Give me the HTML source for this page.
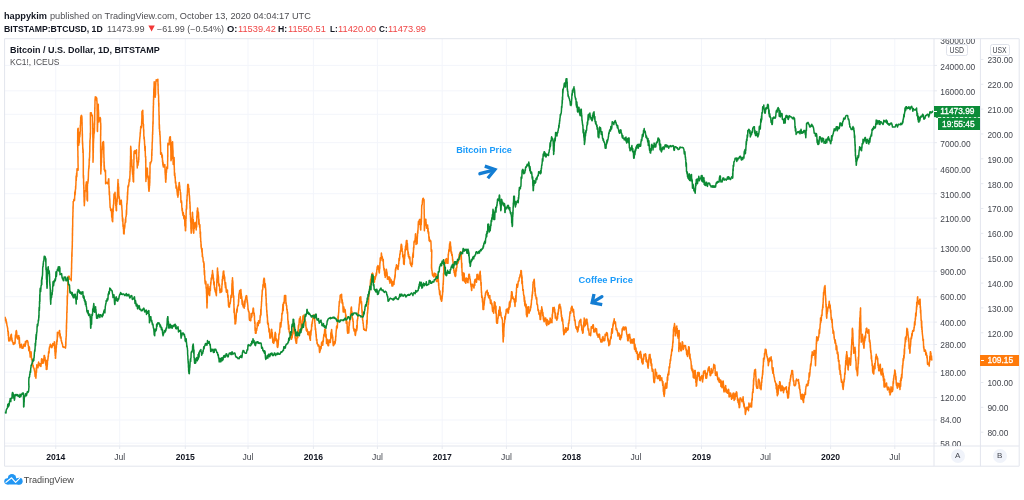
<!DOCTYPE html>
<html><head><meta charset="utf-8"><title>BTCUSD vs Coffee</title>
<style>
html,body{margin:0;padding:0;background:#fff;}
body{width:1024px;height:500px;position:relative;overflow:hidden;font-family:"Liberation Sans",sans-serif;}
.t{position:absolute;white-space:nowrap;line-height:1;}
.b{font-weight:bold;}
.ax{position:absolute;white-space:nowrap;line-height:1;font-size:8.4px;color:#44474f;}
.r{color:#f04545;}
.k{color:#131722;}
.g{color:#4e4e52;}
#wrap{position:absolute;left:0;top:0;width:1024px;height:500px;will-change:transform;}
</style></head><body><div id="wrap">
<svg width="1024" height="500" viewBox="0 0 1024 500" style="position:absolute;left:0;top:0">
<path d="M4.6,65.40H934.0 M4.6,90.82H934.0 M4.6,114.32H934.0 M4.6,142.66H934.0 M4.6,168.98H934.0 M4.6,193.73H934.0 M4.6,218.14H934.0 M4.6,248.21H934.0 M4.6,271.27H934.0 M4.6,296.69H934.0 M4.6,322.12H934.0 M4.6,344.48H934.0 M4.6,372.18H934.0 M4.6,397.60H934.0 M4.6,419.97H934.0 M4.6,443.19H934.0 M55.75,38.7V446.0 M119.70,38.7V446.0 M185.30,38.7V446.0 M248.00,38.7V446.0 M313.40,38.7V446.0 M377.40,38.7V446.0 M442.20,38.7V446.0 M506.40,38.7V446.0 M571.50,38.7V446.0 M635.90,38.7V446.0 M701.50,38.7V446.0 M765.50,38.7V446.0 M830.60,38.7V446.0 M894.80,38.7V446.0" stroke="#f3f5fb" stroke-width="1" fill="none"/>
<path d="M4.6,38.7H1019.2V466.2H4.6Z M934.0,38.7V466.2 M980.4,38.7V466.2 M4.6,446.0H1019.2" stroke="#e2e5ed" stroke-width="1" fill="none"/>
<path d="M934.0,65.40h3 M934.0,90.82h3 M934.0,114.32h3 M934.0,142.66h3 M934.0,168.98h3 M934.0,193.73h3 M934.0,218.14h3 M934.0,248.21h3 M934.0,271.27h3 M934.0,296.69h3 M934.0,322.12h3 M934.0,344.48h3 M934.0,372.18h3 M934.0,397.60h3 M934.0,419.97h3 M934.0,443.19h3 M980.4,432.19h3 M980.4,407.34h3 M980.4,382.49h3 M980.4,357.64h3 M980.4,332.78h3 M980.4,307.93h3 M980.4,283.08h3 M980.4,258.22h3 M980.4,233.37h3 M980.4,208.52h3 M980.4,183.66h3 M980.4,158.81h3 M980.4,133.96h3 M980.4,109.11h3 M980.4,84.25h3 M980.4,59.40h3 M55.75,446.0v3 M119.70,446.0v3 M185.30,446.0v3 M248.00,446.0v3 M313.40,446.0v3 M377.40,446.0v3 M442.20,446.0v3 M506.40,446.0v3 M571.50,446.0v3 M635.90,446.0v3 M701.50,446.0v3 M765.50,446.0v3 M830.60,446.0v3 M894.80,446.0v3" stroke="#e6e9f0" stroke-width="1" fill="none"/>
<clipPath id="cp"><rect x="4.6" y="38.7" width="929.4" height="407.3"/></clipPath>
<g clip-path="url(#cp)" fill="none" stroke-linejoin="round" stroke-linecap="round">
<path d="M5.0,317.8 5.2,317.4 5.4,320.8 5.5,320.1 5.7,318.8 5.9,320.7 6.1,319.8 6.2,322.9 6.5,321.8 6.8,323.8 7.0,325.6 7.2,326.0 7.5,327.6 7.6,328.5 7.7,327.9 7.8,331.5 7.8,331.5 7.9,330.3 8.0,331.2 8.1,333.6 8.2,332.1 8.2,335.6 8.3,331.5 8.4,332.4 8.5,336.4 8.6,339.4 8.7,339.4 8.8,340.9 9.1,340.9 9.4,339.7 9.7,339.2 10.0,340.7 10.2,337.3 10.3,337.2 10.5,337.7 10.6,336.9 10.8,336.2 10.9,334.9 11.1,338.4 11.2,334.8 11.4,334.3 11.5,336.8 11.7,340.0 11.8,338.4 11.9,337.9 12.1,340.9 12.2,341.5 12.4,340.5 12.5,341.9 12.9,342.3 13.3,344.3 13.8,344.4 14.1,344.0 14.4,342.5 14.7,343.4 15.0,343.4 15.1,341.9 15.2,338.9 15.3,337.1 15.4,335.1 15.5,336.4 15.6,335.9 15.7,335.6 15.8,335.7 15.9,333.5 16.0,331.8 16.1,330.9 16.2,331.7 16.4,330.6 16.5,331.8 16.7,331.8 16.8,334.0 16.9,337.8 17.1,337.8 17.2,338.4 17.4,335.8 17.5,338.7 17.8,339.0 18.1,337.2 18.4,338.8 18.8,336.5 18.8,335.6 18.9,335.8 19.0,338.5 19.1,339.2 19.2,343.6 19.3,338.9 19.4,337.4 19.5,341.9 19.6,342.0 19.6,343.5 19.7,345.5 19.8,346.2 19.9,345.0 20.0,347.7 20.3,347.0 20.6,346.6 20.9,345.5 21.2,344.3 21.6,344.3 21.9,348.2 22.2,348.2 22.5,347.7 22.8,347.0 23.0,348.2 23.2,347.3 23.5,346.0 23.8,344.4 24.1,344.2 24.4,345.0 24.7,344.1 25.0,346.4 25.2,346.1 25.4,341.6 25.5,343.2 25.7,344.1 25.9,342.0 26.1,341.2 26.2,341.3 26.7,340.6 27.1,341.6 27.5,340.6 27.7,342.2 27.9,341.8 28.0,342.1 28.2,345.5 28.4,345.1 28.6,348.2 28.8,350.8 28.9,347.7 29.1,346.8 29.3,346.8 29.5,347.8 29.6,350.1 29.8,353.2 30.0,353.8 30.2,357.1 30.4,357.1 30.5,353.9 30.7,352.8 30.9,351.8 31.1,351.8 31.2,352.7 31.4,356.8 31.6,359.7 31.8,358.9 32.0,358.8 32.1,359.7 32.3,360.2 32.5,361.3 32.7,365.1 32.9,365.3 33.0,366.7 33.2,365.5 33.4,367.4 33.6,367.8 33.8,367.9 34.0,368.2 34.2,369.4 34.5,371.1 34.8,371.9 35.0,375.0 35.1,376.5 35.2,372.8 35.3,373.5 35.4,376.0 35.5,376.6 35.6,372.3 35.7,372.2 35.8,377.7 35.8,377.2 35.9,378.2 36.0,376.2 36.1,375.3 36.2,371.8 36.2,368.0 36.3,369.4 36.4,369.5 36.5,372.4 36.6,369.6 36.7,366.8 36.8,364.8 37.1,365.8 37.4,365.9 37.7,367.4 38.0,367.7 38.3,363.6 38.6,362.1 38.9,365.7 39.2,363.3 39.5,365.1 39.8,364.8 40.0,363.7 40.2,365.6 40.5,366.3 40.6,364.7 40.8,364.7 40.9,366.4 41.1,363.4 41.2,364.1 41.3,363.5 41.5,359.3 41.6,358.8 41.8,358.8 42.0,359.3 42.2,362.8 42.5,363.2 42.8,361.4 43.0,362.4 43.2,359.2 43.3,361.8 43.5,361.8 43.6,363.1 43.8,360.6 43.9,359.5 44.1,355.6 44.2,356.1 44.5,355.6 44.8,357.8 45.0,357.4 45.2,360.7 45.5,360.8 45.6,360.7 45.7,361.0 45.8,365.2 46.0,362.8 46.1,360.2 46.2,366.0 46.3,369.4 46.4,364.7 46.5,365.4 46.6,367.4 46.8,368.3 46.8,368.6 46.9,369.0 47.0,369.1 47.1,366.5 47.2,366.7 47.3,365.1 47.4,364.7 47.5,361.2 47.6,361.3 47.6,360.5 47.7,360.0 47.8,360.8 47.9,358.6 48.0,359.9 48.1,355.9 48.2,357.2 48.3,356.8 48.4,356.3 48.5,353.5 48.6,351.8 48.7,352.7 48.8,353.0 48.9,351.3 49.0,351.9 49.1,353.0 49.2,348.8 49.6,346.7 49.9,347.5 50.2,344.4 50.5,344.3 50.8,346.6 51.1,345.0 51.4,345.9 51.8,347.7 52.0,347.3 52.2,346.5 52.5,345.8 52.8,343.5 53.0,345.6 53.4,344.2 53.8,344.4 54.2,343.3 54.3,341.8 54.4,341.8 54.5,342.0 54.5,343.6 54.6,347.0 54.7,348.9 54.7,347.9 54.8,348.9 54.9,348.4 54.9,351.8 55.0,350.9 55.1,353.5 55.2,354.4 55.2,355.7 55.3,355.2 55.4,355.6 55.4,358.2 55.5,357.7 55.6,358.2 55.6,354.6 55.7,355.3 55.8,351.8 55.8,352.2 55.9,353.0 55.9,351.4 56.0,351.5 56.1,351.7 56.1,348.0 56.2,344.4 56.2,345.1 56.3,348.1 56.4,346.7 56.4,346.6 56.5,343.6 56.6,341.7 56.6,342.5 56.7,342.4 56.8,344.5 56.9,339.9 57.0,341.9 57.1,341.9 57.2,340.8 57.3,336.2 57.4,332.3 57.5,335.5 57.7,337.1 57.8,332.5 57.9,334.4 58.0,333.2 58.4,332.7 58.8,332.5 59.2,331.7 59.4,330.6 59.6,330.6 59.7,335.0 59.9,336.2 60.0,333.9 60.2,333.8 60.3,337.9 60.5,336.5 60.8,336.8 61.0,337.5 61.2,340.9 61.5,340.5 61.8,343.1 61.9,342.4 62.1,343.1 62.3,343.7 62.5,344.5 62.6,345.0 62.8,346.9 63.0,347.0 63.4,346.5 63.8,347.4 64.2,347.1 64.7,347.5 65.1,347.4 65.5,348.1 65.6,346.9 65.6,346.9 65.7,344.6 65.7,341.7 65.8,342.2 65.8,345.9 65.9,342.9 65.9,338.6 66.0,338.5 66.0,340.2 66.1,338.0 66.1,336.9 66.2,336.3 66.2,336.6 66.3,335.7 66.3,333.8 66.3,333.4 66.3,330.2 66.4,332.0 66.4,328.7 66.4,326.6 66.4,325.0 66.5,325.8 66.5,328.7 66.5,325.4 66.5,322.6 66.6,322.4 66.6,321.7 66.6,320.0 66.6,319.7 66.6,320.9 66.7,323.2 66.7,321.9 66.7,321.3 66.7,320.9 66.8,317.3 66.8,314.3 66.8,314.2 66.8,312.5 66.9,311.8 66.9,310.7 66.9,312.3 66.9,312.0 67.0,313.0 67.0,309.8 67.0,306.6 67.1,308.7 67.1,310.0 67.1,309.1 67.1,306.8 67.2,304.5 67.2,300.8 67.2,295.7 67.3,300.3 67.3,304.3 67.3,300.7 67.4,298.3 67.4,296.2 67.4,297.4 67.4,296.8 67.5,296.9 67.5,296.9 67.5,295.7 67.6,295.7 67.6,292.5 67.6,290.7 67.6,292.6 67.7,291.8 67.7,292.2 67.7,290.9 67.7,289.6 67.8,289.0 67.8,285.0 67.8,285.9 67.9,282.1 67.9,283.6 67.9,284.8 67.9,282.2 68.0,281.4 68.0,279.9 68.0,278.9 68.0,279.0 68.1,278.4 68.1,277.2 68.4,276.3 68.8,276.3 69.2,276.3 69.5,279.0 70.1,279.3 70.6,278.8 71.2,279.1 71.2,277.8 71.2,280.7 71.3,277.3 71.3,278.1 71.3,274.3 71.3,276.7 71.3,274.0 71.4,274.1 71.4,275.4 71.4,273.1 71.4,272.0 71.5,271.2 71.5,272.2 71.5,269.8 71.5,268.0 71.5,268.2 71.6,267.3 71.6,268.9 71.6,267.5 71.6,264.7 71.7,260.4 71.7,262.5 71.7,263.2 71.8,259.4 71.8,256.6 71.8,254.4 71.8,256.0 71.9,252.2 71.9,253.6 71.9,255.8 72.0,256.5 72.0,250.7 72.0,251.1 72.0,252.7 72.1,249.7 72.1,249.7 72.1,248.2 72.2,249.0 72.2,246.0 72.2,245.4 72.2,245.9 72.2,247.5 72.3,246.7 72.3,245.4 72.3,242.3 72.3,241.8 72.3,241.2 72.4,241.7 72.4,241.0 72.4,236.7 72.4,236.7 72.4,233.0 72.4,233.9 72.5,236.1 72.5,234.1 72.5,235.2 72.5,230.2 72.5,229.6 72.5,228.9 72.5,228.0 72.6,229.6 72.6,230.4 72.6,229.4 72.6,228.3 72.6,225.4 72.7,226.9 72.7,224.6 72.7,225.1 72.7,222.0 72.7,218.7 72.7,218.2 72.8,218.5 72.8,216.3 72.8,216.0 72.8,217.7 72.9,217.0 72.9,214.9 72.9,214.0 72.9,212.2 73.0,211.8 73.0,212.1 73.0,208.9 73.0,206.7 73.0,206.9 73.1,208.8 73.1,205.5 73.1,205.8 73.1,207.7 73.2,204.5 73.2,201.8 73.2,201.9 73.2,204.0 73.2,201.6 73.6,201.5 73.9,199.3 74.2,199.3 74.5,200.4 74.6,199.1 74.6,197.5 74.7,197.1 74.8,192.1 74.8,194.2 74.9,193.3 75.0,193.7 75.0,193.6 75.1,195.0 75.2,191.6 75.2,190.6 75.3,193.2 75.4,189.5 75.4,189.8 75.5,189.7 75.6,188.7 75.6,186.3 75.7,188.0 75.7,188.6 75.8,185.6 75.9,185.1 75.9,183.0 76.0,182.1 76.0,180.9 76.1,175.9 76.2,177.6 76.2,180.3 76.3,178.8 76.3,180.6 76.4,175.8 76.5,175.8 76.6,173.1 76.7,172.9 76.8,176.7 76.9,174.1 77.0,168.8 77.1,168.8 77.2,170.2 77.7,170.2 78.1,170.2 78.1,170.0 78.1,166.3 78.1,164.7 78.1,166.9 78.1,167.4 78.1,167.5 78.1,167.1 78.0,161.6 78.0,161.7 78.0,162.7 78.0,162.3 78.0,160.7 78.0,158.5 78.0,156.3 78.0,158.2 78.0,157.7 78.0,157.7 77.9,155.7 77.9,157.3 77.9,153.8 77.9,153.3 77.9,150.9 77.8,150.3 77.8,148.6 77.8,145.3 77.8,146.9 77.8,148.7 77.8,145.2 77.7,147.4 77.7,146.0 77.7,143.8 77.7,141.7 77.7,142.0 77.6,140.3 77.6,141.8 77.6,144.4 77.6,140.7 77.7,140.7 77.7,138.7 77.7,136.9 77.7,133.0 77.8,128.7 77.8,136.4 77.8,135.7 77.9,134.4 77.9,134.1 77.9,134.7 77.9,132.8 78.0,130.7 78.0,128.7 78.0,130.3 78.1,130.5 78.1,131.4 78.2,128.2 78.2,130.1 78.2,136.5 78.3,136.0 78.3,135.0 78.4,135.5 78.4,134.9 78.4,141.5 78.5,142.3 78.5,145.3 78.6,141.0 78.6,139.2 78.6,139.3 78.7,141.0 78.7,144.0 78.8,144.9 78.8,145.2 78.9,142.9 79.0,142.6 79.1,141.1 79.1,137.9 79.2,141.0 79.3,142.5 79.4,142.7 79.4,138.7 79.5,136.0 79.6,134.2 79.7,132.0 79.7,132.6 79.8,136.9 79.9,134.7 80.0,132.5 80.0,132.9 80.1,134.1 80.2,131.8 80.3,131.6 80.3,125.3 80.4,125.9 80.5,125.2 80.5,125.4 80.6,120.7 80.6,120.5 80.6,122.6 80.6,120.8 80.7,120.4 80.7,120.0 80.7,119.5 80.7,117.5 80.8,117.2 80.8,117.8 81.0,116.0 81.2,115.6 81.4,115.3 81.7,115.8 81.9,116.8 81.9,118.0 81.9,117.8 82.0,119.0 82.0,118.7 82.0,119.7 82.0,121.0 82.0,123.4 82.0,123.5 82.0,123.8 82.1,122.2 82.1,122.6 82.1,123.5 82.1,125.3 82.1,127.1 82.2,128.1 82.2,127.5 82.2,131.1 82.2,129.8 82.3,131.2 82.3,132.2 82.3,134.7 82.3,136.1 82.4,134.5 82.4,133.7 82.4,134.7 82.4,138.2 82.4,139.8 82.5,144.0 82.5,140.8 82.5,141.9 82.5,141.2 82.6,142.9 82.6,143.9 82.6,145.2 82.6,142.5 82.7,145.4 82.7,143.4 82.7,144.8 82.8,149.4 82.8,147.7 82.9,147.9 82.9,152.8 83.0,152.0 83.0,151.5 83.1,149.6 83.1,150.0 83.2,152.0 83.2,154.6 83.3,158.9 83.3,160.3 83.3,158.1 83.3,158.7 83.3,158.3 83.3,158.4 83.3,162.5 83.3,164.1 83.3,163.5 83.3,166.5 83.3,166.1 83.3,166.8 83.3,166.8 83.3,171.9 83.3,170.4 83.3,170.8 83.3,170.3 83.3,172.8 83.3,173.3 83.3,172.6 83.3,175.6 83.4,177.9 83.4,176.9 83.4,177.5 83.5,177.7 83.5,178.8 83.5,175.3 83.6,178.3 83.6,181.8 83.6,180.9 83.6,184.6 83.7,183.0 83.7,182.0 83.7,184.9 83.8,186.0 83.8,187.1 83.8,188.4 83.9,188.7 83.9,189.0 83.9,187.3 83.9,191.2 84.0,197.2 84.0,195.4 84.0,194.5 84.0,191.6 84.0,192.8 84.1,195.0 84.1,195.1 84.1,201.8 84.1,200.6 84.1,196.8 84.1,198.0 84.2,200.9 84.2,203.0 84.2,202.4 84.2,201.0 84.2,202.5 84.3,202.4 84.3,203.4 84.3,204.7 84.3,205.7 84.4,204.7 84.4,204.1 84.5,203.2 84.5,202.2 84.6,200.8 84.6,201.1 84.7,198.8 84.7,199.7 84.7,200.3 84.8,197.4 84.8,196.2 84.9,196.8 84.9,192.8 85.0,192.5 85.0,191.6 85.3,190.5 85.5,190.7 85.8,190.4 85.9,190.7 85.9,185.1 86.0,185.0 86.1,183.8 86.1,184.0 86.2,185.6 86.3,182.8 86.3,181.9 86.4,182.5 86.4,182.5 86.5,181.9 86.5,181.9 86.6,184.8 86.6,188.5 86.6,188.3 86.7,189.9 86.7,190.8 86.8,191.4 86.8,191.1 86.8,192.3 86.9,190.3 86.9,190.3 87.0,192.4 87.0,198.7 87.1,200.3 87.1,197.8 87.2,199.0 87.2,200.5 87.3,199.0 87.4,196.5 87.4,198.6 87.5,200.9 87.5,198.0 87.5,195.0 87.5,198.6 87.5,198.7 87.5,197.5 87.5,196.3 87.5,191.2 87.5,192.5 87.4,194.7 87.4,193.9 87.4,193.1 87.4,189.4 87.4,187.3 87.4,187.3 87.4,187.3 87.4,186.6 87.5,185.4 87.5,184.8 87.6,183.9 87.7,182.4 87.7,182.1 87.8,183.6 87.8,181.9 87.9,182.1 88.0,181.4 88.0,182.2 88.1,179.3 88.2,181.1 88.2,180.2 88.3,179.1 88.3,178.3 88.4,176.0 88.5,171.9 88.5,171.9 88.6,171.0 88.7,168.5 88.7,169.5 88.8,167.9 88.8,168.9 88.9,168.3 88.9,165.7 89.0,168.0 89.0,165.7 89.1,166.7 89.1,165.5 89.2,161.4 89.2,158.9 89.3,159.4 89.3,158.9 89.4,160.8 89.4,159.6 89.5,157.2 89.5,157.6 89.6,157.4 89.6,156.8 89.6,153.9 89.7,152.4 89.7,153.0 89.7,153.1 89.7,153.3 89.7,151.9 89.8,151.6 89.8,149.5 89.8,147.2 89.8,145.7 89.8,148.3 89.9,144.1 89.9,144.1 89.9,140.5 89.9,141.0 90.0,143.3 90.0,140.9 90.1,139.2 90.1,139.1 90.1,139.7 90.2,137.8 90.2,138.8 90.3,136.9 90.3,133.0 90.3,133.4 90.4,135.2 90.4,133.4 90.5,132.3 90.5,134.3 90.5,132.2 90.5,132.2 90.5,129.7 90.5,128.0 90.5,126.8 90.5,125.0 90.5,124.3 90.5,124.8 90.5,125.7 90.5,125.6 90.5,126.5 90.4,123.9 90.4,123.2 90.4,119.5 90.4,117.4 90.4,116.5 90.4,115.2 90.4,117.0 90.4,114.6 90.4,114.1 90.4,113.0 90.4,112.7 90.8,113.4 91.1,112.7 91.3,112.9 91.5,114.1 91.8,115.8 92.1,115.9 92.4,115.4 92.4,116.4 92.5,117.6 92.5,119.2 92.5,119.8 92.6,124.5 92.6,124.5 92.6,121.7 92.7,124.2 92.7,125.5 92.7,124.0 92.7,126.4 92.7,127.9 92.7,128.8 92.8,123.0 92.8,124.5 92.8,129.6 92.8,128.7 92.8,131.6 92.8,134.0 92.8,133.7 92.8,137.0 92.8,136.9 92.8,137.6 92.9,136.4 92.9,140.2 92.9,139.9 92.9,139.7 92.9,140.7 92.9,141.7 92.9,141.9 92.9,144.2 92.9,143.6 92.9,143.2 92.9,145.7 92.9,146.3 92.9,144.5 92.9,145.9 92.9,149.9 92.9,149.1 92.9,147.6 92.9,149.9 93.0,151.0 93.0,155.1 93.0,156.5 93.0,152.5 93.0,153.9 93.0,155.8 93.0,157.1 93.0,158.8 93.0,158.4 93.0,157.9 93.0,158.8 93.0,158.4 93.0,159.6 93.0,161.6 93.0,162.3 93.0,161.5 93.1,160.2 93.1,156.7 93.1,156.1 93.1,158.5 93.1,158.8 93.2,158.4 93.2,155.8 93.2,153.7 93.2,152.1 93.2,151.8 93.2,150.2 93.3,150.8 93.3,152.8 93.3,151.3 93.3,145.7 93.3,146.2 93.4,148.1 93.4,145.9 93.4,141.7 93.4,142.0 93.4,140.6 93.5,143.3 93.5,143.2 93.5,142.2 93.6,140.7 93.6,138.1 93.7,139.0 93.7,135.2 93.8,136.5 93.8,138.1 93.9,133.7 94.0,132.9 94.0,134.4 94.1,133.3 94.1,134.3 94.2,131.3 94.3,132.8 94.3,128.7 94.4,127.8 94.4,131.5 94.5,128.2 94.5,124.4 94.6,123.4 94.6,124.7 94.6,123.3 94.6,121.2 94.6,121.3 94.7,120.4 94.7,115.6 94.7,114.6 94.7,120.7 94.7,120.6 94.7,119.9 94.7,116.6 94.7,113.0 94.8,111.5 94.8,109.3 94.8,107.4 94.8,107.4 94.8,110.0 94.8,110.7 94.8,108.0 94.9,108.0 94.9,109.1 94.9,107.6 94.9,104.4 94.9,105.2 95.0,103.4 95.0,101.8 95.0,100.5 95.0,100.8 95.1,98.7 95.2,99.1 95.3,96.8 95.4,98.1 95.5,97.3 96.0,97.7 96.4,97.3 96.5,98.5 96.6,100.7 96.7,100.8 96.8,98.3 96.9,101.1 96.9,100.5 97.0,102.0 97.0,104.3 97.1,103.5 97.1,103.8 97.1,106.6 97.1,110.3 97.1,110.5 97.1,111.1 97.1,109.6 97.2,111.5 97.2,109.1 97.2,112.3 97.2,111.0 97.2,112.5 97.2,112.4 97.2,114.3 97.2,114.7 97.2,117.8 97.2,120.4 97.3,119.8 97.3,120.5 97.3,121.5 97.3,125.3 97.3,125.3 97.3,122.0 97.3,122.9 97.3,125.7 97.3,129.1 97.3,130.8 97.4,125.6 97.4,124.4 97.4,128.1 97.4,129.8 97.4,130.6 97.4,131.5 97.4,130.6 97.5,131.6 97.5,130.8 97.5,129.2 97.5,127.0 97.6,127.4 97.6,124.5 97.6,122.9 97.6,124.1 97.7,124.9 97.7,120.4 97.7,117.5 97.7,119.2 97.8,118.7 97.8,120.0 97.8,115.1 97.8,114.0 97.9,113.0 97.9,112.5 97.9,116.7 97.9,113.2 98.0,110.6 98.0,111.3 98.0,113.1 98.0,111.1 98.1,111.4 98.1,109.7 98.1,107.7 98.1,105.6 98.2,105.5 98.2,104.8 98.2,105.7 98.3,104.3 98.3,105.3 98.3,108.5 98.4,109.7 98.4,109.7 98.5,110.9 98.5,111.3 98.5,112.1 98.6,112.5 98.6,114.3 98.6,113.1 98.6,114.0 98.6,116.4 98.7,117.6 98.7,120.9 98.7,122.0 98.7,118.3 98.7,118.0 98.8,121.4 99.0,120.4 99.2,119.4 99.5,120.0 99.7,120.7 100.0,120.7 100.2,117.5 100.3,119.9 100.3,120.6 100.4,118.7 100.4,120.5 100.5,118.6 100.5,122.9 100.6,123.0 100.6,122.3 100.7,122.5 100.7,122.4 100.8,125.6 100.8,129.8 100.8,129.0 100.8,128.6 100.8,125.8 100.7,129.0 100.7,132.9 100.7,132.6 100.7,132.2 100.7,133.9 100.7,135.4 100.7,136.0 100.7,134.7 100.6,135.2 100.6,134.2 100.6,135.3 100.6,140.5 100.6,141.9 100.6,141.7 100.6,140.4 100.6,140.2 100.6,141.7 100.6,141.3 100.6,142.1 100.6,142.5 100.6,145.4 100.6,147.3 100.6,150.9 100.7,153.9 100.7,152.5 100.7,152.2 100.7,151.2 100.7,155.6 100.7,159.0 100.7,157.9 100.7,152.1 100.7,154.8 100.7,155.6 100.7,159.6 100.7,158.8 100.7,160.3 100.7,162.1 100.7,160.1 100.7,157.9 100.7,160.8 100.7,165.1 100.7,164.6 100.8,166.5 100.8,165.6 100.8,163.1 100.8,166.1 100.8,169.4 100.8,169.8 100.8,169.2 100.8,173.2 100.8,172.1 100.8,173.1 100.8,173.9 100.8,171.7 100.9,172.0 100.9,170.6 101.0,169.7 101.0,171.3 101.0,171.0 101.1,169.1 101.1,165.7 101.2,166.2 101.2,165.1 101.3,165.4 101.3,162.6 101.3,163.2 101.4,162.5 101.4,162.9 101.5,162.4 101.5,161.9 101.5,159.3 101.6,157.5 101.6,157.9 101.7,156.7 101.7,157.5 101.8,153.8 101.8,151.5 101.8,150.2 101.9,153.4 101.9,152.8 102.0,149.3 102.0,150.3 102.2,149.8 102.3,146.6 102.5,145.3 102.6,142.5 102.8,143.7 103.0,144.8 103.1,145.8 103.3,144.6 103.4,141.6 103.6,142.2 103.6,142.8 103.6,143.4 103.7,145.7 103.7,146.0 103.7,147.1 103.7,145.2 103.7,149.4 103.8,149.6 103.8,146.8 103.8,147.8 103.8,150.6 103.8,152.3 103.8,153.8 103.9,154.9 103.9,155.2 103.9,157.0 103.9,157.7 103.9,157.5 104.0,158.0 104.0,158.6 104.0,158.3 104.0,162.1 104.1,166.7 104.1,165.4 104.2,161.7 104.2,166.6 104.2,169.7 104.3,168.0 104.3,165.0 104.4,167.2 104.4,166.7 104.5,168.2 104.5,169.6 105.0,171.7 105.5,172.5 105.5,171.1 105.5,170.3 105.5,170.3 105.5,173.2 105.5,175.5 105.6,175.6 105.6,177.6 105.6,178.6 105.6,179.8 105.6,180.7 105.6,183.7 105.9,183.3 106.3,182.5 106.7,182.3 107.0,183.1 107.3,182.8 107.6,183.7 107.8,182.8 108.1,182.1 108.4,180.0 108.5,181.8 108.5,179.0 108.6,180.3 108.7,180.8 108.8,179.6 108.8,178.8 108.9,183.6 109.0,187.9 109.1,187.0 109.1,186.2 109.2,190.5 109.2,191.5 109.3,194.5 109.3,195.1 109.3,192.7 109.4,192.2 109.4,191.2 109.4,191.2 109.5,192.4 109.5,194.4 109.5,195.0 109.6,195.3 109.6,196.3 109.7,200.1 109.7,200.1 109.8,198.8 109.8,199.5 109.9,201.5 109.9,203.2 110.0,203.7 110.0,204.4 110.1,207.6 110.1,207.2 110.2,207.0 110.2,207.2 110.5,208.6 110.7,210.3 111.0,209.7 111.2,209.7 111.3,210.6 111.4,212.3 111.5,209.3 111.6,212.7 111.7,217.2 111.8,216.8 111.9,215.7 112.0,215.1 112.1,216.0 112.1,217.6 112.2,220.6 112.3,220.9 112.4,220.9 112.5,220.6 112.5,219.0 112.6,221.2 112.7,221.7 112.7,219.1 112.8,217.7 112.8,218.6 112.8,216.7 112.9,214.4 113.0,211.0 113.0,210.7 113.0,207.9 113.1,210.0 113.2,211.9 113.2,208.8 113.2,208.7 113.3,208.8 113.3,205.4 113.4,207.6 113.5,205.0 113.5,204.9 113.5,204.2 113.6,204.9 113.7,200.7 113.7,200.9 113.8,199.2 113.9,197.7 114.0,194.0 114.2,196.1 114.3,194.4 114.4,195.4 114.6,197.8 114.7,197.1 114.9,196.6 115.0,192.3 115.1,193.0 115.1,194.5 115.2,198.6 115.2,198.8 115.3,196.4 115.4,197.9 115.4,199.5 115.5,200.6 115.5,204.1 115.6,200.9 115.7,200.8 115.7,205.4 115.8,205.1 115.8,203.2 115.9,204.2 116.0,207.2 116.0,207.4 116.1,206.4 116.1,207.8 116.2,210.4 116.2,210.2 116.3,210.7 116.4,210.7 116.5,210.7 116.5,207.7 116.6,203.5 116.7,203.2 116.7,203.5 116.8,204.6 116.9,200.9 116.9,200.8 117.0,198.8 117.1,201.9 117.2,199.7 117.2,198.6 117.3,197.5 117.4,197.2 117.4,195.9 117.5,194.4 117.5,192.1 117.6,193.8 117.6,192.9 117.6,187.6 117.6,187.3 117.7,188.2 117.7,188.2 117.7,187.2 117.7,185.8 117.8,185.0 117.8,185.7 117.8,187.4 117.8,184.5 117.9,182.0 117.9,182.7 117.9,182.6 117.9,181.7 118.0,182.2 118.0,179.5 118.0,180.1 118.1,182.4 118.1,182.4 118.2,183.3 118.2,184.9 118.3,184.3 118.3,185.1 118.4,183.8 118.4,184.8 118.4,191.0 118.5,191.7 118.5,192.9 118.6,190.7 118.6,186.9 118.7,187.0 118.7,191.0 118.8,192.1 118.8,193.6 118.9,195.5 119.0,198.4 119.1,197.1 119.2,196.4 119.2,196.8 119.3,198.0 119.4,197.5 119.5,199.2 119.6,202.9 119.7,204.2 119.8,204.4 119.8,203.0 119.9,200.7 120.0,204.5 120.2,202.0 120.5,203.5 120.8,202.0 121.0,200.3 121.2,201.0 121.3,200.3 121.4,203.1 121.4,201.4 121.5,204.3 121.6,206.2 121.6,204.5 121.7,205.3 121.8,205.8 121.8,207.4 121.9,208.3 121.9,208.9 122.0,210.3 122.1,210.6 122.1,210.8 122.2,213.8 122.2,216.5 122.3,215.0 122.4,217.4 122.4,218.2 122.5,220.7 122.6,221.3 122.6,217.6 122.7,218.5 122.8,219.8 122.8,219.2 122.9,218.8 122.9,222.3 123.0,226.5 123.1,224.1 123.1,224.7 123.2,225.6 123.2,226.7 123.3,227.7 123.4,229.0 123.4,227.2 123.5,228.2 123.6,231.8 123.6,233.5 123.7,233.6 123.8,233.4 123.8,229.1 123.9,230.0 124.0,232.8 124.1,233.9 124.2,232.5 124.3,227.0 124.4,225.8 124.5,229.0 124.6,227.8 124.6,227.3 124.7,225.3 124.8,227.1 124.9,225.0 125.0,223.1 125.1,223.2 125.3,221.7 125.4,219.3 125.6,219.0 125.7,222.3 125.8,217.4 126.0,216.7 126.1,216.5 126.2,216.0 126.3,213.7 126.4,210.1 126.4,213.0 126.5,214.4 126.5,214.6 126.6,212.2 126.6,210.2 126.7,209.1 126.7,206.6 126.8,204.8 126.8,204.1 126.9,203.0 126.9,203.6 127.0,204.0 127.0,204.3 127.1,202.7 127.1,201.6 127.2,200.5 127.2,200.7 127.3,199.5 127.3,196.1 127.4,196.2 127.4,200.3 127.5,197.2 127.5,192.5 127.6,191.8 127.6,191.8 127.7,193.7 127.7,194.5 127.8,190.8 127.8,189.4 127.9,190.2 127.9,186.5 128.1,187.6 128.2,185.6 128.4,185.1 128.6,186.1 128.7,185.6 128.9,183.2 129.1,181.4 129.2,179.7 129.4,179.1 129.6,181.5 129.8,177.2 129.8,179.6 129.8,177.1 129.9,175.8 129.9,176.5 129.9,176.5 130.0,174.3 130.0,172.9 130.0,171.1 130.1,171.3 130.1,172.3 130.1,171.5 130.2,170.3 130.2,167.4 130.2,166.5 130.3,167.2 130.3,166.5 130.3,162.6 130.4,164.2 130.4,167.0 130.4,163.5 130.4,162.2 130.4,159.9 130.5,163.9 130.5,160.0 130.5,156.7 130.5,156.1 130.5,158.0 130.5,161.3 130.6,159.2 130.6,150.2 130.6,147.9 130.6,151.3 130.6,151.5 130.6,152.4 130.6,150.4 130.7,149.5 130.7,146.2 130.7,146.2 130.7,147.8 130.8,150.0 130.8,150.0 130.8,150.6 130.9,147.5 130.9,148.5 131.0,154.7 131.0,149.7 131.1,150.4 131.2,154.5 131.2,158.3 131.2,156.5 131.3,156.0 131.3,159.4 131.4,160.3 131.4,160.7 131.5,160.6 131.6,163.4 131.6,159.6 131.7,160.0 131.8,159.9 131.8,161.2 131.9,165.4 132.0,167.8 132.0,168.1 132.1,168.4 132.2,166.2 132.2,168.2 132.3,170.7 132.4,172.0 132.5,172.9 132.6,174.4 132.6,172.7 132.7,170.2 132.8,172.0 132.9,176.7 133.0,177.2 133.1,179.3 133.2,180.3 133.2,181.6 133.3,180.7 133.4,180.9 133.5,180.5 133.5,175.1 133.5,181.2 133.6,180.5 133.6,179.1 133.6,182.1 133.6,182.1 133.6,176.6 133.6,174.4 133.7,173.9 133.7,171.3 133.7,173.6 133.7,172.7 133.7,171.0 133.7,169.4 133.8,169.0 133.8,170.8 133.8,168.3 133.8,164.2 133.8,165.5 133.8,164.3 133.8,163.0 133.9,162.6 133.9,160.7 133.9,161.4 133.9,157.1 133.9,156.4 133.9,154.2 134.0,157.7 134.0,159.7 134.0,157.0 134.0,156.4 134.0,153.5 134.0,152.7 134.1,153.5 134.1,152.8 134.1,151.3 134.6,151.9 135.0,150.6 135.5,153.5 135.7,151.2 135.9,152.1 136.1,150.6 136.3,150.6 136.3,153.9 136.4,152.5 136.4,153.3 136.5,149.8 136.5,150.7 136.6,158.0 136.6,159.1 136.7,158.7 136.7,156.9 136.8,159.4 136.8,159.3 136.8,160.3 136.9,162.3 136.9,162.2 137.0,160.8 137.0,161.6 137.1,161.4 137.1,162.8 137.2,164.9 137.2,167.4 137.2,167.9 137.4,165.5 137.6,164.1 137.7,162.0 137.9,164.2 138.0,165.2 138.2,162.8 138.3,161.3 138.5,162.1 138.6,161.3 138.6,159.7 138.7,157.1 138.7,159.7 138.8,158.2 138.8,160.1 138.8,157.7 138.9,155.7 138.9,155.5 138.9,152.4 139.0,151.6 139.0,152.9 139.0,150.8 139.1,149.9 139.1,146.8 139.1,146.0 139.1,148.3 139.2,144.9 139.2,146.5 139.2,146.5 139.3,143.7 139.3,144.0 139.3,144.8 139.4,142.3 139.4,143.1 139.5,142.3 139.6,141.0 139.7,139.3 139.7,138.9 139.8,138.8 139.9,136.9 140.0,136.9 140.1,135.9 140.2,132.5 140.3,133.7 140.4,132.6 140.4,132.4 140.5,130.0 140.6,128.9 140.7,126.7 140.9,126.3 141.1,126.6 141.4,127.7 141.6,126.5 141.6,124.3 141.7,121.6 141.7,123.8 141.7,121.2 141.7,122.0 141.8,121.8 141.8,119.6 141.8,118.7 141.9,121.6 141.9,122.9 141.9,112.7 142.0,111.5 142.0,114.7 142.0,113.5 142.0,111.2 142.1,111.9 142.1,112.2 142.4,112.6 142.8,112.2 142.8,115.2 142.8,110.3 142.8,112.8 142.8,115.4 142.9,115.6 142.9,116.5 142.9,116.3 142.9,116.0 143.0,119.9 143.0,118.6 143.0,115.2 143.1,119.3 143.1,122.9 143.2,123.2 143.2,123.6 143.3,123.9 143.4,125.8 143.4,125.9 143.5,124.2 143.5,126.3 143.6,130.1 143.6,128.5 143.6,129.8 143.6,130.0 143.7,131.8 143.7,129.2 143.7,132.0 143.7,130.3 143.8,129.9 143.8,133.4 143.8,135.8 143.9,136.0 144.0,138.3 144.0,139.1 144.1,138.7 144.2,137.1 144.3,138.7 144.4,140.9 144.4,139.8 144.5,141.6 144.6,145.2 144.7,144.3 144.8,148.4 144.8,146.6 144.9,149.4 144.9,150.7 145.0,149.0 145.1,148.2 145.1,147.8 145.2,146.2 145.3,153.3 145.3,153.0 145.4,156.2 145.4,156.6 145.5,157.0 145.6,156.4 145.6,157.7 145.7,156.8 145.7,156.6 145.7,157.0 145.7,157.7 145.7,162.7 145.7,162.0 145.7,160.7 145.8,161.8 145.8,159.3 145.8,161.9 145.8,164.4 145.8,171.5 145.8,171.7 145.8,172.8 145.8,170.6 145.8,166.7 145.8,168.5 145.8,168.2 145.8,172.2 145.8,172.7 145.8,173.1 145.8,175.3 145.9,178.3 145.9,178.6 145.9,177.6 145.9,175.2 145.9,177.1 145.9,181.4 145.9,180.9 146.0,178.6 146.0,178.6 146.1,179.1 146.2,178.5 146.2,176.7 146.3,175.8 146.3,174.2 146.4,174.2 146.5,173.3 146.5,172.4 146.6,169.7 146.8,168.3 146.9,168.3 147.1,168.3 147.2,168.8 147.3,168.3 147.4,168.3 147.4,169.7 147.5,172.2 147.6,175.4 147.6,175.4 147.7,176.1 147.8,176.8 147.8,177.0 147.9,178.0 148.0,175.7 148.0,178.1 148.1,178.1 148.2,179.5 148.2,177.4 148.3,176.7 148.4,180.4 148.4,183.4 148.5,185.5 148.6,186.0 148.6,187.5 148.7,188.4 148.7,186.5 148.8,188.2 148.8,187.6 148.8,190.4 148.9,191.2 149.0,190.3 149.1,191.2 149.1,190.1 149.2,190.0 149.3,188.2 149.4,187.9 149.4,186.8 149.5,185.8 149.6,185.8 149.7,183.1 149.8,182.6 149.8,180.1 149.8,179.2 149.8,177.5 149.8,175.5 149.8,175.8 149.8,176.9 149.9,178.7 149.9,178.1 149.9,178.6 149.9,176.2 149.9,172.7 149.9,173.2 149.9,171.7 150.0,173.4 150.0,171.2 150.0,170.4 150.0,170.1 150.0,169.3 150.0,166.3 150.1,165.2 150.1,164.3 150.1,162.6 150.1,163.3 150.3,162.4 150.5,163.9 150.7,162.6 151.1,162.1 151.6,160.7 151.6,160.0 151.7,157.7 151.7,156.0 151.7,156.8 151.7,154.1 151.8,153.4 151.8,151.9 151.8,151.7 151.9,156.1 151.9,150.4 151.9,149.3 152.0,150.1 152.0,149.8 152.0,150.6 152.0,150.8 152.1,149.7 152.1,148.5 152.1,147.1 152.2,142.0 152.2,142.5 152.2,142.3 152.2,143.5 152.3,142.2 152.3,142.3 152.4,141.2 152.4,139.5 152.4,139.7 152.5,137.1 152.5,137.1 152.5,134.6 152.6,134.3 152.6,133.0 152.6,132.1 152.7,134.5 152.7,132.6 152.7,131.9 152.8,130.1 152.8,125.9 152.8,126.6 152.9,126.6 152.9,126.7 152.9,124.4 152.9,122.3 153.0,122.1 153.0,121.0 153.0,122.7 153.0,124.5 153.0,124.2 153.1,123.9 153.1,121.2 153.1,118.4 153.1,116.5 153.1,116.7 153.2,111.2 153.2,113.5 153.2,117.2 153.2,115.9 153.2,112.2 153.3,111.3 153.3,109.7 153.3,106.3 153.3,106.3 153.3,108.0 153.4,107.5 153.4,105.4 153.4,103.0 153.4,103.8 153.4,104.9 153.5,103.4 153.5,104.9 153.5,101.6 153.5,99.5 153.6,99.3 153.6,98.7 153.6,95.9 153.7,100.1 153.7,95.9 153.7,95.6 153.8,91.3 153.8,89.3 153.8,90.2 153.9,90.8 153.9,88.0 153.9,88.3 154.0,89.6 154.0,87.4 154.0,87.0 154.1,86.1 154.1,87.3 154.1,84.0 154.2,81.8 154.2,84.4 154.2,83.6 154.2,82.7 154.5,84.7 154.8,85.6 154.8,86.4 154.9,85.6 154.9,87.4 154.9,88.1 154.9,87.8 154.9,89.3 155.0,89.2 155.0,90.5 155.0,93.8 155.1,92.5 155.1,92.2 155.1,92.6 155.1,89.9 155.1,92.8 155.2,94.3 155.2,97.2 155.2,95.9 155.3,94.6 155.3,96.0 155.3,93.2 155.4,92.4 155.4,92.6 155.5,92.8 155.5,95.0 155.5,94.4 155.6,87.3 155.6,86.5 155.7,84.8 155.8,84.0 155.8,83.1 155.9,81.4 156.0,81.3 156.0,81.3 156.1,81.3 156.2,79.8 156.5,80.7 156.7,80.9 157.0,80.1 157.4,79.6 157.8,79.8 157.8,79.3 157.8,79.3 157.9,79.3 157.9,81.2 158.0,85.9 158.0,85.6 158.1,83.7 158.1,84.5 158.1,87.4 158.1,85.8 158.1,90.1 158.2,89.0 158.2,92.0 158.3,93.7 158.3,93.7 158.4,93.7 158.5,95.7 158.5,95.3 158.5,95.8 158.6,95.8 158.6,95.8 158.6,100.1 158.6,101.7 158.6,101.7 158.7,101.1 158.7,101.7 158.7,100.1 158.7,103.1 158.7,104.6 158.8,106.3 158.8,103.2 158.8,104.2 158.8,106.7 158.8,106.1 158.8,105.3 158.9,102.9 158.9,107.8 158.9,108.6 158.9,105.7 158.9,111.6 159.0,111.7 159.0,114.7 159.0,115.2 159.0,114.9 159.0,114.0 159.1,116.7 159.1,119.4 159.1,120.0 159.1,118.2 159.2,115.6 159.2,120.9 159.2,124.6 159.2,125.2 159.3,125.7 159.3,125.7 159.3,128.8 159.4,125.2 159.4,124.6 159.5,127.5 159.5,130.3 159.6,130.2 159.6,132.1 159.7,131.0 159.7,131.7 159.8,133.3 159.8,135.0 159.8,134.9 159.9,131.4 159.9,134.3 160.0,134.4 160.0,136.5 160.1,135.4 160.1,135.6 160.2,139.2 160.2,141.6 160.2,140.0 160.3,142.0 160.3,143.7 160.4,141.8 160.4,144.8 160.4,145.4 160.5,144.4 160.5,146.3 160.5,146.0 160.5,146.1 160.6,149.6 160.6,152.9 160.6,154.2 160.6,154.2 160.7,153.4 160.7,153.3 161.5,152.8 161.7,154.9 161.8,156.7 162.0,157.7 162.1,157.3 162.3,155.0 162.4,157.8 162.5,160.4 162.5,161.5 162.6,162.0 162.7,160.4 162.8,161.5 162.8,163.9 162.9,165.3 163.1,162.6 163.2,164.0 163.3,167.1 163.5,166.6 163.9,165.5 164.3,165.4 164.8,164.9 164.8,164.4 164.8,167.6 164.9,166.0 164.9,165.4 165.0,168.9 165.1,172.9 165.1,171.4 165.2,169.8 165.2,171.9 165.2,174.0 165.3,175.3 165.3,175.3 165.4,174.8 165.4,177.1 165.5,178.2 165.5,179.0 165.6,177.6 165.6,178.5 165.6,181.9 165.7,181.5 165.7,182.2 165.8,182.2 165.8,178.7 165.9,176.6 165.9,174.9 166.0,179.6 166.1,178.5 166.1,175.6 166.2,175.1 166.2,171.8 166.3,172.0 166.4,172.0 166.4,171.3 166.5,172.5 166.5,171.5 166.6,170.2 166.7,167.3 166.8,168.2 167.0,168.1 167.1,167.7 167.2,166.5 167.3,166.7 167.5,168.6 167.6,166.1 167.6,161.1 167.6,161.3 167.6,162.0 167.7,161.0 167.7,158.9 167.7,156.0 167.7,157.8 167.7,158.4 167.7,156.6 167.7,155.2 167.7,157.1 167.8,157.0 167.8,154.7 167.8,152.5 167.8,149.3 167.8,148.8 167.8,145.6 167.8,144.6 167.8,147.3 167.9,144.5 167.9,144.6 167.9,143.3 167.9,144.1 168.5,144.2 169.1,144.7 169.2,143.1 169.3,141.3 169.3,139.8 169.4,140.4 169.5,138.8 169.6,139.5 169.7,137.2 169.8,136.9 170.4,136.8 170.4,138.8 170.5,142.1 170.5,142.2 170.6,142.5 170.6,140.2 170.7,142.5 170.7,140.0 170.7,142.3 170.7,146.5 170.7,148.9 170.8,146.8 170.8,147.6 170.8,150.3 170.8,147.3 170.8,145.1 170.8,148.4 170.8,147.7 170.9,152.9 170.9,154.4 170.9,150.1 170.9,151.6 170.9,152.4 170.9,155.8 170.9,158.4 171.0,160.0 171.0,159.3 171.0,160.7 171.0,160.2 171.2,159.8 171.4,159.1 171.6,155.6 171.6,154.3 171.7,155.2 171.7,157.3 171.7,158.7 171.8,156.7 171.8,155.1 171.8,150.9 171.9,149.9 171.9,149.5 171.9,152.5 172.0,151.5 172.0,150.3 172.0,146.9 172.1,147.5 172.1,144.5 172.1,144.5 172.2,144.5 172.2,145.0 172.2,142.3 172.3,142.6 172.4,142.7 172.5,142.2 172.6,141.7 172.7,146.1 172.8,148.0 172.9,149.9 172.9,149.4 172.9,149.9 172.9,149.7 173.0,150.7 173.0,150.7 173.0,152.2 173.0,151.3 173.0,154.8 173.0,154.9 173.1,156.3 173.1,157.7 173.1,159.9 173.1,162.9 173.1,160.8 173.1,160.4 173.2,164.3 173.2,164.6 173.2,164.6 173.2,164.1 173.3,164.4 173.5,162.6 173.6,162.8 173.7,162.5 173.8,161.9 174.0,160.5 174.1,158.1 174.1,157.6 174.1,158.5 174.2,160.4 174.2,160.2 174.2,162.0 174.2,163.8 174.2,167.3 174.2,166.9 174.3,166.8 174.3,167.1 174.3,168.4 174.3,169.3 174.3,168.9 174.3,169.7 174.4,168.7 174.4,168.9 174.4,172.3 174.5,175.4 174.6,173.3 174.7,173.7 174.7,174.8 174.8,173.1 174.9,175.3 175.0,177.1 175.1,178.2 175.2,176.8 175.3,179.6 175.4,183.0 175.5,183.2 175.6,182.3 175.7,181.8 175.9,183.2 176.0,187.9 176.1,185.4 176.2,188.4 176.4,185.8 176.5,186.1 176.6,187.3 176.7,187.3 176.8,188.3 176.9,189.5 177.1,192.1 177.2,191.2 177.3,193.8 177.4,194.9 177.5,194.6 177.6,195.9 177.7,193.3 177.8,193.3 177.9,197.2 178.0,197.0 178.0,193.6 178.1,193.5 178.2,195.4 178.2,194.1 178.3,190.1 178.4,190.4 178.4,189.3 178.5,189.3 178.6,186.9 178.6,187.7 178.7,188.8 178.8,189.1 178.8,188.1 178.9,185.6 179.0,186.4 179.0,184.6 179.1,182.8 179.2,183.2 179.3,182.4 179.4,183.7 179.4,184.8 179.5,185.2 179.6,185.0 179.7,186.7 179.8,187.6 179.9,189.7 180.0,190.5 180.1,190.1 180.2,189.7 180.2,190.4 180.3,191.9 180.4,192.8 180.5,194.8 180.6,192.6 180.7,195.3 180.8,195.9 180.9,201.2 181.0,202.3 181.1,202.6 181.2,202.1 181.3,201.9 181.4,202.2 181.5,200.8 181.6,202.3 181.7,202.3 181.8,207.1 181.9,207.3 182.1,210.6 182.2,208.9 182.3,208.4 182.4,210.2 182.5,212.2 182.7,213.7 182.8,214.0 183.0,215.4 183.2,215.4 183.3,212.5 183.5,214.4 183.7,216.1 183.8,218.2 184.0,218.8 184.2,215.4 184.3,215.9 184.5,218.9 184.6,219.3 184.7,219.3 184.8,221.9 184.8,223.6 184.9,226.0 185.0,224.9 185.1,224.7 185.2,224.3 185.2,222.4 185.3,226.3 185.4,230.7 185.5,230.2 185.5,228.8 185.6,230.2 185.6,230.7 185.6,225.5 185.7,224.5 185.7,228.3 185.7,226.3 185.8,227.4 185.8,227.6 185.8,225.3 185.8,220.5 185.9,220.3 185.9,221.1 185.9,216.2 186.0,217.4 186.0,216.2 186.0,217.6 186.1,215.7 186.1,218.7 186.1,213.3 186.2,212.3 186.2,209.3 186.2,209.3 186.2,211.0 186.3,209.8 186.4,209.0 186.4,208.2 186.5,209.4 186.5,205.5 186.6,206.0 186.6,206.8 186.7,204.9 186.7,208.4 186.8,202.3 186.8,200.1 186.9,199.4 186.9,199.5 187.0,200.3 187.0,201.3 187.1,195.6 187.1,195.2 187.2,196.0 187.2,194.6 187.3,196.0 187.3,194.9 187.4,194.6 187.4,191.8 187.5,190.5 187.6,187.6 187.6,186.7 187.7,184.5 187.8,185.9 187.8,185.4 187.9,185.9 187.9,185.6 188.0,184.3 188.2,187.2 188.3,187.8 188.4,184.7 188.6,188.0 188.8,189.7 188.8,192.2 188.9,189.4 188.9,188.8 189.0,188.4 189.0,190.0 189.1,191.7 189.2,194.6 189.2,193.7 189.3,194.9 189.3,196.3 189.4,196.4 189.5,195.8 189.5,198.3 189.6,197.9 189.6,197.6 189.7,201.6 189.8,201.7 189.8,204.0 189.9,202.7 189.9,201.8 190.0,204.2 190.0,208.3 190.1,207.4 190.1,205.4 190.2,209.2 190.2,209.4 190.2,214.7 190.3,213.1 190.3,212.6 190.3,213.0 190.4,212.6 190.4,214.5 190.5,217.6 190.5,216.4 190.5,216.0 190.6,219.5 190.6,221.5 190.6,217.9 190.7,219.0 190.7,222.3 190.8,220.4 190.8,221.6 190.8,221.5 190.9,223.5 190.9,226.9 190.9,229.0 191.0,224.4 191.0,228.2 191.1,231.1 191.1,231.7 191.1,231.9 191.2,232.9 191.2,233.2 191.2,232.5 191.3,232.1 191.4,231.2 191.4,231.8 191.5,232.8 191.5,230.7 191.6,226.8 191.6,226.5 191.7,225.7 191.7,231.1 191.8,228.2 191.8,222.9 191.9,221.0 191.9,219.6 192.0,221.0 192.0,218.4 192.1,221.2 192.1,219.8 192.2,218.6 192.2,217.9 192.3,217.0 192.3,217.3 192.4,216.7 192.4,214.2 192.5,212.3 192.6,213.9 192.6,215.1 192.7,216.5 192.7,217.1 192.8,216.6 192.8,218.9 192.9,219.6 192.9,222.5 193.0,223.6 193.0,219.3 193.1,219.6 193.1,220.1 193.2,222.7 193.2,222.5 193.3,222.0 193.3,219.6 193.4,225.3 193.4,229.1 193.5,225.3 193.5,226.7 193.6,230.9 193.6,230.6 193.7,233.2 193.8,232.7 193.9,229.1 194.0,229.2 194.1,229.2 194.2,225.8 194.3,224.8 194.4,228.4 194.5,226.4 194.6,225.0 194.7,223.6 194.8,224.1 194.9,222.7 195.0,222.6 195.1,224.4 195.3,225.8 195.4,224.9 195.6,226.3 195.7,226.5 195.8,226.9 196.0,227.0 196.1,227.8 196.2,230.0 196.3,228.2 196.3,227.3 196.4,226.7 196.4,225.8 196.5,222.7 196.5,221.3 196.6,223.6 196.6,225.8 196.7,227.1 196.7,223.2 196.8,219.2 196.8,216.1 196.9,219.4 196.9,218.5 197.0,218.6 197.0,216.2 197.1,213.5 197.1,210.8 197.2,213.6 197.2,212.2 197.3,214.1 197.3,213.9 197.4,213.0 197.4,211.9 197.5,208.1 197.5,208.6 197.6,208.1 197.7,208.3 197.8,209.7 197.9,212.5 197.9,215.3 198.0,216.7 198.1,216.0 198.2,214.8 198.3,214.6 198.4,212.0 198.5,213.6 198.6,215.5 198.7,218.2 198.8,224.2 198.9,222.3 199.0,219.3 199.1,222.2 199.2,223.7 199.3,224.3 199.4,224.9 199.5,226.1 199.6,226.7 199.7,227.3 199.8,225.3 199.9,224.8 200.0,229.6 200.1,229.3 200.1,234.1 200.2,232.9 200.2,231.2 200.3,233.3 200.4,237.5 200.4,232.0 200.5,232.0 200.5,235.8 200.6,237.5 200.7,238.8 200.7,240.6 200.8,241.4 200.8,242.1 200.9,241.3 201.0,243.3 201.0,244.9 201.1,247.1 201.1,246.7 201.2,244.4 201.2,246.2 201.4,248.7 201.5,248.8 201.6,249.3 201.7,248.5 201.8,250.0 201.9,252.3 202.0,251.1 202.1,248.6 202.2,251.9 202.3,256.7 202.4,253.7 202.5,256.1 202.7,256.8 202.9,257.2 203.0,258.5 203.2,261.4 203.4,261.8 203.6,263.0 203.8,262.0 203.8,261.8 203.9,266.2 203.9,267.6 204.0,265.0 204.0,264.6 204.1,263.4 204.2,267.5 204.2,272.1 204.3,272.0 204.3,272.4 204.4,274.6 204.5,274.3 204.5,270.2 204.6,272.3 204.6,274.5 204.7,276.3 204.8,276.1 204.8,278.7 204.9,279.4 204.9,280.6 205.0,281.4 205.1,282.6 205.3,284.0 205.4,281.3 205.6,282.2 205.7,283.5 205.8,281.3 206.0,283.1 206.1,288.2 206.2,288.4 206.3,287.3 206.3,287.6 206.3,287.5 206.4,287.6 206.4,289.1 206.4,290.3 206.5,293.3 206.5,292.1 206.5,293.5 206.6,294.0 206.6,296.3 206.6,296.4 206.7,298.1 206.7,297.4 206.7,299.1 206.8,300.3 206.8,303.1 206.8,301.5 206.8,301.4 206.9,302.3 206.9,306.1 206.9,306.8 207.0,307.5 207.0,307.5 207.0,308.1 207.1,303.8 207.1,301.2 207.1,302.8 207.2,303.2 207.2,301.4 207.3,303.0 207.3,302.0 207.3,298.6 207.4,295.8 207.4,296.0 207.4,295.9 207.5,295.7 207.5,295.7 207.6,294.0 207.6,295.0 207.6,294.5 207.7,291.3 207.7,292.4 207.7,291.4 207.8,292.6 207.8,287.3 207.9,284.3 207.9,284.3 207.9,285.9 208.0,288.3 208.0,285.2 208.1,286.2 208.2,288.8 208.4,288.2 208.5,289.5 208.6,289.1 208.8,290.3 208.9,291.0 209.0,289.1 209.1,292.4 209.2,294.6 209.4,294.3 209.5,295.0 209.6,295.5 209.7,295.0 209.8,293.6 209.9,288.8 210.0,286.6 210.1,286.8 210.2,290.1 210.3,290.2 210.4,290.5 210.5,286.3 210.6,285.6 210.7,282.3 210.8,284.5 210.9,283.7 211.0,281.5 211.1,280.4 211.2,279.3 211.2,278.0 211.4,279.5 211.5,278.0 211.6,277.8 211.7,278.9 211.8,278.0 211.9,274.7 212.0,277.1 212.1,276.1 212.2,275.8 212.3,275.1 212.4,273.3 212.5,270.5 212.6,274.1 212.7,274.3 212.8,273.0 212.8,276.7 212.9,275.2 213.0,276.2 213.1,274.8 213.2,276.6 213.2,277.7 213.3,277.6 213.4,280.5 213.5,278.0 213.6,280.3 213.7,283.2 213.8,283.8 213.9,285.0 214.0,282.8 214.1,283.8 214.2,281.8 214.3,283.8 214.4,288.3 214.5,287.6 214.6,288.6 214.7,289.3 214.8,287.6 214.9,288.2 215.0,290.1 215.3,291.8 215.6,291.8 215.9,293.1 216.2,295.2 216.3,293.2 216.3,293.8 216.4,295.7 216.4,295.7 216.5,290.3 216.5,289.0 216.5,290.7 216.6,289.4 216.6,290.8 216.7,287.0 216.7,285.5 216.7,285.1 216.8,283.6 216.8,282.7 216.9,278.8 216.9,280.5 216.9,283.0 217.0,281.7 217.0,280.6 217.1,282.9 217.1,282.5 217.1,278.0 217.2,275.1 217.2,274.3 217.3,274.9 217.3,270.9 217.3,270.8 217.4,273.9 217.4,269.0 217.5,268.1 217.5,269.0 217.6,269.3 217.6,272.3 217.7,273.6 217.8,275.1 217.9,273.0 217.9,271.6 218.0,273.8 218.1,279.3 218.2,277.3 218.2,274.7 218.3,277.0 218.4,277.5 218.5,276.7 218.5,277.8 218.6,282.3 218.7,282.8 218.8,285.2 218.9,285.9 219.0,284.3 219.2,285.4 219.3,284.0 219.4,286.3 219.6,285.3 219.7,290.7 219.9,290.7 220.0,292.7 220.3,290.1 220.6,289.5 220.9,289.3 221.2,291.9 221.3,289.4 221.4,288.5 221.5,292.0 221.6,291.7 221.7,290.8 221.8,291.4 221.8,287.1 221.9,285.9 222.0,284.0 222.1,284.9 222.2,283.4 222.2,279.5 222.3,279.3 222.4,281.4 222.5,280.7 222.6,277.2 222.7,276.0 222.8,276.8 223.0,278.4 223.1,272.8 223.2,273.2 223.3,271.3 223.4,272.4 223.5,274.1 223.6,272.4 223.8,271.1 223.8,271.5 223.9,276.5 224.0,274.9 224.1,275.5 224.2,274.8 224.3,275.7 224.4,278.2 224.5,279.5 224.6,280.8 224.6,277.3 224.7,277.0 224.8,280.1 224.9,283.2 225.0,283.5 225.1,285.1 225.3,285.2 225.4,287.8 225.6,282.6 225.7,284.2 225.8,285.2 226.0,287.0 226.1,288.5 226.2,291.2 226.4,292.2 226.6,289.3 226.8,290.0 227.0,290.3 227.1,290.9 227.3,291.3 227.5,290.2 227.6,294.3 227.7,295.8 227.8,297.2 227.9,297.7 228.0,295.1 228.1,296.4 228.2,300.0 228.3,301.6 228.4,302.3 228.5,305.7 228.6,305.7 228.8,306.9 228.9,307.0 229.1,306.3 229.3,306.7 229.5,307.1 229.6,303.5 229.7,304.4 229.8,302.8 229.9,302.8 230.1,303.1 230.2,303.7 230.3,302.9 230.4,300.1 230.5,301.8 230.6,300.7 230.8,298.1 230.9,296.3 231.1,295.2 231.2,295.1 231.3,297.3 231.5,297.4 231.6,295.7 231.8,294.0 231.8,291.3 231.8,289.3 231.9,287.6 231.9,285.7 232.0,283.4 232.0,284.8 232.0,287.6 232.1,286.8 232.1,284.2 232.2,282.5 232.2,281.2 232.2,280.2 232.3,280.9 232.3,283.6 232.4,279.8 232.4,281.7 232.5,277.9 232.5,277.8 232.5,279.7 232.6,283.7 232.6,283.5 232.7,280.2 232.7,280.7 232.8,283.7 232.8,282.2 232.9,281.8 232.9,285.9 233.0,286.4 233.0,286.9 233.1,289.3 233.1,290.2 233.1,288.6 233.2,291.1 233.2,291.2 233.3,293.0 233.3,294.0 233.4,297.3 233.4,296.4 233.5,297.7 233.5,295.3 233.6,296.0 233.6,297.3 233.7,297.5 233.7,295.9 233.8,298.6 233.8,300.0 233.8,301.8 233.9,301.6 233.9,304.9 234.0,307.2 234.0,312.4 234.0,309.2 234.1,308.1 234.1,308.7 234.2,308.2 234.2,308.5 234.2,309.1 234.3,310.3 234.3,310.3 234.4,310.9 234.4,313.0 234.5,314.1 234.5,313.4 234.6,315.5 234.7,318.4 234.8,319.2 234.9,317.9 235.0,319.8 235.0,324.0 235.1,320.3 235.2,315.8 235.3,319.0 235.4,322.2 235.5,323.8 235.6,323.7 235.7,322.5 235.8,321.3 235.9,321.5 235.9,320.8 236.0,320.1 236.1,318.7 236.2,316.9 236.3,314.0 236.4,313.3 236.5,312.2 236.6,312.5 236.7,311.8 236.8,309.1 236.9,311.3 237.0,312.2 237.2,310.5 237.3,310.0 237.4,307.0 237.6,306.6 237.7,306.0 237.9,305.6 238.0,304.9 238.1,305.7 238.2,305.7 238.3,305.7 238.4,305.0 238.5,299.6 238.6,300.5 238.7,302.3 238.8,296.2 238.9,294.3 239.0,294.3 239.1,294.3 239.2,292.9 239.4,293.1 239.6,290.5 239.8,291.1 240.0,293.1 240.1,293.1 240.3,290.6 240.5,290.2 240.6,298.2 240.8,293.4 240.9,289.5 241.1,293.3 241.2,293.3 241.3,294.1 241.5,297.3 241.6,296.0 241.8,297.2 241.9,300.4 242.0,301.9 242.2,304.5 242.3,299.9 242.4,301.1 242.6,303.6 242.7,305.1 242.9,304.7 243.0,305.2 243.2,307.0 243.5,305.0 243.8,304.3 244.0,304.3 244.2,308.2 244.4,301.3 244.5,302.3 244.6,305.3 244.7,306.5 244.8,304.3 244.9,304.5 245.0,303.2 245.2,300.2 245.3,299.3 245.4,299.3 245.5,299.3 245.8,296.8 246.0,296.7 246.2,295.7 246.5,295.6 246.8,296.1 246.8,296.9 246.9,297.4 247.0,300.7 247.1,302.1 247.2,301.4 247.3,300.0 247.4,302.7 247.5,303.2 247.6,302.8 247.6,304.1 247.7,304.6 247.8,305.0 247.9,306.2 248.0,309.5 248.1,308.5 248.3,310.6 248.4,310.1 248.6,311.7 248.7,311.1 248.8,311.3 249.0,312.4 249.1,312.1 249.2,317.2 249.4,319.6 249.6,320.1 249.8,319.9 250.0,319.5 250.1,319.3 250.3,320.7 250.5,320.2 250.6,320.7 250.8,320.7 250.9,317.9 251.1,313.5 251.2,315.0 251.3,317.6 251.5,316.2 251.6,316.0 251.8,316.9 252.0,313.2 252.2,313.2 252.5,313.2 252.8,312.0 253.0,308.9 253.2,308.1 253.3,308.1 253.5,308.5 253.6,311.2 253.8,313.2 253.9,313.0 254.1,315.7 254.2,313.0 254.3,314.3 254.4,316.3 254.4,316.2 254.5,315.8 254.5,319.7 254.6,320.5 254.7,321.1 254.7,323.4 254.8,323.1 254.8,321.6 254.9,321.8 255.0,322.3 255.0,328.0 255.1,330.8 255.1,330.0 255.2,330.2 255.3,327.7 255.3,331.3 255.4,333.2 255.4,333.2 255.5,333.1 256.0,333.2 256.1,333.2 256.3,329.6 256.4,328.6 256.6,329.4 256.7,330.5 256.8,329.2 257.0,328.5 257.1,327.7 257.2,323.8 257.4,322.8 257.6,325.7 257.8,325.7 258.0,325.7 258.1,325.7 258.3,325.5 258.5,320.8 258.8,323.2 259.1,323.2 259.4,321.8 259.8,322.7 259.8,322.0 259.9,319.6 260.0,320.6 260.1,316.8 260.2,315.6 260.2,316.1 260.3,317.3 260.4,316.6 260.5,315.1 260.6,315.7 260.7,313.5 260.8,309.3 260.8,309.8 260.9,314.0 261.0,314.9 261.1,310.7 261.1,310.7 261.2,306.6 261.2,307.2 261.3,306.6 261.4,305.7 261.4,304.1 261.5,303.7 261.5,301.4 261.6,301.8 261.7,301.1 261.7,299.7 261.8,297.7 261.8,296.1 261.9,296.7 262.0,296.7 262.0,295.0 262.1,294.2 262.1,295.0 262.2,292.5 262.2,290.5 262.3,290.6 262.4,290.9 262.5,289.6 262.6,289.2 262.7,289.8 262.8,288.5 262.9,285.5 263.0,284.6 263.1,287.3 263.1,284.9 263.2,285.5 263.3,285.6 263.4,285.4 263.5,281.1 263.7,279.5 263.9,278.8 264.1,278.1 264.2,278.6 264.4,278.7 264.5,280.1 264.6,283.8 264.7,283.7 264.8,287.4 264.9,285.0 265.0,284.5 265.2,283.5 265.3,284.4 265.4,285.4 265.5,288.5 265.5,288.5 265.6,289.1 265.6,287.5 265.7,289.6 265.7,288.8 265.8,289.9 265.8,293.7 265.8,296.3 265.9,292.5 265.9,294.8 266.0,294.1 266.0,295.3 266.0,296.6 266.1,299.2 266.1,299.1 266.2,298.0 266.2,301.5 266.2,302.7 266.3,305.9 266.3,305.3 266.4,303.6 266.4,304.1 266.5,303.6 266.5,305.6 266.6,307.5 266.6,309.6 266.7,309.7 266.8,312.1 266.8,311.2 266.9,310.4 267.0,314.1 267.1,316.1 267.1,314.7 267.2,314.5 267.3,316.3 267.3,317.8 267.4,316.5 267.5,320.0 267.5,323.2 267.6,320.1 267.7,321.3 267.8,324.2 267.9,323.7 268.1,323.1 268.3,323.3 268.5,326.9 268.6,327.7 268.8,328.2 269.0,331.9 269.1,328.5 269.2,331.0 269.3,330.5 269.4,330.3 269.5,329.6 269.6,331.7 269.7,334.9 269.8,336.4 269.9,338.1 270.0,334.9 270.1,335.0 270.2,336.9 270.4,335.3 270.5,337.1 270.7,336.0 270.8,337.9 270.9,335.1 271.1,334.4 271.2,333.5 271.4,332.0 271.5,329.8 271.6,329.3 271.8,329.8 271.9,334.1 272.1,336.2 272.2,332.3 272.3,333.5 272.5,336.2 272.6,338.2 272.8,342.4 272.9,342.3 273.1,340.4 273.3,339.5 273.5,343.2 273.6,342.0 273.8,343.2 274.0,342.1 274.1,340.1 274.2,339.1 274.3,341.1 274.4,339.9 274.5,337.0 274.6,338.6 274.7,339.6 274.8,337.0 274.9,334.5 275.0,334.1 275.1,333.1 275.2,332.3 275.4,333.1 275.5,335.1 275.7,333.6 275.8,338.1 275.9,340.7 276.1,339.6 276.2,340.5 276.4,338.7 276.5,340.7 276.6,339.3 276.8,340.7 276.9,341.9 277.1,343.4 277.2,346.8 277.3,346.8 277.5,347.4 277.6,346.2 277.8,347.2 277.8,345.2 277.9,343.7 278.0,346.3 278.1,345.3 278.2,340.5 278.2,344.6 278.3,343.4 278.4,339.8 278.5,338.7 278.6,339.8 278.7,339.1 278.8,337.8 278.8,336.5 278.9,334.3 279.0,333.9 279.1,334.9 279.2,333.9 279.3,333.0 279.5,333.0 279.6,332.9 279.7,330.4 279.8,329.3 279.9,329.0 280.0,327.2 280.1,325.6 280.2,323.1 280.4,322.7 280.6,325.2 280.7,325.2 280.9,326.9 281.0,324.9 281.2,322.3 281.3,322.6 281.5,318.9 281.6,318.7 281.7,320.7 281.8,317.5 281.9,313.3 282.0,314.4 282.1,313.2 282.2,314.3 282.3,314.0 282.4,313.9 282.5,312.7 282.6,309.3 282.8,306.5 282.9,304.2 283.0,310.7 283.2,310.7 283.3,307.5 283.4,304.5 283.6,302.3 283.7,302.6 283.9,303.5 284.0,302.5 284.2,303.1 284.3,298.8 284.5,295.6 284.6,300.2 284.8,298.8 284.9,299.2 285.1,297.1 285.2,296.1 285.4,295.6 285.5,299.2 285.6,297.1 285.7,295.6 285.8,298.2 285.9,303.2 286.0,304.0 286.2,302.8 286.3,305.7 286.4,305.7 286.5,305.4 286.6,305.3 286.7,306.2 286.8,309.1 286.8,309.7 286.9,309.5 287.0,310.3 287.1,309.4 287.2,309.3 287.2,312.7 287.3,313.2 287.4,313.7 287.5,312.4 287.6,311.9 287.7,314.9 287.8,319.9 287.8,319.7 287.9,319.4 288.0,321.3 288.1,323.2 288.2,324.3 288.2,324.6 288.3,321.2 288.4,325.9 288.5,329.2 288.6,324.3 288.7,326.0 288.8,328.2 288.8,328.2 288.9,325.4 289.0,328.4 289.2,331.9 289.4,332.0 289.5,332.8 289.7,333.2 289.9,333.6 290.1,332.6 290.2,334.1 290.4,334.3 290.6,334.9 290.8,338.0 291.0,336.7 291.1,336.2 291.3,334.3 291.5,339.2 291.7,338.6 291.9,337.2 292.0,336.2 292.2,337.4 292.4,335.1 292.6,334.3 292.8,332.9 292.8,332.3 292.9,334.0 293.0,333.6 293.1,333.2 293.2,330.8 293.2,329.3 293.3,329.8 293.4,327.6 293.5,330.5 293.6,327.7 293.7,328.1 293.8,327.6 293.8,327.2 293.9,325.8 294.0,323.0 294.1,323.6 294.1,324.6 294.2,326.6 294.3,326.6 294.3,328.2 294.4,328.6 294.5,327.1 294.6,329.2 294.6,330.6 294.7,331.6 294.8,332.0 294.8,333.6 294.9,332.4 295.0,333.9 295.0,335.0 295.1,338.2 295.2,337.1 295.2,337.1 295.4,338.1 295.6,340.5 295.8,341.0 296.0,342.4 296.1,343.2 296.3,343.2 296.5,342.5 296.6,343.2 296.8,340.3 296.9,338.6 297.1,336.8 297.2,336.2 297.3,337.9 297.5,336.5 297.6,335.5 297.8,337.7 297.8,335.7 297.9,330.4 298.0,329.9 298.1,334.1 298.2,330.4 298.2,329.0 298.3,327.0 298.4,325.5 298.5,326.6 298.6,327.7 298.7,326.5 298.8,324.4 298.8,324.4 298.9,324.6 299.0,324.9 299.2,320.6 299.4,318.8 299.5,320.0 299.7,322.3 299.9,320.9 300.1,320.9 300.2,317.7 300.3,316.8 300.4,318.1 300.5,321.3 300.6,320.8 300.7,321.1 300.8,320.3 300.8,320.0 300.9,322.9 301.0,324.3 301.1,326.0 301.2,330.2 301.2,330.7 301.3,327.5 301.4,330.2 301.5,330.2 301.6,329.6 301.7,329.9 301.8,327.2 301.9,326.0 302.0,325.7 302.1,325.4 302.2,325.0 302.3,325.2 302.4,323.2 302.5,322.4 302.6,321.7 302.8,318.6 302.9,315.9 303.1,316.7 303.3,318.7 303.5,317.7 303.6,315.9 303.8,316.9 304.0,314.9 304.1,316.6 304.3,321.0 304.4,318.3 304.6,319.2 304.7,320.2 304.8,320.9 305.0,322.3 305.1,320.0 305.2,321.5 305.4,325.0 305.5,325.6 305.7,321.8 305.8,322.9 305.9,325.5 306.1,328.0 306.2,330.2 306.4,327.7 306.5,328.1 306.7,330.5 306.9,331.2 307.0,330.6 307.2,329.3 307.4,330.5 307.6,332.1 307.8,334.6 308.1,331.8 308.4,333.8 308.7,334.7 309.0,332.3 309.1,331.8 309.3,333.8 309.4,336.0 309.6,335.1 309.7,335.9 309.8,338.7 310.0,338.1 310.1,339.0 310.2,340.2 310.4,340.3 310.5,336.1 310.6,334.7 310.7,330.8 310.8,332.2 310.9,335.2 311.0,333.3 311.1,331.6 311.2,331.5 311.3,329.3 311.4,330.6 311.5,330.1 311.6,325.1 311.7,324.2 311.8,325.7 311.9,326.8 312.0,324.4 312.1,322.5 312.2,321.8 312.3,322.5 312.4,323.4 312.5,320.5 312.6,320.9 312.8,319.2 312.9,318.0 313.1,317.5 313.3,317.4 313.5,317.2 313.6,316.8 313.8,315.0 314.0,314.8 314.1,315.9 314.2,318.7 314.3,318.7 314.4,317.0 314.5,316.1 314.6,317.6 314.7,319.6 314.8,322.4 314.9,322.8 315.0,323.8 315.1,325.7 315.2,326.3 315.3,329.7 315.4,327.7 315.5,328.2 315.5,328.3 315.6,329.4 315.7,329.0 315.7,330.6 315.8,332.3 315.9,334.2 315.9,331.6 316.0,333.9 316.1,336.4 316.2,337.2 316.2,334.1 316.3,335.4 316.4,338.7 316.4,339.9 316.5,340.5 316.7,339.3 316.9,339.3 317.0,343.4 317.2,342.6 317.4,344.2 317.6,344.0 317.8,344.4 318.1,346.1 318.4,345.4 318.7,345.1 319.0,345.8 319.2,347.8 319.4,350.5 319.5,352.2 319.7,352.4 319.9,348.6 320.1,349.7 320.2,350.9 320.4,346.8 320.5,348.1 320.7,347.8 320.8,348.1 320.9,347.0 321.1,348.8 321.2,347.2 321.4,345.0 321.5,342.8 321.8,343.5 322.1,341.8 322.4,342.0 322.8,345.3 322.9,342.0 323.0,340.2 323.2,340.2 323.3,341.8 323.4,338.4 323.6,336.8 323.7,336.2 323.9,334.3 324.0,336.7 324.2,335.7 324.4,334.1 324.5,332.5 324.7,329.3 324.9,331.1 325.1,332.8 325.2,330.1 325.4,329.3 325.5,329.7 325.6,330.5 325.7,334.7 325.8,337.1 325.9,336.3 326.0,335.4 326.1,334.3 326.2,336.7 326.3,337.9 326.4,339.0 326.5,343.4 326.7,341.6 326.9,340.4 327.0,339.5 327.2,339.3 327.4,341.5 327.6,342.9 327.8,345.2 327.9,343.6 328.1,345.7 328.3,343.4 328.5,345.7 328.6,345.7 328.8,341.1 329.0,339.8 329.3,340.0 329.6,340.6 329.9,340.8 330.2,342.5 330.3,342.5 330.4,342.2 330.5,340.5 330.6,339.4 330.7,338.7 330.8,338.7 330.8,333.4 330.9,332.8 331.0,337.0 331.1,334.2 331.2,331.9 331.2,332.5 331.3,332.4 331.4,332.5 331.5,330.4 331.6,329.6 331.7,329.7 331.8,332.0 331.9,335.1 332.0,333.5 332.1,337.8 332.2,337.7 332.3,335.7 332.4,334.9 332.5,338.1 332.6,337.8 332.8,337.0 332.9,341.7 333.1,344.5 333.3,345.7 333.5,342.5 333.6,342.5 333.8,343.9 334.0,344.9 334.2,342.0 334.4,341.5 334.5,343.0 334.7,344.0 334.9,341.3 335.1,342.4 335.2,343.2 335.4,340.7 335.5,339.0 335.6,340.7 335.7,336.1 335.8,336.9 335.9,337.0 336.0,333.3 336.1,332.6 336.2,330.7 336.3,330.2 336.4,329.8 336.5,327.0 336.6,326.0 336.8,328.8 336.9,327.8 337.1,326.3 337.2,325.7 337.3,327.8 337.5,323.3 337.6,321.8 337.8,319.6 337.8,319.1 337.9,320.3 338.0,317.9 338.0,316.0 338.1,316.4 338.2,318.6 338.2,316.7 338.3,318.4 338.4,316.7 338.4,316.2 338.5,313.5 338.6,313.1 338.7,311.9 338.7,313.0 338.8,310.3 338.9,307.8 338.9,306.8 339.0,305.8 339.1,306.4 339.2,303.5 339.3,301.2 339.4,302.6 339.5,302.7 339.6,302.7 339.7,302.6 339.8,301.9 339.9,299.3 340.0,299.2 340.1,296.8 340.2,295.2 340.6,296.7 340.9,294.9 341.2,294.5 341.5,294.8 341.6,294.3 341.7,297.1 341.8,300.3 341.9,300.6 342.0,302.9 342.1,302.4 342.2,301.8 342.3,299.7 342.4,303.7 342.5,302.1 342.6,302.2 342.8,303.2 342.9,304.3 343.0,308.6 343.2,311.9 343.3,311.5 343.4,311.5 343.6,309.6 343.7,307.6 343.9,307.0 344.0,312.0 344.3,310.6 344.6,309.3 344.9,309.3 345.2,309.9 345.3,310.0 345.4,312.8 345.5,313.3 345.6,314.0 345.7,318.0 345.8,318.4 345.8,314.4 345.9,314.9 346.0,315.7 346.1,318.6 346.2,323.2 346.2,322.8 346.3,321.8 346.4,320.5 346.5,320.0 346.6,321.8 346.7,321.8 346.8,321.8 346.9,321.8 347.0,321.8 347.1,324.6 347.2,326.5 347.3,330.6 347.4,331.5 347.5,331.7 347.6,333.2 347.8,332.6 347.9,328.7 348.1,329.7 348.3,328.0 348.5,326.8 348.6,328.8 348.8,332.9 349.0,329.7 349.1,321.9 349.2,323.4 349.3,324.6 349.4,325.4 349.5,323.4 349.6,322.6 349.7,321.7 349.8,318.3 349.9,319.0 350.0,321.0 350.1,317.9 350.2,319.3 350.4,316.9 350.5,316.3 350.6,313.1 350.7,314.2 350.8,314.4 350.9,313.7 351.0,308.1 351.1,309.7 351.2,309.4 351.3,308.7 351.4,306.9 351.5,307.7 351.6,311.7 351.7,313.3 351.8,311.8 351.8,312.9 351.9,312.8 352.0,311.8 352.1,313.4 352.2,316.5 352.2,316.2 352.3,317.7 352.4,318.0 352.5,319.6 352.6,317.9 352.7,318.5 352.8,320.4 352.9,319.3 353.0,321.8 353.1,321.6 353.2,321.3 353.3,326.1 353.4,328.1 353.5,328.1 353.6,328.8 353.7,328.2 353.8,329.2 353.9,329.9 354.0,331.0 354.2,329.9 354.4,329.5 354.5,330.8 354.7,329.3 354.9,331.7 355.1,334.8 355.2,335.0 355.4,335.5 355.6,333.9 355.8,332.6 356.0,330.5 356.1,329.3 356.3,330.7 356.5,330.3 356.6,330.7 356.7,325.5 356.8,326.6 356.8,330.3 356.9,328.7 357.0,325.7 357.1,328.3 357.2,326.5 357.2,320.1 357.3,320.8 357.4,320.8 357.5,320.2 357.6,318.7 357.7,318.8 357.8,318.5 357.9,315.4 358.0,316.4 358.1,316.2 358.2,313.2 358.3,314.3 358.4,313.5 358.5,311.0 358.6,310.6 358.7,310.6 358.8,308.6 358.9,309.4 359.0,307.0 359.1,306.9 359.2,304.1 359.3,305.0 359.4,304.5 359.5,302.9 359.6,301.4 359.7,299.2 359.8,297.2 359.9,299.7 360.0,298.9 360.1,297.5 360.2,297.3 360.4,301.0 360.6,298.5 360.8,296.8 361.0,301.9 361.1,303.2 361.3,301.7 361.5,301.5 361.6,305.4 361.6,302.5 361.7,304.8 361.7,304.8 361.8,308.5 361.9,309.5 361.9,309.9 362.0,312.3 362.0,312.8 362.1,309.9 362.2,311.4 362.2,315.8 362.3,315.7 362.3,315.8 362.4,315.2 362.5,319.6 362.5,315.7 362.6,315.0 362.6,318.7 362.7,320.7 362.8,320.3 362.9,320.7 363.0,322.2 363.1,323.7 363.2,322.7 363.3,324.2 363.4,326.0 363.5,326.2 363.7,329.4 363.8,328.8 363.9,329.0 364.0,328.8 364.4,328.9 364.8,330.3 365.2,330.3 365.6,330.2 365.9,330.7 366.2,330.7 366.5,326.0 366.6,324.1 366.6,328.2 366.7,326.6 366.7,320.2 366.8,321.2 366.9,325.0 366.9,321.8 367.0,323.1 367.0,321.0 367.1,323.4 367.2,320.8 367.2,317.1 367.3,315.1 367.3,315.2 367.4,312.2 367.5,312.6 367.5,312.1 367.6,313.2 367.6,313.3 367.7,310.5 367.8,310.2 367.8,306.9 367.9,309.5 368.0,308.6 368.0,305.9 368.1,302.7 368.2,303.5 368.2,303.5 368.3,303.6 368.4,301.2 368.4,304.8 368.5,303.4 368.6,301.8 368.7,300.1 368.7,297.1 368.8,295.8 368.9,294.3 368.9,296.7 369.0,293.6 369.1,292.4 369.2,294.2 369.3,292.9 369.4,292.8 369.5,290.9 369.6,288.7 369.7,288.3 369.8,290.0 369.9,288.5 370.0,288.0 370.1,286.0 370.2,285.6 370.4,282.6 370.5,280.5 370.7,279.0 370.8,281.3 370.9,282.3 371.1,280.7 371.2,276.8 371.4,276.8 371.5,275.7 371.8,276.3 372.0,273.7 372.2,273.6 372.5,273.1 372.8,273.8 372.9,273.7 373.0,274.7 373.1,276.9 373.2,276.4 373.3,279.2 373.4,278.7 373.5,279.4 373.7,279.8 373.8,280.8 373.9,281.9 374.0,282.3 374.2,281.9 374.4,281.8 374.5,282.0 374.7,276.8 374.9,276.8 375.1,279.3 375.2,279.1 375.4,278.1 375.5,277.4 375.7,276.4 375.8,275.5 375.9,276.1 376.1,274.3 376.2,272.9 376.4,273.4 376.5,275.0 376.8,270.6 377.0,269.5 377.2,266.7 377.5,266.8 377.8,266.1 377.9,265.6 378.1,265.9 378.2,265.8 378.4,269.1 378.5,268.5 378.7,267.8 378.8,268.9 379.0,272.2 379.1,271.5 379.2,269.8 379.3,271.2 379.4,273.1 379.5,267.9 379.6,267.4 379.7,268.8 379.8,268.0 379.9,262.6 380.0,263.5 380.1,262.5 380.2,258.4 380.4,257.7 380.5,257.6 380.6,257.7 380.7,259.0 380.8,260.3 380.9,260.4 381.0,259.5 381.2,257.6 381.3,254.4 381.4,253.1 381.5,254.0 381.7,256.1 381.8,256.1 382.0,256.6 382.1,257.5 382.3,256.8 382.4,257.8 382.6,258.8 382.8,258.9 382.9,261.2 383.0,260.9 383.2,259.7 383.3,259.6 383.4,264.8 383.6,265.9 383.7,268.2 383.9,268.2 384.0,270.1 384.1,268.7 384.2,268.3 384.3,268.9 384.4,270.3 384.5,271.6 384.6,274.2 384.7,273.6 384.8,275.5 384.9,274.3 385.0,274.4 385.1,275.0 385.2,277.4 385.4,276.2 385.5,274.0 385.7,276.2 385.8,274.9 385.9,274.3 386.1,270.6 386.2,269.3 386.4,269.3 386.5,270.1 386.6,270.7 386.7,273.4 386.8,271.6 387.0,272.4 387.1,273.1 387.2,275.6 387.3,276.2 387.4,279.3 387.5,277.3 387.6,276.7 387.8,278.4 388.1,277.2 388.4,278.7 388.7,279.4 389.0,276.8 389.2,279.4 389.3,279.4 389.5,281.3 389.6,280.1 389.8,277.6 389.9,283.2 390.1,283.0 390.2,281.9 390.6,279.3 390.9,279.3 391.2,280.4 391.5,280.3 391.7,282.9 391.8,284.6 392.0,286.1 392.1,281.5 392.3,283.2 392.4,284.7 392.6,285.1 392.8,286.0 393.0,284.1 393.2,281.8 393.5,281.8 393.8,284.5 394.0,284.4 394.1,282.5 394.2,280.3 394.3,280.8 394.4,279.4 394.5,278.6 394.6,279.1 394.7,278.9 394.8,277.0 394.9,275.9 395.0,274.8 395.1,277.1 395.2,275.7 395.4,269.4 395.5,270.6 395.7,268.0 395.8,270.2 395.9,267.9 396.1,268.0 396.2,267.2 396.4,265.2 396.5,264.8 396.8,267.1 397.0,266.7 397.2,265.8 397.5,268.2 397.8,268.9 397.9,268.5 398.0,269.4 398.1,269.4 398.2,265.7 398.3,266.1 398.4,266.9 398.5,265.8 398.7,263.2 398.8,264.0 398.9,261.1 399.0,258.3 399.1,258.2 399.3,260.7 399.4,259.4 399.6,258.8 399.7,256.5 399.8,254.1 400.0,254.7 400.1,254.0 400.2,252.7 400.4,250.5 400.5,250.5 400.7,251.5 400.8,251.5 400.9,246.9 401.1,245.5 401.2,244.3 401.4,244.3 401.5,244.8 401.6,244.7 401.8,246.3 401.9,247.2 402.1,248.1 402.2,250.4 402.3,251.0 402.5,251.3 402.6,253.2 402.8,257.0 402.8,256.1 402.9,255.4 403.0,255.8 403.1,255.2 403.2,255.9 403.3,256.1 403.4,258.7 403.5,258.5 403.6,263.9 403.6,262.1 403.7,262.9 403.8,261.7 403.9,259.7 404.0,263.6 404.1,264.4 404.1,264.4 404.2,264.4 404.3,262.8 404.4,261.0 404.4,255.9 404.5,254.4 404.6,258.7 404.7,256.3 404.7,255.9 404.8,256.5 404.9,255.4 405.0,251.7 405.0,253.1 405.1,249.3 405.2,250.9 405.2,251.5 405.4,250.2 405.5,246.3 405.6,246.8 405.7,249.9 405.8,246.3 405.9,244.9 406.0,246.6 406.2,241.7 406.3,242.4 406.4,240.6 406.5,241.1 406.6,242.1 406.7,243.5 406.8,243.5 407.0,240.6 407.1,244.5 407.2,249.8 407.3,247.4 407.4,243.4 407.5,246.0 407.6,247.2 407.8,250.3 407.9,251.5 408.0,253.9 408.2,254.7 408.3,252.0 408.4,256.4 408.6,254.2 408.7,254.3 408.9,256.7 409.0,258.0 409.2,256.8 409.4,256.8 409.5,259.0 409.7,256.8 409.9,257.7 410.1,261.5 410.2,263.8 410.5,262.9 410.8,265.1 411.0,263.4 411.2,264.4 411.5,265.8 411.6,266.2 411.7,266.6 411.8,264.0 412.0,262.7 412.1,262.9 412.2,262.5 412.3,260.9 412.4,264.2 412.5,257.8 412.6,256.8 412.8,254.5 412.8,257.0 412.9,253.8 413.0,255.1 413.1,253.3 413.2,252.3 413.3,257.2 413.4,253.1 413.5,249.4 413.5,247.7 413.6,250.0 413.7,248.5 413.7,246.7 413.8,247.0 413.9,247.9 413.9,245.2 414.0,241.7 414.2,242.6 414.3,241.1 414.5,241.2 414.7,241.2 414.8,240.7 415.0,241.5 415.1,238.4 415.1,238.7 415.2,239.5 415.3,237.3 415.4,234.2 415.5,235.2 415.5,234.8 415.6,233.8 415.7,236.4 415.7,235.9 415.8,236.2 415.8,239.1 415.9,236.0 415.9,239.2 416.0,240.5 416.0,244.4 416.1,241.3 416.1,242.6 416.2,243.7 416.2,243.9 416.5,240.6 416.7,240.6 416.9,243.2 417.1,243.6 417.2,241.6 417.2,238.5 417.3,239.0 417.3,237.8 417.4,236.9 417.5,235.6 417.5,233.9 417.6,233.8 417.6,231.8 417.7,231.8 417.8,230.6 417.8,232.6 417.9,233.2 417.9,231.2 418.0,231.1 418.0,229.6 418.1,228.0 418.2,226.7 418.2,223.9 418.3,224.1 418.3,223.9 418.4,221.8 418.6,221.2 418.7,223.6 418.9,224.4 419.1,222.5 419.2,221.3 419.4,219.8 419.7,221.3 420.0,219.3 420.2,220.5 420.3,220.6 420.3,221.2 420.4,226.8 420.4,227.8 420.4,227.0 420.5,226.2 420.5,225.1 420.5,227.7 420.6,230.0 420.6,229.6 420.7,226.5 420.7,226.4 420.8,230.1 420.9,223.0 421.0,223.4 421.0,223.5 421.1,224.2 421.2,224.7 421.2,224.9 421.3,223.2 421.3,222.1 421.3,222.0 421.4,221.5 421.4,217.1 421.4,216.2 421.4,219.4 421.4,219.5 421.5,218.4 421.5,214.5 421.5,214.7 421.6,213.7 421.6,211.2 421.6,210.6 421.6,209.9 421.6,209.6 421.7,207.5 421.7,205.6 421.7,206.6 421.8,206.6 421.8,205.8 421.9,204.7 422.0,204.4 422.1,204.0 422.2,204.3 422.2,204.6 422.3,203.4 422.4,201.1 422.5,200.4 422.9,198.4 423.4,198.3 423.5,199.7 423.7,200.7 423.9,199.5 424.0,199.6 424.0,202.4 424.0,200.6 424.1,200.6 424.1,204.9 424.1,207.2 424.1,204.0 424.1,204.8 424.1,206.0 424.1,209.2 424.2,209.2 424.2,212.1 424.2,209.9 424.2,213.4 424.2,214.4 424.2,213.5 424.3,214.9 424.3,218.1 424.3,218.2 424.3,219.9 424.3,218.9 424.3,217.3 424.3,219.0 424.3,221.4 424.3,223.4 424.3,225.6 424.3,223.7 424.3,222.2 424.3,223.6 424.3,225.5 424.3,223.9 424.3,225.7 424.3,227.2 424.3,228.2 424.3,228.7 424.3,230.1 424.4,230.7 424.4,230.4 424.4,230.5 424.5,228.2 424.6,229.2 424.6,226.8 424.6,223.2 424.7,226.2 424.8,222.9 424.8,221.0 424.8,222.9 424.9,219.9 425.4,219.3 425.9,219.3 426.0,224.4 426.0,224.7 426.1,222.0 426.2,224.4 426.3,225.7 426.4,226.0 426.4,224.5 426.5,227.3 426.8,228.2 427.2,228.0 427.5,225.4 427.6,224.9 427.7,226.6 427.8,230.1 427.9,231.6 428.0,231.4 428.1,228.2 428.2,231.3 428.3,233.2 428.4,233.5 428.5,231.9 428.6,231.8 428.7,232.3 428.8,236.2 428.9,238.1 429.0,238.4 429.1,240.7 429.2,238.8 429.2,236.7 429.4,239.3 429.6,239.3 429.7,240.9 429.9,241.6 430.1,240.7 430.4,241.5 430.6,240.5 430.7,241.7 430.7,241.6 430.8,241.1 430.9,241.7 430.9,241.9 431.0,243.5 431.1,246.3 431.1,249.4 431.2,249.4 431.2,251.4 431.4,250.9 431.5,249.9 431.6,249.7 431.8,251.2 431.7,253.0 431.7,253.5 431.7,256.0 431.7,256.0 431.7,258.2 431.7,257.3 431.7,254.9 431.6,258.3 431.6,259.9 431.6,261.4 431.6,260.6 431.6,264.1 431.6,264.4 431.6,265.2 431.6,267.5 431.5,264.2 431.5,266.6 431.5,268.2 431.5,268.9 431.6,266.9 431.8,269.2 431.9,270.9 432.1,270.8 432.2,272.3 432.3,274.1 432.5,273.9 432.6,275.7 432.8,274.4 433.1,274.5 433.4,274.6 433.7,277.0 434.0,276.9 434.2,273.1 434.5,274.2 434.8,275.8 435.0,274.8 435.2,273.6 435.4,273.9 435.5,273.9 435.7,276.8 435.8,276.7 435.9,274.1 436.1,278.1 436.2,277.6 436.4,281.0 436.5,281.4 436.7,279.0 436.8,279.5 437.0,280.1 437.1,279.1 437.3,281.3 437.4,280.6 437.6,275.7 437.8,274.9 437.8,275.0 437.9,275.1 438.0,277.3 438.1,277.3 438.2,279.6 438.2,281.7 438.3,282.5 438.4,279.8 438.5,282.0 438.6,285.7 438.7,283.7 438.8,283.3 438.8,287.3 438.9,287.4 439.0,289.3 439.1,289.6 439.3,289.8 439.4,291.3 439.6,294.4 439.7,292.7 439.8,292.9 440.0,291.1 440.1,294.8 440.2,296.0 440.4,295.9 440.6,299.1 440.7,297.6 440.9,295.9 441.0,297.0 441.2,299.2 441.3,300.7 441.5,301.2 441.6,301.3 441.7,300.8 441.8,300.8 442.0,298.7 442.1,298.6 442.2,296.4 442.3,296.7 442.4,294.2 442.5,295.4 442.6,291.8 442.8,287.3 442.8,291.4 442.8,291.7 442.9,292.1 442.9,290.2 443.0,287.9 443.0,287.7 443.0,286.5 443.1,284.1 443.1,283.3 443.2,282.8 443.2,282.4 443.2,284.0 443.3,284.5 443.3,280.5 443.4,281.8 443.4,281.4 443.5,277.0 443.5,273.5 443.5,275.5 443.6,274.4 443.6,275.7 443.7,273.5 443.7,273.0 443.8,271.2 443.8,269.2 443.8,267.2 443.9,268.2 443.9,269.5 444.0,270.6 444.0,265.0 444.2,263.0 444.4,266.7 444.5,263.6 444.7,261.8 444.9,262.6 445.1,261.8 445.2,259.7 445.5,263.2 445.8,263.2 446.0,260.6 446.2,258.9 446.5,258.6 446.8,258.8 447.0,263.0 447.2,263.2 447.5,259.7 447.8,261.9 447.8,260.9 447.9,262.9 448.0,263.2 448.1,260.1 448.2,259.3 448.2,254.6 448.3,255.5 448.4,255.3 448.5,253.1 448.6,252.9 448.7,251.7 448.8,251.1 448.8,249.7 448.9,250.2 449.0,251.5 449.1,250.6 449.3,249.1 449.4,246.9 449.6,243.8 449.7,247.8 449.8,250.7 450.0,243.1 450.1,241.8 450.2,242.3 450.4,242.4 450.5,244.7 450.6,245.8 450.7,247.2 450.8,247.1 450.9,246.8 451.0,249.6 451.1,252.5 451.2,253.2 451.3,253.1 451.4,253.2 451.5,252.0 451.6,251.8 451.8,255.4 451.9,255.5 452.1,255.3 452.2,254.3 452.3,256.0 452.5,257.5 452.6,260.1 452.8,259.5 452.9,260.7 453.0,262.2 453.1,261.8 453.2,265.0 453.3,264.2 453.4,263.0 453.5,264.1 453.6,264.1 453.7,266.7 453.8,270.7 453.9,269.5 454.0,271.0 454.1,272.6 454.3,271.3 454.4,271.1 454.6,273.8 454.7,275.1 454.8,275.2 455.0,274.3 455.1,271.1 455.2,276.6 455.4,273.3 455.5,274.9 455.6,272.7 455.7,276.0 455.8,274.9 455.9,269.5 456.0,268.5 456.1,272.0 456.2,270.5 456.3,269.3 456.4,271.0 456.5,267.5 456.7,268.2 456.9,267.2 457.0,264.6 457.2,264.4 457.4,263.0 457.6,263.6 457.8,262.4 457.9,263.1 458.1,262.6 458.3,261.2 458.5,261.8 458.6,260.8 458.8,260.1 459.0,257.0 459.2,254.4 459.4,254.9 459.5,254.3 459.7,253.2 459.9,253.5 460.1,253.7 460.2,252.3 460.4,251.8 460.5,251.8 460.6,251.8 460.7,253.1 460.8,255.0 460.9,256.4 461.0,258.8 461.1,259.2 461.2,256.6 461.3,254.5 461.4,258.3 461.5,261.8 461.6,263.6 461.6,263.6 461.7,267.9 461.7,267.4 461.8,263.0 461.9,263.2 461.9,268.8 462.0,269.5 462.0,271.6 462.1,272.7 462.2,271.9 462.2,274.8 462.3,275.7 462.3,275.5 462.4,275.6 462.5,273.7 462.5,276.5 462.6,280.3 462.6,278.2 462.7,279.9 462.8,279.7 462.9,280.1 463.1,280.6 463.2,279.0 463.4,276.7 463.5,273.1 463.7,274.1 463.8,273.1 464.0,273.8 464.1,273.3 464.2,273.9 464.3,276.2 464.5,281.5 464.6,277.9 464.7,279.4 464.8,281.3 464.9,281.9 465.0,282.0 465.1,280.4 465.2,282.5 465.5,282.0 465.8,283.2 466.0,278.3 466.2,278.1 466.5,278.6 466.8,278.3 467.0,279.2 467.2,281.0 467.5,282.1 467.8,282.4 467.9,282.0 468.0,282.7 468.2,278.5 468.3,280.0 468.4,279.8 468.6,277.6 468.7,275.0 468.9,274.3 469.0,274.8 469.2,274.7 469.4,274.3 469.5,277.4 469.7,276.2 469.9,278.7 470.1,278.7 470.2,280.0 470.4,281.1 470.5,282.9 470.6,282.5 470.7,284.1 470.8,285.3 470.9,284.3 471.0,285.2 471.1,286.9 471.2,285.7 471.3,285.8 471.4,287.6 471.5,289.9 471.7,290.5 471.9,287.4 472.0,284.3 472.2,285.0 472.4,286.0 472.6,284.3 472.8,284.8 473.0,285.3 473.2,285.5 473.5,285.6 473.8,287.4 474.0,288.0 474.1,286.4 474.2,284.9 474.3,285.3 474.5,281.6 474.6,281.1 474.7,283.3 474.8,285.6 474.9,279.7 475.0,279.6 475.1,281.0 475.2,279.8 475.6,279.3 475.9,279.3 476.2,279.9 476.5,282.3 476.6,281.3 476.8,278.9 476.9,274.4 477.1,275.5 477.2,276.7 477.3,279.3 477.5,277.2 477.6,275.3 477.8,274.8 477.9,274.3 478.1,275.7 478.3,277.4 478.5,277.7 478.6,279.5 478.8,279.3 479.0,279.5 479.1,277.5 479.2,279.9 479.3,276.9 479.5,275.9 479.6,276.9 479.7,276.1 479.8,275.0 479.9,272.4 480.0,272.8 480.1,272.8 480.2,271.2 480.3,273.8 480.3,274.7 480.4,276.8 480.4,274.8 480.5,275.7 480.5,276.5 480.6,275.5 480.6,276.8 480.7,279.1 480.7,279.5 480.8,279.7 480.8,280.0 480.9,284.5 480.9,283.1 481.0,282.5 481.0,285.7 481.1,285.7 481.1,283.2 481.2,282.5 481.2,287.0 481.3,288.2 481.3,289.7 481.4,290.6 481.4,292.7 481.5,292.7 481.5,291.2 481.6,292.3 481.7,297.4 481.8,295.7 481.9,296.6 482.0,295.7 482.1,296.4 482.2,297.5 482.3,297.8 482.4,300.1 482.5,302.2 482.6,298.7 482.8,301.3 482.8,302.3 482.9,307.3 483.0,309.4 483.1,307.2 483.2,309.4 483.3,307.4 483.4,309.4 483.5,308.9 483.6,309.4 483.7,309.4 483.8,304.8 483.9,302.0 483.9,304.2 484.0,305.6 484.1,304.8 484.2,304.1 484.3,303.9 484.4,302.4 484.5,297.5 484.6,298.1 484.7,300.3 484.8,299.0 484.9,298.2 485.1,297.4 485.2,295.2 485.4,295.1 485.5,293.0 485.7,294.7 485.8,293.0 486.0,291.8 486.4,291.2 486.8,291.6 487.2,290.3 487.4,292.6 487.5,292.3 487.7,292.8 487.8,294.8 487.9,295.3 488.1,293.4 488.2,292.8 488.4,296.1 488.5,297.2 488.8,296.5 489.1,298.2 489.4,298.2 489.8,295.4 489.9,297.4 490.0,299.6 490.2,300.5 490.3,300.0 490.4,303.2 490.6,302.3 490.7,303.0 490.9,302.2 491.0,300.0 491.2,303.1 491.4,303.5 491.5,304.7 491.7,303.3 491.9,303.0 492.1,305.2 492.2,307.2 492.4,309.5 492.6,311.4 492.8,307.4 493.0,308.0 493.1,311.1 493.3,311.6 493.5,312.7 493.6,313.2 493.7,313.2 493.8,311.8 493.9,307.1 494.0,305.6 494.1,306.1 494.2,304.6 494.3,301.9 494.4,301.8 494.5,301.9 494.6,305.2 494.8,303.0 494.9,308.5 495.0,304.3 495.1,302.4 495.2,306.0 495.3,308.5 495.4,309.1 495.5,308.9 495.6,307.8 495.7,311.4 495.8,313.2 495.9,310.4 496.0,306.2 496.1,311.8 496.2,312.8 496.3,314.3 496.4,318.8 496.5,322.1 496.6,322.6 496.7,321.3 496.8,323.2 496.9,323.2 497.0,321.5 497.1,322.4 497.2,322.6 497.4,323.2 497.5,323.2 497.7,319.9 497.8,317.9 497.9,318.9 498.1,318.0 498.2,316.6 498.4,314.3 498.5,314.7 498.7,312.7 498.8,310.2 499.0,315.6 499.2,315.5 499.3,311.5 499.5,310.2 499.7,306.8 499.8,306.8 500.0,307.3 500.1,308.3 500.2,309.5 500.3,312.6 500.4,312.1 500.5,315.1 500.6,313.8 500.7,312.4 500.8,312.1 500.9,313.2 501.0,314.8 501.1,315.6 501.2,316.4 501.6,317.8 501.9,317.5 502.2,319.1 502.5,320.5 502.5,320.9 502.6,325.9 502.6,326.9 502.6,324.4 502.6,326.4 502.7,323.3 502.7,326.7 502.7,330.8 502.8,331.6 502.8,329.6 502.8,329.8 502.8,332.4 502.9,333.0 502.9,332.3 502.9,334.9 503.0,334.6 503.0,335.2 503.0,338.2 503.0,338.8 503.1,339.0 503.1,338.9 503.1,340.6 503.2,341.9 503.2,340.0 503.2,338.8 503.2,341.3 503.3,340.0 503.3,338.5 503.4,338.3 503.4,337.8 503.5,337.4 503.5,337.6 503.6,333.6 503.6,332.4 503.6,336.4 503.7,335.3 503.7,336.4 503.8,336.4 503.8,331.2 503.9,331.1 503.9,327.8 503.9,327.0 504.0,326.0 504.0,328.1 504.1,326.5 504.1,324.7 504.2,324.3 504.2,323.6 504.2,325.5 504.4,323.2 504.5,323.2 504.7,321.1 504.8,317.1 504.9,316.2 505.1,317.9 505.2,319.2 505.4,317.1 505.5,317.3 505.7,313.8 505.9,313.1 506.0,314.1 506.2,309.8 506.4,309.3 506.6,309.5 506.8,309.8 507.0,309.3 507.2,309.9 507.5,311.6 507.8,311.3 508.0,313.1 508.1,308.2 508.3,310.1 508.4,313.1 508.6,309.8 508.7,309.3 508.8,307.2 509.0,307.2 509.1,309.3 509.2,304.7 509.5,301.9 509.8,304.2 510.0,306.9 510.2,303.5 510.5,300.2 510.6,301.4 510.7,302.2 510.8,301.1 510.9,300.4 511.0,298.6 511.1,300.3 511.2,295.8 511.3,295.1 511.4,295.7 511.5,291.8 511.6,291.8 511.8,292.3 511.9,291.8 512.1,292.4 512.3,295.6 512.5,298.2 512.6,298.1 512.8,297.2 513.0,296.9 513.3,299.0 513.6,299.4 513.9,298.7 514.2,300.2 514.3,302.0 514.4,301.9 514.5,302.2 514.6,303.0 514.7,302.9 514.8,302.1 514.9,304.9 515.0,306.4 515.1,305.0 515.1,302.7 515.2,302.8 515.3,301.0 515.4,300.3 515.4,298.9 515.5,299.1 515.6,298.3 515.7,296.4 515.7,295.8 515.8,296.4 515.9,301.7 516.0,299.6 516.0,299.1 516.1,297.2 516.2,293.1 516.2,292.4 516.4,292.8 516.5,288.1 516.7,287.1 516.8,284.3 516.9,284.3 517.1,284.3 517.2,285.3 517.4,286.2 517.5,287.3 517.8,285.7 518.0,284.5 518.2,281.4 518.5,281.0 518.8,280.7 519.0,280.9 519.2,277.7 519.5,277.6 519.8,276.8 520.0,275.5 520.2,274.5 520.3,275.0 520.5,273.8 520.6,273.4 520.8,272.3 520.9,270.6 521.1,270.6 521.2,271.1 521.3,270.7 521.4,271.2 521.5,273.7 521.5,277.6 521.6,278.8 521.7,278.2 521.8,275.2 521.8,280.0 521.9,283.5 522.0,277.0 522.1,276.8 522.1,280.6 522.2,282.1 522.3,281.0 522.4,281.2 522.4,285.0 522.5,285.2 522.6,285.7 522.7,287.0 522.8,290.6 522.9,289.3 523.0,290.8 523.1,290.0 523.2,289.7 523.3,289.6 523.4,292.0 523.5,294.0 523.6,294.6 523.8,295.6 523.9,295.1 524.0,295.3 524.1,299.6 524.2,299.2 524.3,301.4 524.4,300.7 524.5,297.1 524.6,300.0 524.7,304.4 524.8,302.8 524.9,305.7 525.0,300.8 525.2,304.3 525.4,305.6 525.5,306.5 525.7,306.2 525.9,307.9 526.1,304.3 526.2,305.7 526.3,312.0 526.4,314.9 526.5,314.8 526.6,313.0 526.7,312.3 526.8,314.0 526.9,316.7 527.0,316.4 527.1,315.8 527.2,316.5 527.3,315.4 527.4,315.5 527.5,313.0 527.5,312.2 527.6,310.5 527.7,307.1 527.8,307.1 527.9,307.9 528.0,307.6 528.2,308.6 528.4,307.9 528.5,306.8 528.7,306.8 528.9,312.7 529.1,313.2 529.2,312.5 529.7,310.6 530.1,310.8 530.5,308.9 530.6,306.8 530.7,306.0 530.8,307.8 530.9,307.5 530.9,306.2 531.0,306.1 531.1,305.1 531.2,303.4 531.3,304.6 531.4,302.3 531.5,299.8 531.6,300.6 531.7,299.3 531.8,299.7 531.8,299.1 531.9,298.7 532.0,295.3 532.0,298.0 532.1,297.4 532.2,294.1 532.2,294.7 532.3,295.7 532.4,293.3 532.4,291.7 532.5,292.5 532.6,293.7 532.7,290.9 532.7,290.8 532.8,287.4 532.9,288.1 532.9,284.3 533.0,283.9 533.1,282.3 533.2,281.8 533.4,283.1 533.5,282.0 533.6,282.4 533.8,280.5 533.9,281.7 534.0,280.5 534.1,280.0 534.2,279.3 534.4,281.6 534.5,283.2 534.6,287.0 534.7,287.9 534.8,291.6 534.8,290.6 534.9,287.7 535.0,287.9 535.1,288.9 535.2,290.3 535.2,293.0 535.3,295.7 535.4,293.3 535.5,295.3 535.7,294.9 535.8,295.8 536.0,297.6 536.1,298.6 536.3,297.2 536.4,299.5 536.6,297.4 536.8,298.8 536.9,303.8 537.0,304.2 537.2,304.0 537.3,304.4 537.4,304.3 537.6,306.0 537.7,306.5 537.9,309.4 538.0,310.4 538.2,309.2 538.4,311.1 538.5,310.3 538.7,310.4 538.9,314.0 539.1,314.4 539.2,314.3 539.4,314.7 539.6,313.1 539.8,315.1 540.0,317.4 540.1,319.4 540.3,319.4 540.5,318.4 540.6,319.4 540.7,317.1 540.8,316.9 540.9,316.3 540.9,313.9 541.0,310.3 541.1,310.9 541.2,311.8 541.3,311.0 541.4,311.7 541.5,312.8 541.6,310.7 541.7,306.8 541.8,307.6 541.9,309.8 542.0,309.5 542.1,309.7 542.2,309.1 542.3,309.8 542.4,311.0 542.5,312.3 542.7,315.6 542.8,315.2 542.9,312.4 543.0,314.0 543.2,315.6 543.3,318.9 543.5,319.8 543.6,316.4 543.8,318.7 543.9,321.2 544.1,321.4 544.2,321.8 544.5,318.5 544.8,320.4 545.0,318.7 545.2,318.1 545.5,318.6 545.6,318.1 545.8,318.1 545.9,320.3 546.1,323.7 546.2,323.7 546.3,324.4 546.5,321.8 546.6,322.1 546.8,325.6 546.9,324.0 547.1,322.5 547.2,319.5 547.4,321.6 547.5,322.7 547.7,322.4 547.8,322.8 548.0,320.7 548.2,322.1 548.5,324.4 548.8,323.4 549.0,322.8 549.2,323.9 549.4,323.2 549.6,321.4 549.8,323.2 550.0,319.7 550.1,318.1 550.3,318.6 550.5,319.5 550.8,322.4 551.0,320.5 551.2,321.9 551.5,322.3 551.8,322.3 551.8,320.0 551.9,321.1 552.0,322.8 552.0,319.1 552.1,318.3 552.2,314.5 552.2,315.3 552.3,318.5 552.4,315.2 552.4,316.7 552.5,313.9 552.6,312.4 552.7,313.4 552.7,310.6 552.8,308.6 552.9,309.4 552.9,307.5 553.0,308.0 553.4,308.2 553.8,307.9 554.2,307.3 554.3,312.0 554.4,308.5 554.5,308.9 554.6,309.7 554.7,309.3 554.8,311.8 554.9,313.2 555.0,312.2 555.1,314.5 555.1,315.4 555.2,315.9 555.3,318.1 555.4,316.3 555.5,313.1 555.8,316.9 556.1,316.8 556.4,319.2 556.8,320.2 556.9,319.9 557.1,319.1 557.2,318.8 557.4,317.7 557.5,318.7 557.7,315.6 557.8,313.1 558.0,312.7 558.1,314.4 558.2,313.0 558.3,311.3 558.5,309.2 558.6,311.1 558.7,309.6 558.8,307.8 558.9,306.1 559.0,305.0 559.1,305.3 559.2,305.1 559.6,304.3 559.9,304.3 560.2,308.2 560.5,307.7 560.6,306.8 560.7,308.4 560.8,308.5 560.9,309.4 561.0,311.0 561.1,313.4 561.2,311.0 561.3,315.0 561.4,316.7 561.5,315.3 561.6,315.0 561.8,319.0 561.9,320.3 562.0,320.8 562.2,319.0 562.3,317.7 562.4,319.2 562.6,322.0 562.7,319.5 562.9,324.0 563.0,324.3 563.1,325.3 563.2,324.8 563.3,328.6 563.4,331.1 563.5,330.2 563.6,329.2 563.7,334.0 563.8,334.7 563.9,331.6 564.0,332.5 564.1,332.8 564.2,334.1 564.5,330.6 564.8,332.8 565.0,332.6 565.2,331.4 565.5,327.8 565.8,331.6 566.0,330.8 566.2,331.9 566.5,331.1 566.8,327.9 567.1,329.5 567.4,329.1 567.7,330.2 568.0,330.0 568.1,329.0 568.2,329.5 568.3,326.8 568.4,323.6 568.5,325.8 568.6,324.1 568.7,322.7 568.8,322.6 568.9,323.4 569.0,322.4 569.1,320.0 569.2,319.7 569.4,320.7 569.5,317.3 569.7,315.9 569.8,315.7 569.9,313.6 570.1,311.8 570.2,311.8 570.4,312.7 570.5,312.5 570.7,313.2 570.8,311.2 571.0,311.2 571.1,308.2 571.3,308.4 571.4,307.3 571.6,308.9 571.8,306.2 572.0,306.2 572.2,307.2 572.5,310.7 572.8,309.3 573.0,312.1 573.2,309.5 573.3,309.3 573.5,309.3 573.6,311.1 573.8,311.4 573.9,315.5 574.1,316.9 574.2,316.2 574.4,317.4 574.5,320.5 574.7,320.7 574.8,319.4 574.9,320.4 575.1,320.3 575.2,322.3 575.4,324.4 575.5,325.4 575.8,326.7 576.0,328.2 576.2,328.2 576.5,328.2 576.8,329.5 577.0,326.8 577.2,328.1 577.5,331.9 577.8,331.1 578.0,331.0 578.1,328.3 578.2,329.8 578.3,328.0 578.5,327.2 578.6,327.0 578.7,325.7 578.8,327.2 578.9,326.2 579.0,324.1 579.1,323.1 579.2,321.9 579.6,321.5 579.9,320.3 580.2,321.2 580.5,320.1 580.6,322.3 580.8,319.3 580.9,319.8 581.1,325.1 581.2,324.2 581.3,325.6 581.5,325.5 581.6,325.5 581.8,330.0 581.9,329.8 582.1,330.9 582.3,330.8 582.5,330.7 582.6,333.2 582.8,333.2 583.0,332.7 583.1,332.8 583.1,331.5 583.2,331.0 583.3,328.7 583.4,326.3 583.4,326.3 583.5,325.6 583.6,324.7 583.7,323.9 583.7,324.3 583.8,322.9 583.9,321.8 584.0,323.2 584.0,327.0 584.1,323.9 584.2,318.1 584.2,318.6 584.4,320.7 584.6,321.9 584.7,322.3 584.9,321.7 585.0,322.9 585.2,325.7 585.3,324.8 585.5,325.2 585.7,323.8 585.9,321.6 586.0,319.3 586.2,322.0 586.4,322.6 586.6,319.3 586.8,319.9 586.9,319.3 587.0,319.3 587.2,323.1 587.3,324.5 587.4,322.5 587.6,324.2 587.7,325.1 587.9,326.8 588.0,329.0 588.2,330.2 588.4,329.0 588.5,329.2 588.7,328.8 588.9,332.1 589.1,333.2 589.2,335.1 589.6,334.2 589.9,333.7 590.2,334.4 590.5,334.6 590.6,335.7 590.8,333.4 590.9,332.7 591.1,329.4 591.2,326.8 591.3,326.8 591.5,326.8 591.6,326.8 591.8,328.1 592.1,328.2 592.4,327.4 592.7,325.4 593.0,324.8 593.2,326.9 593.3,324.8 593.5,326.8 593.6,328.8 593.8,331.9 593.9,329.5 594.1,330.2 594.2,331.4 594.5,331.9 594.8,331.3 595.0,330.4 595.2,330.3 595.5,328.2 595.6,329.7 595.8,329.2 595.9,330.0 596.1,329.3 596.2,331.5 596.3,331.5 596.5,333.1 596.6,328.7 596.8,332.1 597.1,335.0 597.4,335.4 597.7,334.3 598.0,337.2 598.2,335.5 598.5,335.4 598.8,337.0 599.0,336.0 599.2,333.9 599.4,336.0 599.6,334.4 599.8,338.1 600.0,339.2 600.1,338.8 600.3,339.4 600.5,339.7 600.8,341.9 601.1,341.9 601.4,339.8 601.8,341.4 601.9,341.9 602.1,341.9 602.3,338.0 602.5,337.6 602.6,337.2 602.8,337.1 603.0,336.5 603.2,338.2 603.5,340.7 603.8,340.7 604.0,339.0 604.2,339.7 604.4,340.7 604.6,340.5 604.8,340.5 605.0,337.8 605.1,334.3 605.3,334.6 605.5,335.0 605.8,335.7 606.1,335.1 606.4,332.7 606.8,332.6 606.9,334.0 607.1,334.0 607.2,333.1 607.4,333.7 607.5,335.1 607.7,338.0 607.8,339.4 608.0,341.0 608.2,338.8 608.3,341.6 608.5,342.1 608.6,340.4 608.8,345.7 608.9,345.7 609.1,344.3 609.2,344.7 609.4,343.9 609.5,343.1 609.7,344.3 609.8,344.4 609.9,343.5 610.1,340.8 610.2,339.7 610.4,340.0 610.5,339.2 610.7,336.7 610.9,337.3 611.0,338.2 611.2,338.2 611.4,332.7 611.6,331.8 611.8,328.8 611.9,331.7 612.1,333.2 612.3,333.2 612.5,332.0 612.6,329.1 612.8,326.8 613.0,324.0 613.1,324.5 613.2,326.0 613.3,323.4 613.5,322.0 613.6,322.2 613.7,321.2 613.8,321.3 613.9,320.5 614.0,322.2 614.1,322.7 614.2,318.8 614.4,322.1 614.6,321.5 614.7,322.4 614.9,323.7 615.0,323.3 615.2,323.2 615.3,323.4 615.5,322.0 615.7,325.3 615.8,326.4 616.0,327.0 616.1,329.6 616.3,328.9 616.4,330.0 616.6,328.6 616.8,328.9 616.9,330.6 617.1,330.6 617.3,330.6 617.5,332.9 617.6,332.3 617.8,334.1 618.0,336.1 618.3,335.2 618.6,335.8 618.9,333.1 619.2,333.6 619.4,335.0 619.6,336.7 619.7,339.2 619.9,338.9 620.0,338.9 620.2,339.1 620.3,338.3 620.5,339.7 620.7,336.3 620.9,335.3 621.0,336.4 621.2,337.5 621.4,337.6 621.6,334.3 621.8,335.1 621.9,334.2 622.0,331.6 622.2,328.8 622.3,331.1 622.4,329.7 622.6,330.1 622.7,329.5 622.9,329.8 623.0,327.3 623.3,327.0 623.6,328.4 623.9,327.1 624.2,330.0 624.5,329.6 624.8,328.4 625.0,328.1 625.2,328.8 625.5,326.9 625.7,328.0 625.8,328.1 626.0,327.2 626.1,328.7 626.3,330.3 626.4,331.6 626.6,333.2 626.8,334.4 626.9,334.0 627.0,334.6 627.2,336.5 627.3,336.1 627.4,336.8 627.6,339.8 627.7,340.7 627.9,340.7 628.0,340.2 628.2,340.7 628.4,337.0 628.5,334.9 628.7,334.6 628.9,335.9 629.1,334.8 629.2,335.3 629.4,335.8 629.5,334.3 629.7,334.3 629.8,336.5 629.9,338.4 630.1,336.9 630.2,341.4 630.4,340.5 630.5,342.7 630.8,343.2 631.1,343.2 631.4,341.2 631.8,339.3 632.1,339.3 632.4,342.7 632.7,343.2 633.0,342.7 633.2,342.9 633.5,339.7 633.8,338.7 634.0,338.9 634.2,339.0 634.2,343.0 634.2,345.4 634.2,341.0 634.2,342.1 634.2,342.7 634.2,343.4 634.2,345.1 634.2,345.2 634.5,349.2 634.8,347.4 635.0,344.3 635.2,346.5 635.5,351.3 635.8,349.7 636.0,348.1 636.2,350.9 636.5,353.2 636.8,351.2 636.9,351.8 637.1,352.6 637.2,352.8 637.4,354.2 637.5,355.3 637.7,359.4 637.8,358.3 638.0,358.5 638.2,354.9 638.4,359.4 638.5,358.0 638.7,354.5 638.9,354.9 639.1,357.4 639.2,354.8 639.6,353.0 639.9,352.3 640.2,352.1 640.5,351.4 640.6,352.1 640.8,353.3 640.9,357.5 641.1,358.4 641.2,354.5 641.3,358.6 641.5,356.7 641.6,359.4 641.8,362.3 641.9,359.3 642.1,360.0 642.3,361.6 642.5,363.9 642.6,359.9 642.8,361.0 643.0,363.7 643.1,363.8 643.2,359.3 643.3,358.2 643.5,359.8 643.6,359.5 643.7,359.0 643.8,358.1 643.9,354.9 644.0,354.3 644.1,354.3 644.2,356.0 644.7,355.7 645.1,355.7 645.5,353.7 645.6,355.6 645.7,355.3 645.8,354.2 646.0,359.7 646.1,361.4 646.2,357.2 646.3,359.0 646.4,361.2 646.5,359.6 646.6,361.4 646.8,362.0 646.9,361.8 647.1,361.8 647.3,361.8 647.5,363.2 647.6,365.0 647.8,366.8 648.0,367.7 648.1,368.2 648.2,366.5 648.2,363.6 648.3,359.7 648.4,365.7 648.5,364.1 648.6,360.7 648.7,362.6 648.8,359.9 648.8,361.6 648.9,357.8 649.0,359.3 649.1,357.0 649.2,355.7 649.2,354.8 649.5,354.9 649.8,354.6 650.0,354.3 650.2,357.3 650.5,358.5 650.6,360.4 650.8,363.1 650.9,359.0 651.1,359.3 651.2,365.8 651.3,364.8 651.5,363.3 651.6,364.2 651.8,364.4 651.9,368.6 652.1,369.1 652.2,371.3 652.4,370.3 652.5,370.8 652.7,369.8 652.8,369.2 653.0,369.9 653.1,371.8 653.2,372.1 653.3,372.0 653.4,374.9 653.5,377.4 653.6,378.8 653.7,379.0 653.8,381.8 653.9,381.4 654.0,382.5 654.1,381.4 654.2,382.5 654.3,382.7 654.4,382.4 654.5,382.2 654.6,381.3 654.7,378.6 654.8,377.1 654.8,378.5 654.9,378.7 655.0,378.5 655.1,374.7 655.2,369.3 655.2,370.1 655.3,370.3 655.4,369.3 655.5,369.9 655.7,372.2 655.9,373.8 656.0,374.7 656.2,374.2 656.4,373.7 656.6,372.4 656.8,376.4 657.0,376.3 657.2,378.3 657.5,377.7 657.8,378.0 658.0,378.8 658.2,376.6 658.5,375.6 658.8,376.2 659.0,376.2 659.2,375.2 659.4,378.2 659.6,378.9 659.8,380.6 660.0,380.7 660.1,379.2 660.3,375.7 660.5,380.0 660.8,379.6 661.1,379.2 661.4,378.8 661.8,377.8 661.9,380.4 662.0,380.7 662.2,380.4 662.3,382.1 662.4,382.4 662.6,383.7 662.7,385.4 662.9,381.6 663.0,383.2 663.1,384.3 663.2,386.2 663.3,390.8 663.4,391.6 663.4,389.9 663.5,387.6 663.6,389.2 663.7,394.2 663.8,393.9 663.9,394.8 664.0,393.2 664.1,389.9 664.2,394.3 664.2,396.4 664.3,394.6 664.4,393.2 664.5,394.2 664.6,393.9 664.7,390.9 664.8,390.6 664.8,388.3 664.9,386.0 665.0,386.6 665.1,388.9 665.2,384.4 665.2,386.8 665.3,386.8 665.4,383.9 665.5,383.6 665.8,383.1 666.0,386.2 666.2,388.2 666.5,388.2 666.8,387.7 666.8,387.9 666.9,386.4 667.0,383.8 667.1,384.1 667.2,382.1 667.2,380.1 667.3,377.0 667.4,379.4 667.5,380.7 667.6,379.5 667.7,380.4 667.8,376.4 667.8,374.3 667.9,375.3 668.0,374.4 668.1,375.4 668.3,373.4 668.4,372.8 668.6,372.4 668.7,371.1 668.8,374.7 669.0,371.0 669.1,366.8 669.2,368.4 669.4,368.0 669.5,367.8 669.7,367.4 669.8,363.8 669.9,363.2 670.1,363.4 670.2,360.1 670.4,359.3 670.5,360.2 670.6,360.7 670.8,357.6 670.9,356.5 671.1,354.8 671.2,354.9 671.3,355.6 671.5,352.6 671.6,351.8 671.8,349.2 671.9,349.1 672.0,350.1 672.1,350.7 672.2,351.0 672.3,349.9 672.4,346.2 672.5,347.4 672.6,347.0 672.7,343.5 672.8,341.8 672.9,341.8 673.0,340.2 673.0,343.2 673.1,341.9 673.1,339.2 673.2,338.0 673.2,334.8 673.2,335.9 673.3,336.9 673.3,334.9 673.4,336.8 673.4,329.4 673.5,331.6 673.5,331.7 673.5,332.2 673.6,331.1 673.6,329.4 673.7,327.6 673.7,330.5 673.8,328.6 673.9,327.9 674.0,327.9 674.2,325.7 674.4,325.4 674.5,323.6 674.6,324.3 674.6,324.3 674.7,325.4 674.8,327.8 674.9,326.2 674.9,327.2 675.0,328.3 675.1,330.4 675.1,332.1 675.2,331.3 675.3,335.2 675.4,335.7 675.4,335.7 675.5,335.2 675.6,334.2 675.7,331.5 675.8,332.4 676.0,333.5 676.1,333.2 676.2,331.4 676.3,330.8 676.4,329.0 676.5,327.0 676.6,327.1 676.8,326.1 676.8,329.6 676.9,330.4 677.0,330.1 677.1,330.3 677.2,331.2 677.3,328.5 677.4,330.6 677.5,331.8 677.6,332.9 677.6,336.5 677.7,335.5 677.8,336.1 677.9,336.8 678.0,337.4 678.2,338.2 678.3,338.2 678.5,336.2 678.6,330.7 678.8,331.4 678.9,333.5 679.1,331.1 679.2,331.1 679.2,330.6 679.2,330.6 679.2,331.0 679.2,336.2 679.1,337.3 679.1,336.5 679.1,338.1 679.1,335.6 679.1,337.9 679.0,336.5 679.0,338.0 679.0,339.4 679.0,341.4 679.0,343.2 678.9,343.1 678.9,342.2 678.9,343.7 678.9,344.1 678.9,349.0 678.8,351.6 678.8,346.9 678.8,349.5 678.8,349.9 678.8,351.4 678.9,348.9 679.0,348.2 679.2,347.9 679.3,348.8 679.4,348.4 679.6,345.3 679.7,344.8 679.9,346.5 680.0,343.8 680.2,343.1 680.3,343.1 680.5,344.7 680.6,348.9 680.8,350.7 680.9,349.6 681.1,348.8 681.2,349.8 681.4,350.7 681.5,350.7 681.7,349.7 681.8,348.3 681.9,346.4 682.1,345.8 682.2,341.8 682.4,341.8 682.5,342.3 682.7,342.5 682.8,345.4 683.0,346.8 683.1,347.4 683.3,347.8 683.4,349.4 683.6,346.5 683.8,348.3 684.1,345.6 684.4,345.6 684.7,345.6 685.0,346.1 685.2,345.7 685.5,345.6 685.8,348.0 686.0,350.1 686.2,349.0 686.4,349.4 686.6,353.8 686.7,354.8 686.9,353.1 687.0,352.2 687.2,353.1 687.3,353.6 687.5,356.4 687.6,355.2 687.7,355.4 687.8,353.7 688.0,350.3 688.1,352.4 688.2,353.4 688.3,353.4 688.4,352.5 688.5,348.1 688.6,346.8 688.8,347.5 688.9,349.3 689.0,346.8 689.1,347.5 689.2,347.4 689.3,350.1 689.4,354.0 689.5,356.7 689.6,355.7 689.7,358.2 689.8,358.2 689.9,357.1 690.0,354.1 690.1,356.8 690.3,359.1 690.4,358.2 690.6,359.6 690.7,359.5 690.8,360.4 691.0,361.1 691.1,363.0 691.2,364.3 691.4,369.0 691.6,365.2 691.8,366.8 692.0,370.7 692.1,370.7 692.3,370.7 692.5,370.5 692.6,372.3 692.8,369.3 692.9,372.4 693.1,373.4 693.2,376.8 693.3,377.5 693.5,374.0 693.6,375.2 693.8,377.1 693.9,375.6 694.1,378.2 694.2,373.0 694.4,370.7 694.5,373.2 694.7,373.3 694.8,370.6 695.0,371.1 695.1,370.6 695.1,370.6 695.2,370.6 695.3,374.6 695.3,377.2 695.4,377.6 695.5,377.4 695.6,377.4 695.6,379.6 695.7,375.1 695.8,377.7 695.8,382.2 695.9,380.7 696.0,383.0 696.0,381.9 696.1,382.7 696.2,382.9 696.2,386.2 696.4,385.1 696.5,384.9 696.6,385.6 696.7,384.2 696.8,381.0 696.9,381.1 697.0,381.3 697.2,378.9 697.3,376.8 697.4,376.8 697.5,372.5 697.7,376.5 697.9,376.1 698.0,374.7 698.2,373.3 698.4,372.4 698.6,372.7 698.8,372.3 698.9,372.9 699.0,375.7 699.2,374.4 699.3,372.7 699.4,377.6 699.6,380.1 699.7,379.4 699.9,379.7 700.0,380.2 700.2,380.7 700.5,379.3 700.8,377.1 701.0,378.5 701.2,376.5 701.4,377.5 701.6,377.8 701.8,375.6 702.0,377.4 702.1,377.8 702.3,380.3 702.5,381.4 702.6,381.9 702.7,379.9 702.8,378.9 703.0,378.8 703.1,379.0 703.2,377.4 703.3,375.2 703.4,372.2 703.5,371.8 703.6,371.8 703.8,371.1 704.1,372.4 704.4,372.6 704.7,373.1 705.0,370.5 705.1,370.8 705.3,373.3 705.4,375.4 705.6,376.0 705.7,376.9 705.8,378.2 706.0,377.1 706.1,378.2 706.2,377.5 706.4,373.6 706.6,378.2 706.7,377.6 706.9,376.2 707.0,374.4 707.2,374.7 707.3,373.3 707.5,372.4 707.8,371.2 708.0,369.9 708.2,368.5 708.5,367.8 708.8,367.7 708.9,367.7 709.0,366.8 709.2,366.8 709.3,370.4 709.4,370.2 709.6,371.5 709.7,372.4 709.9,371.8 710.0,374.8 710.2,375.7 710.3,372.0 710.5,374.1 710.6,374.2 710.8,375.2 710.9,373.9 711.1,372.7 711.2,368.6 711.5,370.6 711.8,373.2 712.0,371.6 712.2,372.2 712.5,372.6 712.7,372.8 712.8,370.8 713.0,370.7 713.1,368.9 713.3,368.9 713.4,368.4 713.6,366.3 713.8,364.3 714.2,364.9 714.8,365.2 714.8,366.5 714.9,365.6 714.9,368.6 715.0,367.4 715.1,367.9 715.1,369.0 715.2,372.0 715.2,373.8 715.3,371.9 715.4,373.5 715.4,375.3 715.5,375.2 715.8,374.3 716.1,375.5 716.4,375.7 716.8,372.9 716.9,371.8 717.1,372.8 717.2,374.0 717.4,375.7 717.5,376.2 717.7,379.4 717.8,379.4 718.0,379.1 718.2,379.5 718.5,381.0 718.8,381.2 719.0,378.1 719.2,382.3 719.6,381.3 719.9,380.0 720.2,382.7 720.5,380.4 720.6,379.9 720.8,381.9 720.9,386.6 721.1,385.7 721.2,382.9 721.3,381.0 721.5,385.2 721.6,385.5 721.8,386.9 721.9,387.0 722.1,387.7 722.2,383.8 722.4,384.2 722.5,386.0 722.7,386.2 722.8,382.0 723.0,381.1 723.1,382.4 723.2,381.1 723.3,381.9 723.4,385.5 723.5,383.9 723.6,386.6 723.7,389.9 723.8,390.8 723.9,391.0 724.0,391.9 724.1,391.9 724.2,391.4 724.4,389.9 724.6,390.5 724.8,390.7 725.0,389.2 725.1,387.5 725.3,386.8 725.5,386.1 725.7,385.6 725.8,389.8 726.0,391.9 726.1,390.6 726.3,388.9 726.4,389.0 726.6,389.1 726.8,392.5 727.1,392.9 727.4,392.0 727.7,393.2 728.0,390.2 728.2,392.4 728.3,393.2 728.5,393.7 728.6,389.3 728.8,390.3 728.9,393.4 729.1,396.9 729.2,396.4 729.6,396.6 729.9,393.1 730.2,393.1 730.5,393.6 730.7,393.1 730.9,394.9 731.0,396.5 731.2,396.2 731.4,398.3 731.6,399.3 731.8,398.8 731.9,395.2 732.1,395.2 732.2,395.2 732.4,395.3 732.5,394.8 732.7,395.6 732.8,395.8 733.0,393.2 733.1,398.0 733.3,397.4 733.4,395.5 733.6,394.9 733.7,393.5 733.8,393.0 734.0,397.0 734.1,400.4 734.2,400.2 734.5,397.8 734.8,398.5 735.0,399.2 735.2,395.6 735.5,393.4 735.8,396.4 736.0,395.5 736.2,392.0 736.5,391.8 736.8,392.3 736.9,393.1 737.0,395.0 737.2,396.4 737.3,396.7 737.4,398.6 737.6,400.6 737.7,398.5 737.9,398.6 738.0,400.4 738.1,402.6 738.3,402.9 738.4,402.0 738.6,399.7 738.7,402.2 738.8,404.7 739.0,404.6 739.1,406.5 739.2,407.7 739.4,406.5 739.5,403.4 739.6,407.5 739.7,406.5 739.8,404.7 739.9,402.0 740.0,398.1 740.2,398.5 740.3,398.1 740.4,398.1 740.5,398.6 740.8,398.1 741.1,399.2 741.4,399.5 741.8,401.1 742.0,401.7 742.2,400.5 742.5,401.1 742.8,399.4 743.0,397.7 743.1,396.8 743.2,398.5 743.3,401.4 743.5,404.0 743.6,403.1 743.7,401.7 743.8,405.6 743.9,406.0 744.0,406.5 744.1,403.7 744.2,403.9 744.4,406.9 744.5,408.0 744.7,407.2 744.8,407.3 744.9,407.2 745.1,409.0 745.2,413.0 745.4,414.4 745.5,413.6 745.7,412.3 745.8,411.9 746.0,411.3 746.1,409.4 746.3,408.1 746.4,408.4 746.6,409.7 746.8,407.3 747.1,407.7 747.4,407.2 747.7,407.2 748.0,409.3 748.2,409.1 748.3,409.5 748.5,410.7 748.6,408.5 748.8,405.9 748.9,403.1 749.1,403.7 749.2,404.0 749.6,406.9 749.9,406.9 750.2,406.9 750.5,406.4 750.7,405.5 750.8,404.9 751.0,403.1 751.1,403.1 751.3,404.2 751.4,406.7 751.6,406.9 751.8,402.3 751.9,398.8 752.0,398.8 752.2,400.1 752.3,398.1 752.4,393.7 752.6,391.8 752.7,391.8 752.9,392.8 753.0,389.9 753.0,388.9 753.1,392.5 753.1,390.5 753.2,389.7 753.2,390.4 753.2,390.8 753.3,385.1 753.3,386.0 753.4,384.9 753.4,384.3 753.5,383.8 753.5,383.9 753.5,379.9 753.6,383.9 753.6,384.9 753.7,381.5 753.7,378.5 753.8,380.6 753.9,378.2 754.0,378.2 754.1,375.0 754.2,372.8 754.3,373.4 754.4,374.7 754.5,372.2 754.6,369.9 754.8,370.0 755.1,370.0 755.5,369.4 755.5,370.5 755.6,372.1 755.6,372.7 755.7,371.4 755.7,372.4 755.8,376.7 755.8,376.3 755.9,376.1 755.9,377.0 756.0,377.7 756.0,380.5 756.1,382.0 756.1,382.1 756.2,381.3 756.2,383.2 756.2,383.7 756.4,386.5 756.6,386.9 756.8,388.2 757.0,387.5 757.1,388.2 757.3,388.2 757.5,387.0 757.6,386.5 757.8,388.2 757.9,387.9 758.1,383.4 758.2,381.9 758.3,380.4 758.5,379.3 758.6,379.9 758.8,379.8 758.9,379.3 759.1,380.6 759.2,380.2 759.4,380.8 759.5,381.6 759.7,382.3 759.8,383.9 760.0,388.5 760.2,386.1 760.4,387.6 760.6,387.4 760.8,386.1 761.0,389.7 761.1,387.9 761.2,389.2 761.2,385.6 761.3,385.5 761.4,386.2 761.5,383.6 761.6,382.1 761.7,382.3 761.8,382.1 761.8,382.5 761.9,378.9 762.0,377.4 762.1,377.2 762.2,377.4 762.2,378.4 762.3,376.4 762.4,375.7 762.5,373.5 762.5,373.5 762.6,373.6 762.7,370.4 762.7,374.7 762.8,371.5 762.9,372.2 762.9,370.3 763.0,368.4 763.1,365.8 763.2,366.2 763.2,365.7 763.3,366.9 763.4,362.1 763.4,362.5 763.5,358.3 763.6,359.0 763.7,361.6 763.8,359.8 764.0,358.6 764.1,357.7 764.2,357.8 764.3,357.2 764.4,358.9 764.5,353.2 764.6,356.1 764.8,353.8 765.0,352.5 765.2,349.3 765.5,349.3 765.8,349.3 766.0,349.8 766.1,349.8 766.2,350.7 766.3,352.2 766.5,353.8 766.6,355.2 766.7,354.2 766.8,355.6 766.9,356.1 767.0,357.0 767.1,356.3 767.2,356.6 767.4,358.1 767.6,358.3 767.7,360.3 767.9,360.6 768.0,360.8 768.2,362.7 768.3,365.7 768.5,364.6 768.7,362.2 768.8,359.9 769.0,359.1 769.1,360.5 769.3,361.7 769.4,358.1 769.6,358.1 769.8,360.5 770.2,359.4 770.6,358.1 771.0,357.4 771.1,356.8 771.2,358.2 771.3,361.1 771.4,361.4 771.5,360.2 771.6,360.0 771.7,360.0 771.8,361.7 771.9,360.6 772.0,367.0 772.1,368.2 772.2,369.2 772.4,370.2 772.6,370.8 772.8,373.2 773.0,367.8 773.1,367.9 773.3,371.0 773.5,373.8 773.7,374.2 773.8,374.3 774.0,376.5 774.1,377.2 774.3,377.1 774.4,377.4 774.6,379.4 774.8,380.3 775.0,381.6 775.2,381.2 775.5,382.8 775.8,383.1 776.0,385.9 776.1,383.6 776.2,383.7 776.2,388.6 776.3,388.2 776.4,386.3 776.5,387.5 776.6,390.0 776.7,389.3 776.8,384.3 776.8,388.5 776.9,392.4 777.0,390.0 777.1,391.4 777.2,395.2 777.2,395.0 777.4,395.7 777.5,394.8 777.7,393.7 777.8,392.3 777.9,391.0 778.1,394.1 778.2,391.7 778.4,386.8 778.5,385.7 778.7,385.6 778.9,388.2 779.0,387.0 779.2,387.7 779.4,385.5 779.6,381.8 779.8,382.3 779.9,381.8 780.0,386.0 780.2,382.5 780.3,384.4 780.4,390.0 780.6,390.7 780.7,390.2 780.9,389.7 781.0,389.4 781.2,389.2 781.5,390.7 781.8,386.9 782.0,385.6 782.2,386.4 782.4,387.5 782.5,389.6 782.7,388.7 782.8,390.3 782.9,388.9 783.1,387.1 783.2,389.8 783.4,391.6 783.5,392.8 783.7,389.8 783.9,389.3 784.0,390.6 784.2,388.1 784.4,388.1 784.6,388.7 784.8,389.3 785.2,388.7 785.6,387.6 786.0,387.3 786.2,386.8 786.4,386.8 786.5,389.3 786.7,392.4 786.9,391.9 787.1,390.9 787.2,391.6 787.4,394.2 787.6,396.7 787.8,398.1 788.0,396.8 788.1,397.6 788.3,396.8 788.5,397.7 788.6,394.9 788.6,392.3 788.7,389.9 788.8,387.2 788.8,393.4 788.9,394.3 788.9,394.0 789.0,390.7 789.1,388.6 789.1,387.5 789.2,389.3 789.2,386.3 789.3,386.2 789.4,382.6 789.4,383.3 789.5,384.4 789.6,384.8 789.6,386.0 789.7,384.2 789.8,384.0 789.9,381.9 790.1,381.9 790.2,379.0 790.4,380.2 790.5,379.7 790.7,375.6 790.8,377.6 791.0,376.2 791.2,374.3 791.5,373.6 791.8,370.6 792.0,370.6 792.2,371.3 792.4,370.6 792.5,372.3 792.6,370.8 792.7,374.4 792.8,374.4 792.9,374.0 793.0,376.9 793.1,378.1 793.2,379.0 793.3,380.5 793.4,381.2 793.5,381.3 793.8,380.7 794.0,384.9 794.2,385.6 794.5,385.7 794.8,385.2 795.0,385.7 795.2,385.2 795.5,385.1 795.8,383.8 796.0,380.2 796.3,380.7 796.6,379.0 796.9,380.2 797.2,380.7 797.7,380.7 798.1,380.7 798.5,379.4 798.6,383.8 798.7,381.7 798.8,383.0 799.0,382.6 799.1,384.8 799.2,388.2 799.3,386.3 799.4,385.1 799.5,385.8 799.6,387.0 799.8,390.0 799.9,390.1 800.0,389.4 800.1,391.5 800.2,392.7 800.3,393.1 800.4,393.9 800.5,394.3 800.6,396.1 800.7,395.9 800.8,396.7 800.9,397.4 801.0,398.9 801.2,399.2 801.5,398.9 801.8,397.4 802.0,394.3 802.2,394.8 802.4,395.4 802.5,397.2 802.7,394.3 802.8,399.9 802.9,400.7 803.1,400.7 803.2,401.3 803.4,402.1 803.5,402.6 803.6,402.2 803.7,398.5 803.8,398.6 804.0,398.1 804.1,394.7 804.2,396.1 804.3,397.7 804.4,395.6 804.5,395.0 804.6,395.3 804.8,394.5 804.9,394.1 805.1,392.3 805.3,393.1 805.5,394.4 805.6,389.6 805.8,389.0 806.0,386.5 806.2,385.9 806.5,384.6 806.8,384.3 807.0,385.7 807.2,384.3 807.4,385.4 807.6,385.7 807.8,383.9 808.0,385.6 808.1,380.7 808.3,381.3 808.5,383.2 808.6,380.7 808.8,380.7 808.9,379.6 809.1,373.1 809.2,377.4 809.3,376.6 809.5,376.4 809.6,376.0 809.8,374.3 809.9,373.2 810.0,372.6 810.1,369.1 810.2,369.6 810.3,368.9 810.4,366.6 810.5,365.2 810.7,363.8 810.8,366.2 810.9,365.1 811.0,365.1 811.1,364.4 811.2,362.4 811.3,361.4 811.4,361.0 811.4,361.0 811.5,359.6 811.6,356.0 811.7,354.9 811.8,356.9 811.9,358.0 812.0,356.5 812.1,355.3 812.2,351.8 812.2,352.3 812.6,353.4 812.9,355.2 813.2,353.7 813.5,355.2 813.8,353.9 814.0,350.6 814.2,351.4 814.5,352.4 814.8,351.4 814.8,351.8 814.8,350.6 814.9,350.6 814.9,352.5 815.0,353.6 815.0,358.6 815.1,357.9 815.1,358.7 815.1,359.6 815.2,358.0 815.2,359.6 815.3,360.1 815.3,359.6 815.4,360.5 815.4,364.6 815.5,365.7 815.5,365.2 815.5,365.7 815.6,363.7 815.6,361.3 815.6,361.2 815.7,361.5 815.7,361.5 815.7,359.4 815.8,358.6 815.8,359.2 815.8,359.0 815.9,356.6 815.9,355.6 815.9,355.2 816.0,352.9 816.0,351.6 816.0,351.9 816.1,351.4 816.1,352.3 816.1,353.4 816.2,347.5 816.2,348.2 816.2,349.4 816.2,346.8 816.3,346.3 816.3,342.8 816.4,344.3 816.4,343.2 816.5,339.8 816.5,340.6 816.6,343.6 816.6,337.7 816.7,336.8 816.7,338.2 816.8,337.5 817.1,337.4 817.4,337.5 817.7,340.7 818.0,340.2 818.1,339.6 818.3,337.1 818.4,337.9 818.6,336.8 818.7,337.3 818.8,336.0 819.0,334.5 819.1,332.0 819.2,329.8 819.4,331.3 819.5,332.6 819.6,333.2 819.7,328.8 819.8,329.6 819.9,327.9 820.0,328.9 820.1,325.2 820.2,323.8 820.3,323.9 820.4,324.3 820.5,318.1 820.6,319.8 820.8,322.5 820.9,319.6 821.1,320.0 821.2,320.2 821.3,320.6 821.5,315.0 821.6,315.9 821.8,316.0 821.9,315.7 822.0,315.7 822.1,313.2 822.2,309.8 822.3,310.6 822.4,309.3 822.5,309.9 822.6,307.8 822.7,306.2 822.8,306.0 822.9,304.3 823.0,307.7 823.0,305.7 823.1,302.6 823.1,302.2 823.2,302.7 823.2,299.2 823.2,298.6 823.3,297.7 823.3,298.5 823.4,300.3 823.4,297.0 823.5,294.2 823.5,292.4 823.5,292.5 823.6,294.8 823.6,295.2 823.7,293.1 823.7,294.7 823.8,292.7 824.0,290.7 824.2,289.3 824.5,286.7 824.8,288.8 825.0,286.4 825.0,285.6 825.1,286.9 825.1,288.4 825.2,290.9 825.2,289.7 825.3,291.9 825.3,291.3 825.4,295.5 825.4,295.0 825.4,295.7 825.5,295.6 825.5,295.0 825.6,296.7 825.6,297.7 825.7,297.8 825.7,299.0 825.8,298.6 825.8,301.1 825.8,301.7 825.9,302.6 825.9,305.0 826.0,304.9 826.0,306.9 826.1,307.0 826.1,304.0 826.2,304.5 826.2,306.1 826.3,308.4 826.3,306.4 826.4,314.7 826.4,313.0 826.5,317.1 826.5,315.5 826.6,313.4 826.6,315.1 826.7,318.2 826.7,317.4 826.8,317.7 826.9,313.5 827.0,310.7 827.1,313.9 827.2,313.4 827.3,308.1 827.4,308.3 827.5,311.9 827.7,310.4 827.8,309.2 827.9,308.1 828.0,307.4 828.1,307.6 828.3,306.6 828.4,306.6 828.6,306.9 828.7,307.5 828.8,304.3 829.0,304.3 829.1,303.0 829.2,301.3 829.4,306.8 829.5,306.5 829.7,303.9 829.8,305.5 829.9,308.3 830.1,305.3 830.2,305.4 830.4,309.2 830.5,310.1 830.6,312.0 830.7,312.6 830.8,310.3 830.9,312.2 830.9,313.7 831.0,314.9 831.1,316.6 831.2,319.5 831.3,318.1 831.4,317.4 831.5,318.5 831.6,319.3 831.7,320.7 831.8,319.9 831.9,322.7 832.0,319.3 832.1,319.3 832.2,321.5 832.3,323.1 832.4,327.6 832.5,326.5 832.7,328.6 832.8,329.4 832.9,329.4 833.0,332.9 833.1,333.3 833.2,332.1 833.3,330.2 833.5,333.3 833.6,333.1 833.7,331.6 833.8,332.4 833.9,335.1 834.0,334.7 834.1,338.2 834.2,336.4 834.4,339.2 834.6,339.9 834.7,340.0 834.9,341.3 835.0,343.1 835.2,340.6 835.3,340.0 835.5,342.8 835.7,343.1 835.8,343.1 836.0,346.1 836.1,349.8 836.3,347.7 836.4,346.3 836.6,345.8 836.8,346.6 837.0,349.3 837.2,353.7 837.5,352.5 837.8,352.1 838.0,354.5 838.1,358.7 838.2,354.6 838.3,356.0 838.4,360.3 838.4,360.8 838.5,361.3 838.6,361.0 838.7,360.9 838.8,361.6 838.9,360.9 839.0,360.2 839.1,364.5 839.2,365.7 839.2,367.1 839.4,369.8 839.5,369.6 839.6,366.8 839.7,366.7 839.8,364.9 839.9,370.4 840.0,372.1 840.1,374.5 840.2,374.1 840.3,370.5 840.4,372.2 840.5,373.8 840.6,374.3 840.8,374.3 840.9,377.2 841.1,379.2 841.2,379.8 841.3,381.4 841.5,382.2 841.6,379.8 841.8,381.3 841.9,381.8 842.1,382.4 842.2,382.2 842.4,381.8 842.5,385.5 842.7,387.1 842.8,387.2 843.0,388.7 843.1,389.4 843.2,389.4 843.3,387.3 843.5,386.1 843.6,385.1 843.7,382.3 843.8,382.7 843.9,382.8 844.0,380.2 844.1,379.3 844.2,381.4 844.3,380.1 844.4,378.3 844.5,379.4 844.6,377.1 844.7,373.0 844.8,373.7 844.8,373.5 844.9,373.0 845.0,374.5 845.1,373.6 845.2,370.4 845.2,368.3 845.3,368.9 845.4,366.9 845.5,365.2 845.6,365.1 845.6,364.0 845.7,360.6 845.8,364.4 845.8,364.5 845.9,362.3 846.0,361.1 846.1,358.9 846.1,357.9 846.2,356.4 846.3,355.8 846.3,356.1 846.4,354.5 846.5,356.2 846.5,358.5 846.6,356.5 846.7,351.8 846.8,352.3 846.8,351.8 846.9,355.8 846.9,355.5 847.0,357.6 847.0,358.6 847.1,357.6 847.2,356.9 847.2,355.0 847.3,360.3 847.3,364.5 847.4,364.5 847.5,365.3 847.5,362.4 847.6,364.3 847.6,365.6 847.7,365.3 847.8,365.0 847.8,364.5 847.9,367.5 847.9,365.6 848.0,369.4 848.1,369.0 848.2,369.9 848.2,367.6 848.3,367.8 848.4,366.7 848.5,366.2 848.6,365.4 848.7,365.1 848.8,364.6 848.8,361.5 848.9,359.4 849.0,357.7 849.1,358.1 849.2,359.3 849.2,357.9 849.4,358.4 849.5,362.0 849.7,360.8 849.8,362.9 849.9,360.9 850.1,359.7 850.2,360.8 850.4,362.6 850.5,365.2 850.6,364.4 850.6,362.7 850.7,363.2 850.7,361.9 850.8,361.8 850.8,359.9 850.9,358.2 850.9,359.3 851.0,356.5 851.0,356.4 851.1,354.4 851.1,352.9 851.2,350.8 851.2,354.5 851.3,354.7 851.3,352.2 851.4,351.1 851.4,347.9 851.5,345.5 851.5,346.2 851.6,346.0 851.6,345.9 851.7,344.3 851.8,342.0 851.8,340.1 851.8,339.3 851.9,341.0 851.9,344.2 851.9,344.8 852.0,343.3 852.0,338.3 852.0,337.4 852.1,339.8 852.1,338.5 852.2,337.9 852.2,333.0 852.2,329.3 852.3,335.7 852.3,335.7 852.4,329.4 852.4,328.2 852.4,329.4 852.5,329.2 852.5,328.6 852.5,329.8 852.6,332.0 852.6,333.3 852.7,332.4 852.7,329.7 852.8,333.6 852.8,332.6 852.9,333.4 852.9,336.1 852.9,336.1 853.0,337.8 853.0,339.6 853.1,341.9 853.1,342.3 853.2,342.1 853.2,343.2 853.3,342.6 853.3,344.8 853.3,344.5 853.4,344.2 853.4,348.5 853.5,349.8 853.5,348.7 853.6,347.5 853.6,349.8 853.7,353.2 853.7,353.2 853.8,352.7 853.9,353.2 854.1,351.3 854.3,351.0 854.5,350.3 854.6,347.7 854.8,348.4 855.0,347.3 855.1,348.8 855.1,351.4 855.2,349.2 855.2,351.3 855.3,353.3 855.3,352.6 855.4,351.2 855.4,355.6 855.5,355.9 855.5,356.4 855.6,357.8 855.6,358.6 855.7,358.2 855.7,359.8 855.8,360.8 855.8,361.0 855.9,359.5 855.9,360.1 856.0,360.8 856.0,362.0 856.1,362.8 856.1,367.2 856.2,368.2 856.2,369.0 856.4,369.7 856.5,368.5 856.7,367.9 856.8,368.8 856.9,371.2 857.1,372.2 857.2,373.0 857.4,375.7 857.5,374.9 857.6,373.0 857.6,374.6 857.7,373.7 857.7,374.0 857.8,370.1 857.8,369.2 857.9,368.1 857.9,366.0 858.0,366.2 858.0,367.9 858.1,363.2 858.1,364.4 858.2,363.5 858.2,363.1 858.3,357.2 858.3,360.1 858.4,364.1 858.4,363.2 858.5,360.8 858.5,356.9 858.6,360.0 858.6,359.8 858.7,357.1 858.8,355.9 858.8,351.6 858.8,349.9 858.8,351.5 858.8,352.0 858.9,352.3 858.9,349.8 858.9,345.9 858.9,345.5 859.0,344.1 859.0,345.8 859.0,346.3 859.0,345.9 859.0,346.3 859.1,342.8 859.1,340.7 859.1,340.9 859.1,339.3 859.2,338.8 859.2,338.6 859.2,336.1 859.2,337.7 859.2,338.5 859.3,339.0 859.3,337.5 859.3,331.3 859.3,329.8 859.4,333.7 859.4,333.1 859.4,334.2 859.4,331.0 859.5,328.9 859.5,329.3 859.5,326.8 859.5,327.0 859.6,326.7 859.6,322.7 859.7,321.3 859.7,321.5 859.8,321.0 859.8,318.2 859.8,317.8 859.9,318.2 859.9,320.2 860.0,320.3 860.0,320.0 860.1,317.1 860.1,315.8 860.2,314.2 860.2,311.5 860.2,314.8 860.3,314.2 860.3,314.4 860.4,312.3 860.4,311.7 860.5,309.1 860.5,308.6 860.5,308.1 860.5,309.4 860.6,308.7 860.6,308.1 860.6,313.0 860.6,314.7 860.6,311.7 860.6,315.5 860.7,315.4 860.7,317.3 860.7,320.4 860.7,323.5 860.7,322.3 860.8,322.3 860.8,322.8 860.8,322.3 860.8,325.2 860.8,326.3 860.9,323.6 860.9,325.6 860.9,324.6 860.9,327.3 860.9,331.5 861.0,331.4 861.0,328.8 861.0,329.5 861.0,330.6 861.0,332.0 861.0,333.9 861.1,335.0 861.1,338.5 861.1,337.5 861.1,338.1 861.1,335.6 861.2,337.1 861.2,338.7 861.2,338.3 861.2,342.0 861.2,339.8 861.2,342.2 861.4,341.3 861.5,341.7 861.7,338.7 861.8,339.5 861.9,339.6 862.1,340.0 862.2,337.4 862.4,334.3 862.5,334.8 862.6,337.2 862.7,336.6 862.8,336.5 862.8,338.1 862.9,338.8 863.0,338.1 863.1,341.7 863.2,344.6 863.2,343.2 863.3,341.3 863.4,342.9 863.5,341.3 863.6,343.6 863.7,345.3 863.8,347.7 863.9,348.2 864.0,348.2 864.1,346.9 864.2,343.2 864.3,343.1 864.4,342.5 864.5,341.2 864.6,339.6 864.7,337.3 864.8,336.8 864.9,340.6 865.0,337.7 865.1,335.7 865.2,337.0 865.3,337.2 865.5,337.9 865.6,337.3 865.7,332.1 865.8,332.3 865.9,332.2 866.0,331.3 866.1,331.8 866.2,328.6 866.5,329.0 866.8,328.1 867.0,329.2 867.2,331.4 867.5,332.7 867.8,333.2 868.1,331.4 868.4,332.7 868.8,329.9 868.8,329.6 868.9,330.4 869.0,332.0 869.1,336.4 869.2,335.2 869.2,336.4 869.3,339.0 869.4,341.7 869.5,340.4 869.6,340.2 869.7,339.9 869.8,340.3 869.8,341.3 869.9,341.2 870.0,343.1 870.1,342.3 870.2,343.1 870.2,346.0 870.3,347.7 870.4,345.2 870.5,348.9 870.6,350.7 870.7,351.3 870.8,352.6 870.8,350.1 870.9,351.0 871.0,352.4 871.1,353.6 871.2,355.7 871.2,358.2 871.3,358.8 871.4,356.3 871.5,355.7 871.6,358.5 871.7,361.1 871.8,360.4 871.9,360.4 872.0,362.2 872.1,364.1 872.1,365.7 872.2,364.3 872.3,363.9 872.4,365.8 872.5,366.7 872.6,371.0 872.8,371.8 872.9,372.9 873.1,371.0 873.2,368.0 873.3,366.3 873.5,367.2 873.6,374.0 873.8,373.9 873.8,372.8 873.9,371.2 874.0,370.2 874.1,369.0 874.2,366.3 874.3,368.6 874.4,368.5 874.5,366.8 874.6,364.9 874.6,366.3 874.7,363.4 874.8,364.6 874.9,366.0 875.0,368.7 875.1,363.2 875.2,363.2 875.3,363.2 875.5,360.9 875.6,359.2 875.7,356.9 875.8,357.4 875.9,358.1 876.0,356.2 876.1,356.3 876.2,354.3 876.4,356.4 876.6,356.9 876.8,356.2 877.0,356.3 877.1,357.0 877.3,359.4 877.5,359.1 877.6,358.1 877.7,358.4 877.8,361.2 877.9,363.7 877.9,365.4 878.0,364.4 878.1,363.0 878.2,364.8 878.3,367.5 878.4,366.1 878.5,365.6 878.6,368.2 878.7,370.7 878.8,370.2 878.9,369.7 879.1,367.0 879.3,368.2 879.5,368.8 879.6,370.7 879.8,367.7 880.0,365.3 880.1,364.3 880.2,364.3 880.3,364.4 880.4,365.9 880.5,369.7 880.6,371.1 880.7,368.8 880.8,373.2 880.9,373.6 881.0,371.7 881.1,370.4 881.2,375.1 881.4,374.5 881.6,373.9 881.7,372.0 881.9,370.6 882.0,369.6 882.2,372.0 882.3,370.1 882.5,368.6 882.6,371.1 882.7,372.4 882.8,372.1 882.9,373.6 882.9,377.1 883.0,376.2 883.1,373.5 883.2,373.6 883.3,375.2 883.4,378.9 883.5,380.6 883.6,379.0 883.7,376.0 883.8,380.7 883.9,380.7 884.0,386.2 884.2,387.1 884.3,385.7 884.4,384.0 884.6,379.3 884.7,385.1 884.9,386.5 885.0,386.9 885.2,386.3 885.5,386.0 885.8,384.0 886.0,384.6 886.2,383.8 886.4,383.1 886.6,383.1 886.7,385.5 886.9,386.3 887.0,387.4 887.2,387.8 887.3,388.4 887.5,389.9 887.8,389.0 888.1,387.2 888.4,389.0 888.8,387.3 888.9,389.8 889.0,388.4 889.2,388.9 889.3,391.8 889.4,392.3 889.6,390.0 889.7,392.4 889.9,392.9 890.0,395.0 890.1,393.1 890.3,394.3 890.4,393.9 890.6,391.5 890.7,390.1 890.8,389.3 891.0,386.8 891.1,386.8 891.2,387.7 891.5,391.7 891.8,391.9 892.0,390.4 892.2,389.3 892.5,391.0 892.6,391.1 892.6,389.0 892.7,387.4 892.8,389.5 892.9,389.8 892.9,386.8 893.0,385.8 893.1,382.5 893.2,381.3 893.2,382.5 893.3,384.0 893.4,383.2 893.5,382.3 893.5,379.6 893.6,378.3 893.7,379.7 893.8,378.4 893.9,377.0 894.0,375.5 894.2,375.0 894.3,375.0 894.4,374.0 894.6,373.2 894.7,370.1 894.9,372.4 895.0,370.3 895.1,371.0 895.2,371.9 895.2,372.3 895.3,373.6 895.4,375.1 895.5,373.3 895.6,374.5 895.7,378.0 895.8,379.1 895.8,379.7 895.9,377.1 896.0,376.4 896.1,378.9 896.2,382.2 896.2,383.0 896.4,384.5 896.6,385.6 896.8,385.7 897.0,382.9 897.1,387.0 897.3,388.2 897.5,387.7 897.8,385.2 898.0,384.8 898.2,383.2 898.5,385.6 898.8,384.4 898.9,384.9 899.1,385.0 899.2,385.6 899.4,387.3 899.5,383.7 899.7,385.4 899.8,386.3 900.0,389.6 900.1,386.5 900.2,386.1 900.2,386.5 900.3,386.1 900.4,380.6 900.5,383.0 900.6,386.5 900.7,385.3 900.8,381.0 900.8,379.7 900.9,378.6 901.0,377.8 901.1,380.2 901.2,380.5 901.2,380.7 901.4,378.2 901.5,376.2 901.6,374.3 901.7,376.1 901.8,377.1 901.9,378.0 902.0,374.3 902.1,374.6 902.2,370.7 902.3,369.6 902.4,367.7 902.5,365.3 902.6,368.2 902.7,365.9 902.8,366.0 902.9,362.9 903.0,364.2 903.1,359.8 903.2,358.5 903.3,360.1 903.4,360.9 903.5,360.4 903.6,358.9 903.8,356.0 903.8,355.3 903.9,357.7 904.0,358.2 904.1,357.5 904.2,354.9 904.2,352.2 904.3,349.1 904.4,353.1 904.5,354.1 904.6,350.1 904.7,344.9 904.8,345.1 904.8,344.7 904.9,346.5 905.0,344.3 905.1,342.7 905.2,342.0 905.3,337.7 905.4,342.2 905.5,341.4 905.6,341.9 905.7,339.3 905.8,336.7 905.9,337.2 906.0,338.3 906.1,339.5 906.2,336.6 906.4,335.7 906.6,334.5 906.7,330.9 906.9,328.3 907.0,329.7 907.2,330.8 907.3,334.4 907.5,329.1 907.6,334.0 907.6,333.4 907.7,331.2 907.8,332.0 907.9,332.7 907.9,333.9 908.0,334.0 908.1,336.1 908.2,335.7 908.2,338.0 908.3,337.6 908.4,337.5 908.5,337.8 908.5,341.3 908.6,338.2 908.7,338.7 908.8,338.6 908.9,341.8 909.0,345.7 909.1,348.7 909.2,347.4 909.3,346.4 909.4,347.1 909.5,348.4 909.6,345.7 909.7,350.1 909.8,351.9 909.9,353.2 910.0,352.7 910.1,348.7 910.1,346.9 910.2,345.0 910.3,347.2 910.3,347.2 910.4,346.5 910.5,344.9 910.6,345.1 910.6,345.3 910.7,342.8 910.8,340.6 910.8,342.1 910.9,338.5 911.0,338.8 911.0,339.7 911.1,338.3 911.2,337.4 911.2,338.9 911.4,336.7 911.6,338.2 911.8,333.6 912.0,333.3 912.1,335.8 912.3,334.1 912.5,331.5 912.8,330.6 913.1,330.4 913.4,331.3 913.8,330.9 913.9,330.7 914.0,327.4 914.2,327.0 914.3,328.0 914.4,324.5 914.6,321.8 914.7,323.9 914.9,323.8 915.0,325.1 915.1,321.8 915.2,320.6 915.3,318.1 915.4,319.6 915.5,319.0 915.6,315.4 915.7,312.9 915.8,313.8 915.9,315.5 916.0,314.6 916.1,316.0 916.2,313.1 916.3,312.0 916.4,309.7 916.5,306.6 916.5,308.2 916.6,309.6 916.7,304.7 916.7,302.3 916.8,305.4 916.9,305.6 916.9,307.3 917.0,306.3 917.1,304.0 917.2,302.2 917.2,302.3 917.3,301.1 917.4,300.2 917.4,298.1 917.5,297.3 917.7,296.8 917.8,299.9 918.0,300.1 918.1,301.4 918.3,301.4 918.4,300.8 918.6,301.3 918.8,303.7 919.0,304.4 919.2,303.8 919.5,302.2 919.8,299.3 920.0,299.8 920.0,299.3 920.1,299.3 920.1,300.8 920.2,302.2 920.2,308.0 920.3,305.9 920.4,306.1 920.4,307.4 920.5,307.4 920.5,310.9 920.5,312.2 920.6,313.2 920.6,309.2 920.7,310.9 920.8,310.2 920.8,312.2 920.9,314.2 920.9,315.3 921.0,316.3 921.0,317.4 921.1,319.4 921.1,320.7 921.2,320.6 921.2,319.5 921.3,320.1 921.4,323.3 921.4,324.4 921.5,323.8 921.5,325.4 921.6,327.9 921.6,323.5 921.7,321.1 921.8,327.6 921.8,329.5 921.9,326.8 922.0,326.8 922.1,331.8 922.2,331.3 922.2,330.2 922.3,333.5 922.4,333.7 922.5,335.0 922.6,335.7 922.7,336.5 922.8,337.5 922.8,337.5 922.9,339.5 923.0,340.8 923.1,340.6 923.2,339.3 923.3,339.3 923.4,339.3 923.4,342.0 923.5,343.9 923.6,346.6 923.7,348.3 923.8,346.3 923.9,347.2 924.0,349.2 924.1,349.3 924.2,350.4 924.2,351.2 924.7,349.4 925.1,350.1 925.5,350.3 925.7,354.0 925.8,355.0 926.0,353.9 926.1,352.2 926.3,355.0 926.4,353.3 926.6,354.7 926.8,355.3 926.9,358.0 927.0,355.6 927.2,357.6 927.3,359.1 927.4,363.2 927.6,364.4 927.7,363.5 927.9,363.2 928.0,363.7 928.3,363.6 928.6,363.1 928.9,364.5 929.2,366.1 929.3,364.6 929.4,361.3 929.5,360.7 929.5,361.5 929.6,361.9 929.7,360.6 929.8,356.2 929.8,356.2 929.9,360.3 930.0,358.4 930.1,358.1 930.1,359.3 930.2,358.6 930.3,353.0 930.4,351.8 930.4,352.0 930.5,352.3 930.6,351.8 930.8,353.3 930.9,353.7 931.1,357.0 931.2,359.5 931.3,357.0 931.5,355.9 931.6,358.1 931.8,359.9" stroke="#ff7a0a" stroke-width="1.5"/>
<path d="M5.2,412.8 5.5,412.0 5.8,412.3 6.0,413.0 6.2,410.2 6.7,409.0 7.1,408.5 7.5,407.4 7.8,404.3 8.0,405.9 8.2,406.3 8.5,406.8 8.8,403.4 9.0,405.7 9.2,404.7 9.5,401.7 9.8,400.6 10.0,400.5 10.2,398.4 10.5,400.1 10.8,401.6 11.0,398.4 11.2,398.6 11.4,398.2 11.6,397.9 11.8,397.6 12.0,398.2 12.1,394.4 12.3,393.5 12.5,392.5 13.0,393.1 13.5,395.2 13.6,398.0 13.7,396.9 13.8,396.2 13.9,395.0 14.0,396.6 14.1,395.7 14.2,398.3 14.3,398.8 14.4,400.2 14.5,399.1 14.7,399.3 14.8,396.7 15.0,394.7 15.1,396.0 15.2,394.4 15.8,395.7 16.2,394.6 16.9,394.7 17.5,395.8 17.9,394.6 18.3,396.3 18.8,395.8 19.2,396.7 19.6,397.2 20.0,394.3 20.4,394.4 20.8,396.7 21.2,395.2 21.9,393.7 22.5,393.1 22.9,394.3 23.4,393.6 23.4,393.2 23.4,393.1 23.5,394.8 23.5,395.1 23.5,396.8 23.5,399.0 23.6,400.1 23.6,403.4 23.6,406.9 23.6,404.8 23.7,402.7 23.7,405.5 23.7,406.9 23.7,405.4 23.8,405.8 23.8,403.6 23.9,406.7 23.9,406.1 24.0,405.0 24.0,402.8 24.1,401.6 24.1,402.5 24.2,401.5 24.2,400.6 24.3,396.3 24.3,396.8 24.4,396.7 24.8,396.8 25.2,395.4 25.6,393.8 26.0,395.7 26.5,395.7 26.9,393.5 27.3,391.7 27.7,392.5 28.1,392.3 28.3,391.5 28.5,390.7 28.6,391.2 28.8,388.6 29.0,386.7 29.0,386.1 28.9,386.3 28.9,386.7 28.9,383.8 28.9,384.4 28.8,385.3 28.8,382.7 28.8,383.5 28.8,381.5 28.9,378.6 29.0,377.4 29.2,377.7 29.3,377.4 29.4,376.7 29.6,376.6 29.7,374.2 29.9,374.8 30.0,372.6 30.1,372.0 30.3,371.0 30.4,371.9 30.6,372.3 30.7,369.3 30.8,368.0 31.0,367.2 31.1,365.3 31.2,365.8 31.6,364.6 31.9,363.6 32.2,363.2 32.5,360.8 32.7,360.1 32.9,360.3 33.0,361.4 33.2,358.9 33.4,360.2 33.6,360.0 33.8,360.5 33.9,358.2 34.0,357.8 34.1,357.7 34.2,356.2 34.3,354.2 34.4,353.3 34.5,351.7 34.6,351.7 34.7,350.1 34.8,351.3 34.9,351.2 35.0,349.9 35.1,347.6 35.2,345.8 35.2,343.2 35.3,343.2 35.4,346.2 35.5,345.6 35.6,344.3 35.7,340.9 35.8,342.2 35.8,340.6 35.9,337.2 36.0,336.8 36.1,334.6 36.2,339.3 36.2,339.4 36.4,335.7 36.5,335.4 36.6,332.6 36.7,333.2 36.8,332.0 36.9,331.9 37.0,330.1 37.1,326.3 37.2,327.1 37.3,324.3 37.4,326.0 37.5,324.8 37.6,325.5 37.8,325.7 37.9,324.1 38.1,322.8 38.2,322.4 38.3,320.0 38.5,320.9 38.6,320.2 38.8,316.6 38.8,315.6 38.9,317.5 38.9,317.8 39.0,315.8 39.0,312.7 39.0,311.3 39.1,308.5 39.1,307.5 39.2,309.1 39.2,307.3 39.3,308.8 39.4,310.5 39.4,307.0 39.5,308.6 39.5,304.3 39.5,301.5 39.6,301.2 39.6,302.6 39.6,302.0 39.7,303.8 39.7,299.2 39.7,298.2 39.8,294.4 39.8,295.4 39.8,299.0 39.9,297.2 39.9,301.6 39.9,296.7 40.0,294.4 40.0,290.0 40.1,289.7 40.2,288.3 40.4,289.8 40.5,289.0 40.6,291.3 40.7,291.5 40.8,289.0 40.9,289.1 41.0,286.5 41.2,285.2 41.3,285.3 41.4,285.6 41.5,279.9 41.6,281.5 41.8,284.6 41.8,278.5 41.9,278.4 42.0,277.1 42.1,278.5 42.2,278.9 42.2,277.6 42.3,276.3 42.4,275.7 42.5,275.1 42.6,272.5 42.7,268.0 42.8,266.8 42.8,266.8 42.9,266.9 43.0,265.9 43.1,266.6 43.2,263.6 43.3,264.6 43.4,262.9 43.4,262.4 43.5,261.4 43.6,260.9 43.7,261.5 43.8,260.7 43.9,260.3 44.0,259.1 44.1,257.3 44.2,257.0 44.2,256.2 44.7,256.4 45.1,256.7 45.5,258.0 45.5,258.8 45.6,259.9 45.6,259.9 45.7,260.6 45.8,262.5 45.8,259.9 45.9,258.8 45.9,264.7 46.0,270.0 46.0,269.3 46.0,268.2 46.1,268.5 46.1,267.3 46.2,269.9 46.2,267.8 46.3,269.3 46.3,272.0 46.4,271.7 46.4,273.6 46.4,277.5 46.5,279.5 46.5,277.3 46.5,276.9 46.6,276.8 46.6,276.0 46.6,275.6 46.7,277.6 46.7,282.8 46.8,284.6 46.8,283.2 46.8,282.3 46.9,280.4 46.9,284.9 46.9,287.3 47.0,283.9 47.0,287.0 47.0,288.2 47.1,288.2 47.1,288.2 47.2,286.3 47.2,284.3 47.2,281.4 47.3,281.7 47.3,277.7 47.4,275.3 47.4,277.1 47.5,275.5 47.5,275.2 47.5,275.2 47.6,273.8 47.6,272.0 47.7,269.6 47.7,271.0 47.8,271.4 47.8,273.3 47.8,274.1 47.9,274.1 47.9,269.6 48.0,267.6 48.0,267.3 48.2,266.8 48.4,269.0 48.5,270.0 48.7,271.7 48.9,271.7 49.1,271.0 49.2,270.8 49.3,271.8 49.4,273.2 49.4,273.9 49.5,274.1 49.5,275.2 49.5,275.8 49.6,276.7 49.6,278.6 49.7,283.1 49.8,283.3 49.8,281.7 49.9,285.2 49.9,285.4 50.0,285.1 50.0,284.2 50.0,284.4 50.1,287.1 50.1,286.1 50.1,287.8 50.2,289.0 50.2,287.7 50.2,288.2 50.3,289.2 50.3,291.4 50.3,294.3 50.4,296.5 50.4,299.6 50.4,297.3 50.5,297.2 50.5,300.2 50.5,299.3 50.6,302.3 50.6,300.4 50.6,300.2 50.7,301.8 50.7,304.2 50.8,303.2 50.8,301.8 50.9,298.4 51.0,300.0 51.1,297.2 51.2,298.2 51.3,295.7 51.4,295.0 51.5,296.5 51.6,297.4 51.7,295.3 51.8,295.1 51.9,292.6 52.0,293.8 52.1,294.6 52.2,294.2 52.3,290.2 52.4,291.3 52.5,291.4 52.6,289.9 52.7,286.6 52.8,286.5 52.9,284.5 53.0,281.8 53.3,283.0 53.6,285.7 53.9,283.0 54.2,280.4 54.4,282.0 54.6,281.3 54.8,281.2 55.0,279.1 55.1,278.9 55.3,280.7 55.5,279.5 55.7,278.2 55.9,272.8 56.0,271.8 56.2,271.8 56.4,276.4 56.6,274.7 56.8,271.5 57.1,270.7 57.4,269.3 57.7,269.3 58.0,268.7 58.3,266.8 58.6,270.7 58.9,270.2 59.2,268.2 59.3,271.2 59.4,271.5 59.5,271.7 59.6,266.8 59.7,268.2 59.8,272.2 59.8,270.0 59.9,268.1 60.0,274.8 60.4,273.7 60.8,274.3 61.2,274.3 61.4,273.9 61.6,273.6 61.8,275.3 62.0,276.8 62.1,277.9 62.3,277.6 62.5,278.9 62.9,278.7 63.3,280.6 63.8,280.7 64.1,277.0 64.4,277.1 64.7,277.3 65.0,277.1 65.3,277.8 65.6,277.1 65.9,280.7 66.2,280.7 66.7,280.7 67.1,280.3 67.5,277.9 67.6,278.0 67.8,277.3 67.9,280.2 68.1,279.2 68.2,281.2 68.3,282.1 68.5,284.8 68.6,284.6 68.8,284.9 68.9,284.5 69.1,284.3 69.3,285.2 69.5,285.1 69.6,287.2 69.8,290.6 70.0,292.6 70.3,292.9 70.6,291.4 70.9,293.2 71.2,293.2 71.6,293.8 71.9,294.9 72.2,292.5 72.5,295.0 72.8,296.3 73.1,296.9 73.4,297.8 73.8,297.7 74.1,294.3 74.4,295.6 74.7,297.0 75.0,295.1 75.1,296.0 75.2,297.1 75.3,294.3 75.5,297.1 75.6,298.9 75.7,297.7 75.8,297.8 75.9,299.8 76.0,300.0 76.1,303.1 76.2,303.9 76.3,297.5 76.4,299.2 76.5,299.4 76.6,299.2 76.7,299.2 76.8,297.7 76.9,297.2 77.0,298.3 77.1,298.2 77.1,299.3 77.2,296.4 77.3,295.5 77.4,291.8 77.5,293.0 77.8,292.6 78.1,289.6 78.4,290.0 78.8,290.3 79.1,290.3 79.4,291.6 79.7,293.2 80.0,291.7 80.3,292.5 80.6,293.3 80.9,292.5 81.2,294.3 81.6,293.4 81.9,292.0 82.2,292.7 82.5,292.3 82.7,291.8 82.9,291.8 83.0,296.1 83.2,297.5 83.4,295.4 83.6,298.2 83.8,295.9 84.1,296.8 84.4,300.7 84.7,300.7 85.0,302.0 85.1,299.9 85.3,302.8 85.4,304.6 85.6,304.1 85.7,303.1 85.8,301.6 86.0,303.8 86.1,303.4 86.2,306.5 86.5,306.8 86.8,310.5 87.0,311.6 87.2,311.9 87.5,312.9 87.8,310.7 88.1,310.6 88.4,314.4 88.8,315.5 89.1,315.1 89.4,314.9 89.7,314.1 90.0,314.7 90.1,316.1 90.1,318.0 90.2,316.8 90.2,317.7 90.3,316.6 90.3,317.3 90.4,318.6 90.4,319.9 90.5,321.6 90.5,321.7 90.6,325.9 90.6,326.8 90.7,328.2 90.8,327.7 90.8,328.2 90.9,327.2 91.0,324.4 91.1,321.3 91.2,320.8 91.2,321.9 91.3,319.2 91.4,318.9 91.5,321.8 91.6,324.2 91.7,318.9 91.8,317.8 91.9,314.3 92.0,315.2 92.2,315.6 92.3,314.7 92.4,315.1 92.6,313.2 92.7,309.3 92.9,310.9 93.0,308.2 93.1,309.3 93.2,308.4 93.3,308.8 93.4,306.8 93.5,305.5 93.6,305.2 93.7,304.6 93.8,303.6 93.8,305.3 93.9,304.9 94.0,305.2 94.0,305.4 94.1,306.8 94.2,310.9 94.2,311.7 94.3,310.9 94.4,309.5 94.4,311.7 94.5,312.2 94.7,309.4 94.8,307.9 95.0,309.0 95.2,310.5 95.3,310.6 95.5,307.4 95.6,306.8 95.7,311.1 95.8,312.2 95.9,309.3 96.0,311.5 96.1,312.1 96.2,312.8 96.3,314.6 96.4,315.4 96.5,316.3 96.6,318.2 96.8,317.7 97.1,316.9 97.4,315.4 97.7,318.2 98.0,316.5 98.3,314.7 98.6,314.4 98.9,314.7 99.2,316.6 99.6,315.9 99.9,317.5 100.2,314.7 100.5,314.8 100.9,314.7 101.3,315.6 101.8,316.3 102.1,316.9 102.4,316.7 102.7,314.1 103.0,315.3 103.4,313.1 103.8,311.8 104.2,310.0 104.4,311.6 104.6,311.6 104.7,312.6 104.9,312.9 105.0,310.8 105.2,308.2 105.3,306.2 105.5,305.8 105.7,303.7 105.9,303.8 106.0,302.9 106.2,300.6 106.4,300.6 106.6,300.6 106.8,301.5 106.9,301.3 107.1,298.7 107.3,299.3 107.5,298.4 107.6,298.3 107.8,299.9 108.0,298.5 108.2,293.9 108.5,294.8 108.8,291.8 109.0,292.0 109.2,293.8 109.5,291.4 109.8,288.1 110.0,290.0 110.2,289.1 110.5,288.6 110.8,289.9 111.1,289.7 111.4,290.1 111.8,290.9 112.0,290.6 112.2,291.4 112.5,293.6 112.8,295.0 113.0,297.6 113.3,296.8 113.6,296.1 113.9,294.7 114.2,297.2 114.3,298.6 114.4,300.9 114.5,302.1 114.6,303.5 114.7,304.4 114.8,304.4 114.9,304.4 115.0,303.9 115.1,298.1 115.3,299.2 115.4,298.3 115.6,298.5 115.7,299.9 115.8,297.9 116.0,300.6 116.1,299.8 116.2,296.8 116.4,298.6 116.6,298.6 116.8,298.2 117.0,299.4 117.1,299.1 117.3,300.8 117.5,301.2 117.8,300.9 118.0,299.0 118.2,299.9 118.5,299.3 118.8,298.8 119.1,296.9 119.4,295.7 119.7,294.7 120.0,293.9 120.3,294.1 120.6,292.6 120.9,294.3 121.2,293.2 121.7,294.1 122.1,294.4 122.5,294.4 122.9,294.0 123.3,294.0 123.8,293.9 124.1,294.7 124.4,294.8 124.7,295.5 125.0,295.7 125.4,294.9 125.8,294.7 126.2,293.5 126.6,294.7 126.9,295.9 127.2,294.4 127.5,295.2 127.9,294.8 128.3,295.8 128.8,294.3 129.1,295.3 129.4,296.2 129.7,298.0 130.0,297.8 130.4,297.1 130.8,296.0 131.2,295.6 131.6,296.0 131.9,295.8 132.2,299.2 132.5,299.4 132.9,299.4 133.3,298.5 133.8,297.9 134.0,298.5 134.2,297.2 134.5,296.8 134.8,300.5 135.0,303.4 135.2,302.5 135.5,300.6 135.8,302.3 136.0,303.7 136.2,305.9 136.5,304.9 136.8,304.9 137.0,304.3 137.2,305.1 137.5,308.7 137.8,308.9 138.1,307.8 138.4,306.1 138.8,305.6 139.1,305.6 139.4,306.4 139.7,309.4 140.0,309.4 140.4,309.4 140.8,309.3 141.2,310.7 141.6,310.7 141.9,310.7 142.2,310.7 142.5,310.2 142.9,309.1 143.3,309.0 143.8,308.1 144.1,308.8 144.4,310.7 144.7,311.9 145.0,311.9 145.4,311.7 145.8,310.4 146.2,310.0 146.5,314.4 146.8,312.2 147.0,312.9 147.2,312.1 147.5,313.3 147.8,311.2 148.1,312.9 148.4,312.8 148.8,311.1 148.8,310.6 148.9,310.9 148.9,313.2 149.0,316.6 149.0,316.6 149.1,316.2 149.1,317.0 149.2,317.0 149.2,317.4 149.3,314.5 149.3,316.7 149.4,320.1 149.4,322.7 149.5,322.6 149.7,321.1 149.9,319.8 150.0,317.0 150.2,316.8 150.4,317.6 150.6,316.8 150.8,317.3 150.9,316.8 151.1,319.9 151.3,319.9 151.5,321.3 151.6,320.2 151.8,320.6 152.0,322.5 152.2,323.3 152.4,324.7 152.5,324.8 152.7,324.9 152.9,324.1 153.1,325.2 153.2,326.8 153.4,327.8 153.5,327.7 153.7,329.2 153.8,329.0 153.9,330.8 154.1,332.8 154.2,334.8 154.4,335.1 154.5,335.2 154.7,335.7 154.9,329.3 155.0,329.3 155.2,331.5 155.4,330.8 155.6,329.3 155.8,330.3 155.9,330.7 156.1,330.7 156.3,329.2 156.5,329.1 156.6,324.3 156.8,324.3 157.0,326.3 157.3,323.8 157.6,323.2 157.9,322.8 158.2,323.5 158.6,323.8 158.9,322.7 159.2,324.1 159.5,323.8 159.8,325.2 160.1,327.0 160.4,325.0 160.8,327.2 161.1,326.8 161.4,329.7 161.7,327.6 162.0,328.7 162.2,329.3 162.4,329.3 162.5,332.2 162.7,333.8 162.9,334.9 163.1,335.7 163.2,335.0 163.6,333.7 163.9,333.2 164.2,332.1 164.5,330.5 164.8,331.3 165.1,331.2 165.4,331.9 165.8,329.3 165.9,330.5 166.1,328.4 166.3,327.9 166.5,328.6 166.6,328.2 166.8,327.7 167.0,323.8 167.1,323.6 167.2,321.2 167.2,321.6 167.3,318.6 167.4,318.9 167.5,319.7 167.6,317.5 167.7,316.8 167.8,317.3 167.9,316.8 168.0,318.9 168.1,322.4 168.2,324.4 168.3,322.7 168.4,321.5 168.5,322.2 168.6,325.7 168.8,327.8 169.1,328.2 169.4,326.8 169.7,325.5 170.0,324.3 170.3,324.3 170.6,327.8 170.9,326.6 171.2,325.4 171.6,325.8 171.9,327.9 172.2,328.2 172.5,327.7 172.9,325.6 173.3,326.2 173.8,326.2 174.2,324.6 174.6,325.0 175.0,324.8 175.2,324.3 175.5,327.5 175.8,328.5 176.0,325.5 176.2,328.6 176.7,328.9 177.1,327.7 177.5,327.5 177.8,327.4 178.0,326.8 178.2,328.4 178.5,331.9 178.8,331.4 179.2,331.0 179.6,331.2 180.0,330.2 180.1,331.4 180.3,331.0 180.4,331.3 180.6,330.4 180.7,332.0 180.8,334.6 181.0,337.3 181.1,338.2 181.2,337.7 181.5,335.7 181.8,335.8 182.0,334.8 182.2,333.1 182.5,333.6 182.9,333.2 183.3,333.1 183.8,334.8 184.1,334.3 184.4,334.3 184.7,337.0 185.0,336.7 185.2,340.9 185.4,340.6 185.5,341.4 185.7,339.8 185.9,341.1 186.1,341.7 186.2,338.7 186.4,341.8 186.5,342.4 186.7,344.3 186.8,346.7 186.9,345.7 187.1,346.0 187.2,347.5 187.4,348.2 187.5,350.2 187.6,350.7 187.6,353.1 187.7,354.6 187.7,355.4 187.8,356.1 187.8,355.7 187.8,355.3 187.9,356.1 187.9,359.5 188.0,359.1 188.1,361.1 188.1,360.6 188.2,363.2 188.2,363.1 188.2,361.1 188.3,361.8 188.4,363.9 188.4,366.4 188.5,367.7 188.5,365.5 188.6,366.0 188.6,370.2 188.7,371.5 188.7,370.1 188.8,370.8 188.8,372.0 188.9,370.7 188.9,373.3 189.0,373.4 189.1,369.6 189.1,369.5 189.2,370.9 189.3,373.7 189.4,372.0 189.4,372.6 189.5,368.0 189.6,370.2 189.6,368.8 189.7,366.6 189.8,367.6 189.9,366.4 189.9,365.9 190.0,365.1 190.1,362.2 190.3,360.6 190.4,359.1 190.6,359.6 190.7,361.4 190.8,358.2 191.0,357.9 191.1,354.3 191.2,352.6 191.4,351.9 191.6,351.5 191.8,352.3 192.0,350.9 192.1,351.3 192.3,350.9 192.5,349.4 192.6,346.3 192.7,346.4 192.8,345.3 192.9,344.8 193.0,346.3 193.1,345.9 193.2,347.4 193.2,343.9 193.3,345.1 193.4,345.8 193.4,347.2 193.5,346.8 193.5,347.1 193.6,349.6 193.7,350.0 193.7,351.7 193.8,353.6 193.8,353.1 193.9,351.5 194.0,349.9 194.0,357.6 194.1,356.9 194.1,357.6 194.2,357.5 194.2,357.6 194.4,360.3 194.6,363.2 194.8,360.9 195.0,359.6 195.1,361.5 195.3,363.2 195.5,362.7 195.7,363.0 195.9,361.8 196.0,358.3 196.2,358.2 196.4,360.1 196.6,359.8 196.8,357.5 197.1,358.8 197.4,360.7 197.7,358.6 198.0,359.4 198.1,354.6 198.3,358.4 198.4,358.5 198.6,356.9 198.7,354.4 198.8,353.1 199.0,354.3 199.1,357.0 199.2,352.3 199.6,351.8 199.9,351.0 200.2,350.2 200.5,350.3 200.7,351.0 200.9,349.6 201.0,351.3 201.2,352.0 201.4,352.2 201.6,355.2 201.8,355.0 202.1,353.2 202.4,353.4 202.7,353.4 203.0,350.6 203.2,351.3 203.4,349.5 203.5,349.7 203.7,346.8 203.9,346.8 204.1,348.6 204.2,347.5 204.5,346.3 204.8,345.6 205.0,345.5 205.2,344.1 205.5,343.6 205.9,343.6 206.3,345.0 206.8,344.7 207.0,345.2 207.2,343.7 207.5,340.6 207.8,341.8 208.0,341.8 208.4,343.2 208.8,343.2 209.2,341.6 209.5,343.3 209.8,344.3 210.0,345.4 210.2,344.4 210.5,348.2 210.7,351.5 210.9,350.6 211.0,350.6 211.2,350.7 211.4,351.1 211.6,349.3 211.8,350.8 212.2,349.5 212.6,350.4 213.0,349.3 213.3,352.1 213.6,352.4 213.9,350.8 214.2,352.3 214.6,349.3 214.9,349.3 215.2,349.3 215.5,349.3 215.8,349.3 216.1,350.5 216.4,350.9 216.8,352.6 217.1,352.4 217.4,352.4 217.7,354.3 218.0,355.5 218.3,354.9 218.6,358.2 218.9,358.2 219.2,361.9 219.5,360.6 219.8,359.5 220.0,358.2 220.2,360.3 220.5,361.4 220.8,361.9 221.0,359.4 221.2,358.9 221.5,358.2 221.8,357.9 222.1,360.7 222.4,358.1 222.7,359.3 223.0,359.9 223.2,358.8 223.4,356.8 223.5,357.8 223.7,355.8 223.9,357.1 224.1,357.4 224.2,355.5 224.6,357.0 224.9,356.9 225.2,355.3 225.5,357.0 225.8,355.1 226.0,355.5 226.2,353.7 226.5,353.9 226.8,353.9 227.1,355.9 227.4,355.6 227.7,356.1 228.0,356.9 228.3,356.6 228.6,354.9 228.9,354.7 229.2,353.3 229.7,353.1 230.1,353.1 230.5,352.9 230.8,354.4 231.1,354.4 231.4,353.5 231.8,352.0 232.1,354.5 232.4,352.1 232.7,353.5 233.0,353.2 233.4,354.0 233.8,353.7 234.2,353.1 234.6,353.1 234.9,353.1 235.2,354.1 235.5,355.9 235.9,356.7 236.3,357.5 236.8,357.1 237.2,357.3 237.6,357.7 238.0,358.7 238.4,358.3 238.8,358.1 239.2,358.6 239.6,356.8 239.9,356.8 240.2,356.8 240.5,357.2 240.9,355.6 241.3,357.0 241.8,357.6 242.0,356.9 242.2,355.3 242.5,352.0 242.8,351.8 243.0,350.6 243.4,351.2 243.8,350.6 244.2,352.2 244.7,352.6 245.1,353.2 245.5,353.2 245.8,353.2 246.1,353.0 246.4,353.2 246.8,351.1 247.1,349.8 247.4,349.5 247.7,349.9 248.0,345.0 248.3,345.7 248.6,345.7 248.9,344.6 249.2,345.4 249.7,345.4 250.1,345.7 250.5,345.8 250.8,344.7 251.0,343.4 251.2,344.5 251.5,344.7 251.8,341.2 252.0,343.2 252.2,341.2 252.5,343.0 252.8,342.5 253.0,338.8 253.2,341.0 253.4,340.3 253.5,340.7 253.7,342.0 253.9,341.0 254.1,340.6 254.2,342.5 254.7,344.0 255.1,345.4 255.5,345.6 255.7,344.9 255.8,342.2 256.0,342.1 256.4,343.0 256.8,341.9 257.2,342.0 257.7,341.7 258.1,343.2 258.5,342.3 258.9,343.2 259.3,342.9 259.8,343.5 260.2,343.1 260.6,343.1 261.0,343.1 261.3,344.3 261.6,348.2 261.9,348.2 262.2,347.1 262.6,348.2 262.9,350.7 263.2,350.7 263.5,350.3 263.8,351.8 264.1,350.7 264.4,353.2 264.8,351.0 264.9,352.8 265.1,351.8 265.2,353.8 265.4,356.6 265.5,358.2 265.7,358.8 265.8,359.4 266.0,358.6 266.4,358.3 266.8,357.9 267.2,355.6 267.6,357.7 267.9,358.2 268.2,356.4 268.5,354.3 268.9,354.3 269.3,356.0 269.8,356.7 270.1,355.4 270.4,353.4 270.7,355.0 271.0,353.8 271.4,354.2 271.8,352.9 272.2,353.6 272.6,355.6 272.9,355.4 273.2,354.9 273.5,355.5 273.9,354.6 274.3,353.1 274.8,353.1 275.2,353.9 275.6,355.6 276.0,354.6 276.4,354.3 276.8,353.7 277.2,353.0 277.7,354.4 278.1,354.0 278.5,353.2 278.9,354.0 279.3,354.3 279.8,354.2 280.2,353.8 280.6,352.9 281.0,351.8 281.4,351.9 281.8,352.2 282.2,351.4 282.7,351.1 283.1,349.9 283.5,350.4 283.8,346.8 284.1,347.9 284.4,346.8 284.8,347.1 285.1,348.2 285.4,347.7 285.7,345.3 286.0,345.2 286.4,343.9 286.8,344.2 287.2,343.8 287.7,343.5 288.1,341.8 288.5,342.1 288.7,338.5 288.9,339.7 289.0,338.0 289.2,340.3 289.4,339.5 289.6,339.6 289.8,337.3 289.9,337.8 290.1,335.8 290.3,332.2 290.5,333.3 290.6,331.8 290.8,335.4 291.0,334.5 291.1,332.7 291.3,332.1 291.4,332.9 291.6,332.4 291.7,331.6 291.8,325.9 292.0,326.6 292.1,324.3 292.2,326.6 292.4,325.2 292.6,325.7 292.8,325.7 293.0,323.9 293.1,319.3 293.3,320.1 293.5,319.8 293.6,321.2 293.7,319.6 293.8,322.2 293.9,324.1 294.0,326.3 294.1,327.1 294.2,326.5 294.3,326.4 294.4,323.7 294.5,326.4 294.6,328.0 294.8,330.8 294.9,329.3 295.1,330.1 295.3,329.4 295.5,332.1 295.6,333.4 295.8,335.7 296.0,334.8 296.3,334.9 296.6,335.7 296.9,332.4 297.2,331.8 297.6,333.2 297.9,335.7 298.2,335.1 298.5,333.4 298.8,333.0 299.1,334.1 299.4,335.7 299.8,332.0 300.1,329.3 300.4,331.3 300.7,332.7 301.0,332.5 301.3,328.3 301.6,328.7 301.9,327.8 302.2,324.3 302.6,327.6 302.9,324.6 303.2,325.9 303.5,327.3 303.7,324.2 303.9,322.4 304.0,322.0 304.2,321.4 304.4,321.9 304.6,321.1 304.8,319.8 304.9,317.7 305.1,316.7 305.3,314.3 305.5,315.9 305.6,316.4 305.8,316.2 306.0,314.8 306.2,314.8 306.4,314.2 306.5,314.0 306.7,313.8 306.9,309.7 307.1,309.3 307.2,310.2 307.6,313.2 307.9,313.2 308.2,312.1 308.5,312.8 308.9,314.2 309.3,313.2 309.8,314.2 310.2,314.9 310.6,315.7 311.0,315.8 311.4,316.9 311.8,315.9 312.2,316.9 312.7,315.6 313.1,315.2 313.5,316.2 313.8,316.0 314.1,318.1 314.4,315.8 314.8,318.0 315.1,316.3 315.4,314.3 315.7,314.3 316.0,314.8 316.2,314.3 316.4,317.6 316.5,317.7 316.7,318.3 316.9,319.5 317.1,319.9 317.2,320.1 317.7,319.6 318.1,319.9 318.5,318.6 318.8,321.5 319.0,320.9 319.2,323.2 319.5,322.4 319.8,322.3 320.1,322.2 320.4,320.8 320.7,320.6 321.0,320.1 321.2,321.4 321.4,322.1 321.5,322.9 321.7,322.7 321.9,325.3 322.1,325.7 322.2,325.2 322.7,325.7 323.1,324.8 323.5,323.6 323.8,326.4 324.0,326.7 324.2,325.4 324.5,327.4 324.8,327.3 325.1,326.3 325.4,327.8 325.7,327.9 326.0,328.2 326.3,325.7 326.6,324.8 326.9,324.3 327.2,320.7 327.6,320.8 327.9,319.3 328.2,319.3 328.5,318.6 328.9,318.7 329.3,318.1 329.8,318.3 330.2,317.6 330.6,318.8 331.0,317.6 331.4,318.2 331.8,318.2 332.2,318.2 332.7,317.4 333.1,317.7 333.5,317.9 333.9,317.0 334.3,318.4 334.8,317.8 335.2,318.3 335.6,319.0 336.0,318.6 336.4,319.9 336.8,320.9 337.2,321.5 337.7,320.4 338.1,320.0 338.5,320.6 338.9,321.9 339.3,321.9 339.8,321.9 340.2,319.9 340.6,321.0 341.0,319.9 341.6,320.1 342.2,320.1 342.7,320.3 343.1,320.7 343.5,319.4 343.9,320.2 344.3,319.9 344.8,318.5 345.2,318.1 345.6,319.7 346.0,320.0 346.6,319.4 347.2,319.0 347.7,317.3 348.1,316.8 348.5,316.8 348.9,316.8 349.3,318.5 349.8,318.9 350.0,319.4 350.2,319.0 350.5,318.2 350.8,315.6 351.0,315.1 351.4,314.4 351.8,313.8 352.2,314.8 352.7,315.3 353.1,313.2 353.5,314.1 353.9,313.1 354.3,313.1 354.8,313.1 355.2,313.1 355.6,313.1 356.0,313.7 356.4,314.1 356.8,313.1 357.2,315.0 357.7,315.7 358.1,315.7 358.5,315.7 358.9,314.9 359.3,315.4 359.8,315.7 360.2,315.7 360.6,315.7 361.0,316.9 361.4,316.3 361.8,316.4 362.2,316.9 362.7,316.9 363.1,316.8 363.5,315.6 363.7,311.9 363.9,313.1 364.0,312.7 364.2,313.9 364.4,311.3 364.6,310.8 364.8,310.0 364.9,309.2 365.1,306.5 365.3,306.1 365.5,305.4 365.6,304.7 365.8,305.9 366.0,306.1 366.2,305.7 366.4,304.8 366.5,302.7 366.7,302.4 366.9,301.1 367.1,302.1 367.2,298.1 367.4,298.7 367.6,299.5 367.8,298.6 368.0,294.5 368.1,294.3 368.3,294.9 368.5,296.2 368.7,294.3 368.9,291.6 369.0,294.0 369.2,293.8 369.4,290.3 369.6,289.5 369.8,288.3 369.9,286.2 370.1,287.1 370.3,287.9 370.5,288.0 370.6,288.5 370.8,288.5 371.0,289.7 371.1,285.1 371.2,283.3 371.3,283.2 371.4,284.7 371.5,282.7 371.6,281.7 371.7,281.7 371.8,280.1 371.9,274.6 372.1,274.9 372.4,278.1 372.6,275.3 372.8,275.0 372.8,275.5 372.9,280.9 372.9,278.5 373.0,278.0 373.1,279.1 373.1,282.5 373.2,276.1 373.2,277.9 373.3,283.0 373.4,283.9 373.4,285.7 373.5,284.3 373.8,284.3 374.0,286.4 374.2,289.4 374.5,289.4 374.8,289.9 375.0,290.5 375.2,289.6 375.5,290.7 375.8,291.9 376.0,292.0 376.3,291.5 376.6,289.3 376.9,289.3 377.2,290.6 377.5,294.4 377.8,291.9 378.0,292.2 378.2,294.2 378.5,293.6 378.8,291.9 379.1,290.6 379.4,290.6 379.8,290.0 380.1,289.0 380.4,289.8 380.7,288.2 381.0,288.1 381.4,289.4 381.8,289.8 382.2,290.6 382.7,290.0 383.1,290.1 383.5,291.1 383.9,291.9 384.3,292.4 384.8,291.9 385.2,291.2 385.6,291.5 386.0,291.8 386.2,291.9 386.5,292.5 386.8,295.0 387.0,294.4 387.2,295.6 387.4,296.3 387.6,297.2 387.7,296.2 387.9,298.9 388.0,301.1 388.2,300.7 388.3,299.8 388.5,301.2 388.9,300.3 389.3,299.9 389.8,298.6 390.2,298.1 390.6,298.5 391.0,298.5 391.4,298.8 391.8,298.9 392.2,298.8 392.7,299.8 393.1,299.7 393.5,300.0 393.9,298.2 394.3,299.1 394.8,298.7 395.1,297.4 395.4,297.0 395.7,296.8 396.0,296.8 396.4,298.6 396.8,298.8 397.2,298.7 397.7,299.4 398.1,299.4 398.5,299.0 398.9,297.7 399.3,297.1 399.8,294.2 400.1,294.4 400.4,296.2 400.7,296.5 401.0,294.3 401.4,294.4 401.8,294.2 402.2,295.4 402.7,295.2 403.1,296.3 403.5,295.9 403.9,295.4 404.3,294.5 404.8,294.4 405.2,294.9 405.6,296.8 406.0,296.9 406.4,296.7 406.8,295.5 407.2,295.4 407.7,294.7 408.1,295.1 408.5,295.3 408.9,294.3 409.3,295.2 409.8,295.2 410.2,294.4 410.6,294.3 411.0,293.3 411.4,293.1 411.8,293.1 412.2,294.0 412.6,294.0 412.9,295.6 413.2,294.1 413.5,293.5 413.9,292.6 414.3,292.8 414.8,292.9 415.1,293.7 415.4,292.6 415.7,290.6 416.0,290.8 416.4,291.9 416.8,291.9 417.2,290.8 417.7,290.7 418.1,290.7 418.5,288.1 418.8,286.4 419.0,288.2 419.2,284.3 419.5,284.3 419.8,282.0 420.1,285.0 420.4,285.7 420.7,284.0 421.0,282.4 421.2,282.2 421.4,283.0 421.5,286.4 421.7,286.7 421.9,288.2 422.1,287.6 422.2,287.7 422.6,287.2 422.9,284.3 423.2,284.3 423.5,283.1 423.9,284.5 424.3,285.7 424.8,283.7 425.2,284.7 425.6,284.4 426.0,284.5 426.3,281.8 426.6,285.4 426.9,284.8 427.2,285.1 427.7,284.4 428.1,284.4 428.5,284.4 428.8,284.4 429.1,280.6 429.4,280.6 429.8,280.6 430.2,280.7 430.6,283.2 431.0,283.2 431.3,283.2 431.6,283.2 431.9,282.8 432.2,281.4 432.7,281.9 433.1,281.8 433.5,281.9 433.9,281.9 434.3,279.5 434.8,279.9 435.2,279.6 435.6,278.8 436.0,278.1 436.4,276.8 436.8,276.8 437.2,277.4 437.4,278.2 437.6,278.2 437.8,278.2 438.0,275.7 438.1,274.3 438.3,271.8 438.5,271.6 438.7,272.6 438.9,271.8 439.0,271.5 439.2,271.4 439.4,268.1 439.6,266.8 439.8,266.4 440.1,265.7 440.4,264.3 440.7,264.3 441.0,263.5 441.3,265.7 441.6,265.7 441.9,262.1 442.2,261.1 442.5,262.6 442.8,263.2 443.0,262.0 443.2,262.4 443.5,259.7 443.6,263.0 443.7,264.2 443.8,263.9 444.0,264.4 444.1,263.9 444.2,262.4 444.3,263.4 444.4,264.7 444.5,265.0 444.6,266.4 444.8,267.3 444.9,268.5 445.0,274.0 445.2,273.3 445.3,267.0 445.4,271.0 445.6,274.7 445.7,273.7 445.9,271.9 446.0,275.1 446.3,275.7 446.6,275.6 446.9,273.8 447.2,273.1 447.6,270.3 447.9,272.6 448.2,273.2 448.5,273.1 448.8,271.7 449.1,272.4 449.4,273.2 449.8,272.7 450.0,273.2 450.2,269.6 450.5,270.0 450.8,269.5 451.0,267.7 451.2,267.6 451.5,265.9 451.8,266.6 452.0,267.2 452.2,264.9 452.6,264.3 452.9,268.0 453.2,268.2 453.5,267.7 453.7,266.4 453.9,264.2 454.0,265.5 454.2,264.7 454.4,262.6 454.6,261.8 454.8,262.3 455.1,261.8 455.4,261.8 455.7,261.8 456.0,264.7 456.2,262.0 456.5,264.1 456.8,263.8 457.0,261.3 457.2,261.5 457.6,259.3 457.9,260.7 458.2,260.5 458.5,259.6 458.8,259.4 459.0,259.4 459.2,257.4 459.5,257.0 459.8,255.8 460.1,254.9 460.4,252.7 460.7,252.3 461.0,252.4 461.4,253.8 461.8,252.9 462.2,253.6 462.4,251.8 462.6,253.6 462.8,251.1 463.0,249.3 463.1,248.6 463.3,248.7 463.5,248.6 463.8,249.2 464.1,251.2 464.4,250.3 464.8,250.6 465.2,249.5 465.6,250.1 466.0,249.3 466.3,249.3 466.6,251.2 466.9,253.2 467.2,253.2 467.4,253.2 467.6,249.7 467.8,249.3 468.0,249.8 468.1,249.3 468.2,251.4 468.3,250.3 468.4,251.9 468.6,251.1 468.7,255.5 468.8,254.0 468.9,256.2 469.0,252.8 469.1,256.8 469.2,256.8 469.3,258.2 469.5,261.8 469.6,262.7 469.7,263.0 469.8,259.7 469.9,260.2 470.0,262.0 470.1,264.0 470.2,266.4 470.5,265.5 470.8,261.8 471.0,261.8 471.2,261.8 471.5,261.3 471.8,259.3 472.1,260.2 472.4,259.3 472.8,257.4 473.1,256.8 473.4,256.8 473.7,258.8 474.0,256.4 474.3,256.0 474.6,256.4 474.9,255.5 475.2,254.9 475.6,254.6 475.9,252.3 476.2,251.8 476.5,251.8 476.9,251.8 477.3,252.9 477.8,253.4 478.2,253.0 478.6,251.8 479.0,251.3 479.4,253.1 479.8,250.8 480.2,250.9 480.7,249.4 481.1,250.7 481.5,249.5 481.8,249.5 482.1,248.6 482.4,249.0 482.8,247.7 483.0,248.2 483.2,245.8 483.5,247.0 483.8,244.4 484.0,243.0 484.3,243.1 484.7,241.3 485.0,243.6 485.2,242.7 485.4,242.7 485.5,240.6 485.7,238.2 485.9,238.0 486.1,237.3 486.2,234.5 486.4,234.0 486.6,233.4 486.7,236.8 486.9,233.6 487.0,231.2 487.2,232.5 487.3,231.4 487.5,233.2 487.7,230.7 487.8,224.3 488.0,224.3 488.2,224.6 488.3,224.3 488.5,224.8 488.6,224.3 488.7,224.3 488.8,229.5 488.9,228.3 489.1,228.3 489.2,230.0 489.3,231.9 489.4,231.3 489.6,227.4 489.7,226.8 489.9,228.2 490.1,228.4 490.2,230.7 490.4,228.2 490.5,228.1 490.6,225.5 490.8,225.8 490.9,223.6 491.0,225.7 491.1,221.6 491.2,220.4 491.4,220.0 491.6,221.6 491.8,217.7 491.9,220.0 492.1,218.8 492.2,219.2 492.4,214.9 492.5,214.4 492.6,214.5 492.7,214.6 492.8,214.2 492.9,211.3 493.0,209.3 493.1,209.8 493.2,210.3 493.3,213.2 493.3,214.5 493.4,213.7 493.5,212.6 493.6,215.7 493.7,214.7 493.8,219.4 493.8,219.4 493.9,217.7 494.0,218.9 494.2,215.5 494.3,219.4 494.5,218.5 494.7,219.4 494.8,216.6 495.0,211.1 495.1,211.9 495.2,210.8 495.4,210.9 495.5,210.8 495.6,208.7 495.8,207.2 495.9,211.6 496.0,212.1 496.2,207.7 496.4,208.1 496.7,206.8 496.9,204.4 497.0,205.7 497.2,202.2 497.3,202.9 497.5,199.5 497.6,199.9 497.8,198.9 498.2,200.7 498.8,200.2 499.0,199.4 499.2,195.8 499.4,194.9 499.6,195.5 499.7,197.2 499.7,198.7 499.8,201.8 499.9,199.0 499.9,201.7 500.0,203.9 500.1,203.6 500.1,203.6 500.2,203.7 500.2,203.8 500.3,205.1 500.4,204.9 500.5,205.4 500.6,206.6 500.7,209.7 500.8,210.7 500.9,207.4 501.0,209.9 501.1,209.6 501.1,208.3 501.2,206.8 501.3,204.6 501.4,204.4 501.4,202.0 501.5,199.3 501.6,200.9 501.7,201.8 501.8,203.6 501.8,201.4 501.9,199.8 502.1,202.5 502.3,203.2 502.5,203.2 502.8,202.1 502.9,202.6 503.1,204.9 503.3,204.2 503.5,205.7 503.9,203.6 504.4,203.6 504.5,205.4 504.5,204.0 504.6,203.8 504.6,205.1 504.7,206.2 504.8,205.1 504.8,208.7 504.9,212.6 504.9,212.6 505.0,212.1 505.1,212.4 505.3,207.8 505.4,209.0 505.6,209.1 505.8,208.0 505.9,207.2 506.2,208.8 506.6,208.8 506.8,207.2 507.1,208.0 507.3,206.0 507.5,205.8 508.0,205.2 508.5,205.7 508.7,208.5 508.9,208.8 509.2,208.8 509.4,209.9 509.6,210.0 509.8,207.4 510.0,210.8 510.2,211.3 510.4,213.1 510.6,212.2 510.8,213.8 511.0,212.5 511.1,214.6 511.2,214.8 511.3,215.4 511.4,216.1 511.5,217.1 511.6,216.0 511.7,222.9 511.7,222.2 511.8,221.7 511.9,223.5 511.9,221.2 512.0,223.4 512.1,225.1 512.1,224.5 512.2,224.5 512.2,226.6 512.3,226.1 512.3,225.7 512.4,226.1 512.4,226.0 512.4,224.2 512.5,225.6 512.5,223.1 512.6,219.7 512.6,217.8 512.6,217.7 512.7,215.6 512.7,215.6 512.8,216.4 512.8,215.5 512.8,212.0 512.9,213.2 512.9,214.7 513.0,214.0 513.0,210.4 513.1,210.7 513.1,208.1 513.1,207.5 513.2,207.9 513.2,206.5 513.3,206.0 513.3,203.1 513.4,205.2 513.4,205.8 513.5,204.4 513.5,202.7 513.6,200.3 513.7,197.5 513.7,196.2 513.8,196.2 513.9,199.7 513.9,196.5 514.0,196.8 514.1,197.8 514.2,196.2 514.4,196.2 514.5,200.5 514.6,201.6 514.7,200.5 514.8,203.3 514.9,203.8 515.0,203.7 515.1,202.2 515.2,205.4 515.3,206.1 515.4,206.9 515.5,206.8 515.7,202.8 515.8,201.8 516.0,203.3 516.1,204.7 516.2,203.2 516.7,202.1 517.1,201.4 517.5,200.6 517.9,202.2 518.0,200.8 518.1,202.0 518.2,202.8 518.3,201.7 518.4,197.5 518.5,199.2 518.6,198.8 518.8,196.8 518.8,194.9 518.9,195.0 519.0,194.6 519.0,191.7 519.1,189.9 519.2,190.6 519.3,190.4 519.3,188.7 519.4,187.4 519.8,188.4 520.2,187.5 520.4,188.8 520.5,186.8 520.6,186.4 520.8,186.1 520.9,186.3 521.0,184.4 521.0,184.4 521.1,180.8 521.1,177.3 521.1,179.1 521.2,179.3 521.2,179.9 521.2,177.0 521.2,176.9 521.4,178.0 521.5,178.2 521.7,178.2 521.8,178.2 521.9,175.6 522.1,170.5 522.2,171.0 522.4,170.0 522.5,169.8 522.8,169.4 523.0,169.7 523.2,170.3 523.5,172.9 523.8,173.8 524.0,173.7 524.2,172.7 524.5,173.2 524.8,173.0 525.0,169.7 525.3,170.7 525.6,167.1 525.9,166.8 526.2,167.4 526.6,165.9 526.9,165.4 527.2,164.3 527.5,165.8 527.8,165.7 528.0,165.7 528.2,165.7 528.5,163.9 528.8,162.0 528.9,163.2 529.0,163.7 529.1,164.5 529.2,165.8 529.3,168.0 529.4,168.0 529.5,168.2 529.7,169.2 529.8,170.7 529.9,169.8 530.0,166.6 530.3,169.3 530.6,172.8 530.9,173.2 531.2,172.4 531.4,173.7 531.6,172.0 531.8,173.4 532.0,175.9 532.1,178.2 532.3,177.3 532.5,179.5 532.5,178.7 532.6,179.4 532.6,176.8 532.7,177.4 532.8,179.8 532.8,182.8 532.9,186.0 532.9,184.2 533.0,184.0 533.0,183.7 533.0,184.4 533.1,187.9 533.1,189.6 533.2,190.7 533.2,190.0 533.3,188.8 533.4,190.6 533.5,187.2 533.6,185.3 533.7,184.8 533.8,183.6 533.8,184.3 533.9,185.8 534.0,183.6 534.1,181.0 534.2,181.1 534.2,180.5 534.6,183.2 534.9,183.2 535.2,183.2 535.5,182.7 535.7,182.3 535.9,179.8 536.0,178.6 536.2,178.8 536.4,178.3 536.6,177.7 536.8,179.6 537.1,178.2 537.4,176.4 537.7,175.7 538.0,174.9 538.3,175.7 538.6,171.8 538.9,171.8 539.2,171.8 539.7,173.0 540.1,173.3 540.5,173.8 540.6,170.5 540.7,171.9 540.8,172.5 541.0,173.0 541.1,172.5 541.2,168.6 541.3,168.5 541.4,169.3 541.5,168.1 541.6,166.4 541.8,164.7 541.9,165.5 542.0,164.2 542.2,162.2 542.3,161.6 542.4,158.8 542.6,161.4 542.7,161.1 542.9,160.5 543.0,157.4 543.2,154.0 543.4,154.1 543.5,155.9 543.7,156.0 543.9,153.1 544.1,151.8 544.2,152.3 544.5,151.8 544.8,155.8 545.0,154.8 545.2,153.1 545.5,156.2 545.8,156.9 546.1,156.9 546.4,155.6 546.8,153.9 547.2,155.0 547.6,155.1 548.0,155.2 548.2,155.2 548.4,154.9 548.5,155.6 548.7,152.6 548.9,152.5 549.1,152.3 549.2,150.8 549.4,149.6 549.5,149.5 549.7,148.9 549.8,148.0 549.9,145.5 550.1,142.7 550.2,146.8 550.4,146.0 550.5,145.9 550.7,141.6 550.9,140.6 551.0,141.2 551.2,141.0 551.4,138.2 551.6,136.8 551.8,137.6 552.1,137.8 552.4,139.7 552.7,138.6 553.0,140.6 553.0,139.7 553.1,140.0 553.1,141.9 553.2,141.4 553.2,143.1 553.3,144.4 553.3,145.8 553.4,147.1 553.4,148.4 553.4,150.5 553.5,149.6 553.5,148.3 553.6,150.1 553.6,154.4 553.7,153.3 553.7,153.9 553.8,153.5 553.8,152.4 553.9,151.2 553.9,150.2 554.0,151.7 554.0,151.3 554.1,150.8 554.1,150.3 554.2,146.9 554.2,145.4 554.3,146.1 554.3,145.6 554.4,141.8 554.4,141.8 554.5,142.8 554.6,140.7 554.7,141.8 554.8,139.4 554.9,138.0 555.0,139.8 555.1,139.0 555.2,140.6 555.3,139.3 555.4,138.0 555.5,134.6 555.6,132.4 555.8,133.2 556.0,135.8 556.2,132.4 556.5,135.6 556.8,134.6 557.0,136.0 557.2,132.9 557.3,133.7 557.5,132.8 557.6,132.9 557.8,132.6 557.9,131.0 558.1,130.7 558.2,130.5 558.4,128.5 558.5,128.5 558.7,128.1 558.8,125.3 558.9,127.7 559.1,126.8 559.2,124.1 559.4,122.7 559.5,123.4 559.6,120.2 559.8,121.3 559.9,118.7 560.1,117.8 560.2,116.5 560.3,114.6 560.5,115.6 560.6,114.3 560.8,114.4 560.9,114.2 561.0,113.2 561.1,112.7 561.2,113.1 561.3,112.4 561.4,111.0 561.5,109.2 561.6,106.4 561.7,106.9 561.8,108.0 561.9,106.7 562.0,105.0 562.1,103.8 562.1,103.6 562.2,100.3 562.2,103.2 562.3,103.3 562.3,101.4 562.4,98.5 562.4,97.1 562.5,98.2 562.6,99.7 562.6,96.7 562.7,95.8 562.7,91.3 562.8,89.4 562.8,90.0 562.9,91.2 562.9,93.2 563.0,91.8 563.3,88.3 563.6,88.1 563.9,86.8 564.2,83.7 564.5,83.0 564.8,85.6 565.0,85.4 565.2,86.2 565.5,87.0 565.7,83.4 565.9,80.6 566.1,78.8 566.3,78.8 566.5,78.9 566.8,79.8 566.8,79.5 566.9,78.8 566.9,82.0 567.0,83.0 567.0,83.8 567.1,83.5 567.2,81.9 567.2,84.5 567.3,89.4 567.3,89.0 567.4,90.4 567.4,88.9 567.5,90.1 567.6,91.4 567.8,91.1 567.9,93.7 568.1,96.1 568.2,94.8 568.3,95.8 568.5,96.8 568.6,96.6 568.8,96.8 569.1,98.4 569.4,98.8 569.7,100.5 570.0,101.2 570.2,103.0 570.4,105.1 570.5,103.6 570.7,102.6 570.9,104.6 571.1,105.6 571.2,104.9 571.3,103.5 571.4,103.8 571.4,104.5 571.5,101.8 571.6,100.5 571.6,100.5 571.7,99.1 571.8,98.7 571.8,97.2 571.9,94.3 571.9,96.0 572.0,93.8 572.1,93.2 572.2,95.1 572.4,90.3 572.5,91.3 572.6,92.5 572.8,92.6 572.9,91.9 573.0,90.6 573.2,89.5 573.5,88.3 573.8,88.7 574.0,86.7 574.1,87.9 574.2,88.3 574.3,88.6 574.4,89.2 574.5,89.6 574.5,89.9 574.6,90.6 574.7,92.1 574.8,94.3 574.9,95.3 575.0,96.7 575.1,96.6 575.3,98.0 575.4,97.6 575.6,99.5 575.7,98.9 575.8,98.4 576.0,100.2 576.1,103.2 576.2,105.3 576.4,104.1 576.5,105.1 576.6,107.1 576.7,105.7 576.8,105.0 576.9,102.1 577.0,105.5 577.2,104.8 577.3,108.1 577.4,109.9 577.5,111.5 577.8,112.0 578.0,112.0 578.2,109.3 578.5,107.3 578.8,107.3 578.9,107.3 579.0,107.7 579.2,109.3 579.3,109.8 579.4,111.0 579.6,113.5 579.7,114.2 579.9,114.4 580.0,115.2 580.2,115.7 580.4,115.4 580.5,114.5 580.7,112.6 580.9,109.3 581.1,110.4 581.2,110.3 581.3,109.3 581.4,111.7 581.5,113.7 581.6,114.4 581.7,116.7 581.8,116.8 581.8,115.2 581.9,118.6 582.0,120.6 582.1,119.8 582.2,120.9 582.2,120.9 582.3,122.5 582.4,122.9 582.5,124.0 582.6,124.8 582.7,125.1 582.8,125.9 582.8,124.7 582.9,125.8 583.0,128.6 583.1,132.6 583.2,128.9 583.2,129.1 583.3,129.2 583.4,132.9 583.5,133.6 583.6,129.5 583.7,132.0 583.8,136.6 583.8,135.2 583.9,134.3 584.0,138.2 584.0,137.2 584.1,136.9 584.2,137.0 584.2,140.6 584.3,140.5 584.4,141.2 584.4,144.4 584.5,143.8 584.6,143.2 584.6,139.9 584.7,140.2 584.8,142.1 584.9,140.6 584.9,138.0 585.0,140.1 585.1,139.2 585.1,136.0 585.2,135.9 585.3,133.2 585.4,132.4 585.4,134.9 585.5,135.9 585.7,132.0 585.9,130.5 586.0,132.9 586.2,130.8 586.4,130.6 586.6,130.3 586.8,126.4 586.9,126.1 587.0,125.5 587.2,125.3 587.3,122.0 587.4,123.7 587.6,124.3 587.7,122.8 587.9,119.3 588.0,117.6 588.2,114.7 588.3,119.8 588.5,118.0 588.6,119.8 588.8,118.9 588.9,115.9 589.1,114.0 589.2,113.9 589.6,115.4 589.9,113.0 590.2,116.2 590.5,117.5 590.8,118.0 591.0,118.1 591.2,119.4 591.5,118.1 591.8,120.1 591.9,120.7 592.1,119.9 592.2,120.7 592.4,119.0 592.5,115.4 592.7,117.9 592.8,116.3 593.0,114.1 593.3,112.8 593.7,113.2 594.0,111.8 594.1,113.5 594.2,114.2 594.3,116.8 594.4,119.1 594.5,117.1 594.6,116.7 594.7,117.0 594.8,116.6 594.9,116.8 595.0,121.3 595.2,121.6 595.4,121.7 595.5,123.1 595.7,123.6 595.9,121.6 596.1,124.0 596.2,124.7 596.5,124.3 596.8,126.7 597.0,125.2 597.2,129.2 597.5,127.5 597.6,128.1 597.7,128.3 597.8,128.7 598.0,133.9 598.1,137.1 598.2,137.0 598.3,135.1 598.4,133.3 598.5,134.2 598.6,135.4 598.8,137.0 598.9,137.8 599.0,134.4 599.1,133.5 599.2,132.4 599.3,131.3 599.4,132.9 599.5,131.2 599.6,127.0 599.7,128.6 599.8,128.7 599.9,130.8 600.0,127.9 600.2,128.5 600.4,128.5 600.5,127.8 600.7,128.6 600.9,131.5 601.1,131.5 601.2,134.3 601.4,134.5 601.6,132.7 601.8,131.8 602.0,131.8 602.1,133.6 602.3,135.1 602.5,138.2 602.7,138.4 602.9,138.2 603.0,140.3 603.2,138.8 603.4,139.2 603.6,141.1 603.8,141.2 604.1,142.4 604.4,142.0 604.7,143.4 605.0,146.0 605.2,148.2 605.4,148.2 605.6,148.2 605.8,147.2 605.9,148.2 606.1,147.5 606.2,144.7 606.4,143.9 606.6,144.2 606.8,142.3 606.9,140.3 607.1,142.9 607.3,141.0 607.5,139.6 607.6,141.2 607.8,140.0 608.0,139.3 608.2,138.0 608.4,136.3 608.5,136.6 608.7,133.7 608.9,132.7 609.1,133.6 609.2,132.4 609.6,130.4 609.9,129.8 610.2,129.3 610.5,130.9 610.8,126.6 611.0,127.9 611.2,128.8 611.5,129.0 611.8,127.6 612.0,124.9 612.2,121.8 612.5,121.8 612.8,122.6 613.0,122.5 613.4,122.8 613.8,124.5 614.2,122.5 614.6,121.4 614.9,121.5 615.2,120.5 615.5,121.1 615.7,122.8 615.9,123.0 616.0,122.5 616.2,123.5 616.4,124.8 616.6,124.4 616.8,125.6 617.1,125.8 617.4,127.8 617.7,125.5 618.0,127.8 618.2,129.0 618.5,129.1 618.8,131.5 619.0,131.9 619.2,132.7 619.6,133.1 619.9,131.8 620.2,130.3 620.5,129.9 620.8,130.2 621.0,130.1 621.2,133.1 621.5,133.1 621.8,134.0 622.0,136.2 622.2,137.2 622.5,137.9 622.8,135.6 623.0,137.2 623.3,138.2 623.6,138.2 623.9,138.3 624.2,139.8 624.6,139.4 624.9,140.0 625.2,137.8 625.5,137.7 625.7,139.4 625.9,140.5 626.0,137.0 626.2,141.7 626.4,140.2 626.6,143.0 626.8,142.3 627.0,142.1 627.2,140.3 627.5,138.7 627.8,139.7 628.0,138.9 628.2,138.6 628.3,138.1 628.5,142.7 628.6,142.5 628.8,142.2 628.9,141.9 629.1,138.1 629.2,143.0 629.4,147.9 629.6,147.4 629.8,148.2 630.0,150.7 630.1,150.7 630.3,150.1 630.5,149.6 630.8,148.1 631.0,149.4 631.2,148.5 631.5,149.0 631.8,146.1 631.9,145.6 632.1,149.6 632.2,150.4 632.4,150.2 632.5,151.5 632.7,150.1 632.8,148.5 633.0,152.2 633.2,151.8 633.4,151.8 633.5,155.1 633.7,158.2 633.9,158.2 634.1,158.2 634.2,157.6 634.4,152.6 634.5,151.2 634.7,153.1 634.8,153.9 634.9,154.8 635.1,152.1 635.2,152.3 635.4,149.3 635.5,149.9 635.7,150.7 635.9,148.7 636.0,147.0 636.2,148.6 636.4,148.7 636.6,146.6 636.8,145.4 637.1,146.0 637.4,144.6 637.7,145.2 638.0,147.6 638.2,148.2 638.5,145.2 638.8,144.3 639.0,146.7 639.2,144.2 639.6,145.0 639.9,146.2 640.2,145.8 640.5,146.3 640.7,145.6 640.8,144.5 641.0,141.6 641.1,141.7 641.3,140.3 641.4,139.3 641.6,140.3 641.8,140.6 641.9,139.1 642.1,138.0 642.3,134.7 642.5,134.6 642.6,134.3 642.8,134.6 643.0,136.6 643.2,135.7 643.3,135.1 643.5,130.8 643.6,130.2 643.8,130.7 643.9,130.6 644.1,129.8 644.2,128.6 644.4,131.0 644.6,130.5 644.7,132.0 644.9,131.8 645.0,131.3 645.2,133.3 645.3,131.5 645.5,133.6 645.8,135.1 646.0,137.3 646.2,137.7 646.5,136.0 646.8,137.8 647.1,138.9 647.4,139.1 647.7,141.9 648.0,138.4 648.2,142.8 648.3,145.4 648.5,143.1 648.6,141.4 648.8,143.9 648.9,140.7 649.1,144.5 649.2,144.5 649.4,149.0 649.6,150.4 649.8,148.5 650.0,150.0 650.1,152.6 650.3,151.7 650.5,152.7 650.6,153.1 650.8,149.8 650.9,148.9 651.1,150.9 651.2,150.7 651.3,148.2 651.5,144.8 651.6,146.5 651.8,144.9 651.9,144.3 652.1,145.4 652.3,147.0 652.5,146.0 652.6,146.5 652.8,147.2 653.0,150.0 653.2,145.7 653.3,147.8 653.5,147.4 653.6,147.6 653.8,147.4 653.9,147.0 654.1,143.1 654.2,143.6 654.6,144.6 654.9,146.7 655.2,146.9 655.5,146.4 655.8,146.9 656.0,145.0 656.2,142.8 656.5,143.6 656.8,142.0 657.2,142.5 657.6,141.0 658.0,138.1 658.3,138.1 658.6,138.2 658.9,140.1 659.2,139.1 659.3,141.8 659.4,144.9 659.5,142.2 659.6,140.2 659.7,144.0 659.8,145.4 659.9,145.7 660.0,149.4 660.2,148.9 660.3,150.1 660.5,144.3 660.6,144.3 660.8,147.7 660.9,150.3 661.1,150.2 661.2,151.4 661.5,151.9 661.8,149.8 662.0,148.5 662.2,149.8 662.5,147.4 662.9,147.6 663.3,146.8 663.8,148.6 664.0,149.4 664.2,148.6 664.5,147.5 664.8,146.4 665.0,145.0 665.4,145.5 665.8,144.9 666.2,146.9 666.7,144.9 667.1,145.7 667.5,146.9 667.8,145.8 668.1,146.5 668.4,146.8 668.8,148.2 669.2,146.2 669.6,146.6 670.0,146.6 670.4,145.6 670.8,145.8 671.2,146.7 671.7,145.9 672.1,145.9 672.5,146.1 672.8,145.6 673.0,145.6 673.2,146.4 673.5,145.8 673.8,149.3 674.1,150.4 674.4,150.1 674.7,147.4 675.0,146.8 675.4,146.8 675.8,146.8 676.2,147.1 676.7,147.6 677.1,148.3 677.5,147.8 677.9,149.4 678.3,149.4 678.8,149.4 679.2,149.2 679.6,148.1 680.0,147.0 680.4,147.8 680.8,147.3 681.2,147.6 681.9,147.6 682.5,147.3 682.9,147.9 683.3,147.8 683.8,149.1 683.9,149.3 684.1,152.0 684.3,154.0 684.5,152.4 684.6,152.1 684.8,151.5 685.0,152.7 685.1,154.3 685.2,155.9 685.2,156.0 685.3,157.1 685.4,157.8 685.5,157.1 685.6,159.8 685.7,159.0 685.8,160.1 685.8,161.8 685.9,163.7 686.0,165.6 686.1,166.5 686.2,165.9 686.2,167.0 686.3,162.8 686.4,164.3 686.5,171.1 686.6,171.9 686.7,171.4 686.8,171.4 686.9,173.1 687.1,172.9 687.2,174.1 687.3,171.9 687.4,173.4 687.5,176.6 687.8,176.7 688.0,178.2 688.2,178.2 688.5,178.2 688.8,174.8 688.9,179.5 689.1,175.9 689.2,173.8 689.4,178.8 689.5,176.3 689.7,180.5 689.8,180.5 690.0,179.6 690.2,179.4 690.4,180.7 690.5,180.7 690.7,176.4 690.9,174.7 691.1,177.1 691.2,174.9 691.4,174.4 691.5,174.4 691.6,178.4 691.7,179.1 691.8,180.2 691.9,180.4 692.0,181.9 692.1,180.0 692.2,179.8 692.3,183.8 692.4,185.7 692.5,188.2 692.8,186.9 693.1,184.3 693.4,186.2 693.8,188.5 693.9,190.8 694.1,189.4 694.3,191.1 694.5,189.2 694.6,189.9 694.8,190.8 695.0,192.6 695.1,192.7 695.2,192.9 695.2,193.2 695.3,188.9 695.4,190.2 695.5,188.9 695.6,186.4 695.7,183.2 695.8,184.5 695.8,183.9 695.9,185.1 696.0,185.7 696.1,183.1 696.2,183.6 696.2,179.8 696.5,179.3 696.8,179.3 697.0,179.3 697.2,180.1 697.5,183.7 697.6,182.7 697.8,181.8 697.9,181.7 698.1,178.5 698.2,179.6 698.3,178.7 698.5,178.8 698.6,178.4 698.8,176.3 699.0,177.4 699.2,178.0 699.5,180.7 699.8,178.2 700.0,179.4 700.2,178.7 700.5,178.0 700.8,178.5 701.0,178.3 701.2,176.1 701.4,175.6 701.6,177.5 701.8,181.1 702.0,178.1 702.1,175.6 702.3,177.6 702.5,180.9 702.8,181.9 703.0,181.9 703.2,181.9 703.5,180.4 703.8,177.5 703.9,178.7 704.0,179.5 704.2,184.4 704.3,183.0 704.4,181.6 704.6,181.0 704.7,183.9 704.9,185.2 705.0,185.2 705.3,185.3 705.6,185.5 705.9,183.2 706.2,182.6 706.5,182.2 706.8,182.8 707.0,184.4 707.2,185.8 707.5,186.4 707.8,184.2 708.1,183.6 708.4,183.1 708.8,183.1 709.1,183.7 709.4,183.1 709.7,183.7 710.0,185.0 710.4,185.7 710.8,185.5 711.2,187.0 711.6,186.1 711.9,186.6 712.2,186.2 712.5,185.9 712.9,187.3 713.3,187.2 713.8,185.7 714.1,187.1 714.4,187.1 714.7,187.2 715.0,186.0 715.3,186.9 715.6,186.9 715.9,184.4 716.2,183.2 716.7,182.2 717.1,183.2 717.5,181.4 717.9,181.7 718.3,182.2 718.8,181.9 718.9,181.9 719.1,181.9 719.3,179.1 719.5,177.3 719.6,177.4 719.8,175.9 720.0,176.1 720.2,176.2 720.4,176.1 720.5,178.4 720.7,179.8 720.9,181.9 721.1,181.4 721.2,181.3 721.7,181.8 722.1,181.9 722.5,180.0 722.9,178.1 723.3,178.1 723.8,178.1 724.2,180.2 724.6,179.6 725.0,179.5 725.4,179.1 725.8,179.3 726.2,180.2 726.7,179.2 727.1,178.7 727.5,176.9 727.8,177.2 728.1,179.2 728.4,176.8 728.8,176.8 729.2,177.5 729.6,178.9 730.0,179.4 730.3,179.0 730.6,179.4 730.9,178.9 731.2,177.6 731.7,177.1 732.1,176.5 732.5,177.3 732.6,178.2 732.6,178.2 732.7,173.1 732.8,174.6 732.8,177.4 732.9,173.2 732.9,169.6 733.0,168.7 733.1,169.2 733.1,169.5 733.2,171.0 733.2,165.2 733.4,165.3 733.6,166.3 733.8,164.7 733.9,161.8 734.1,161.8 734.2,161.7 734.5,160.9 734.8,160.2 735.0,158.6 735.2,158.2 735.5,158.9 735.8,158.7 736.1,158.1 736.4,158.1 736.8,161.4 737.0,159.2 737.2,159.2 737.5,158.7 737.8,160.0 738.0,157.9 738.4,158.7 738.8,158.6 739.2,157.9 739.6,156.5 739.9,156.9 740.2,157.5 740.5,156.2 740.8,157.3 741.0,158.0 741.2,159.5 741.5,160.0 741.8,159.7 742.1,159.1 742.4,157.4 742.7,159.6 743.0,158.4 743.3,158.2 743.6,156.8 743.9,158.1 744.2,152.2 744.4,151.0 744.6,152.8 744.8,151.1 745.0,149.5 745.1,151.4 745.3,153.7 745.5,153.1 745.6,150.7 745.7,148.9 745.8,150.6 745.9,147.5 746.0,147.1 746.1,143.5 746.2,141.5 746.3,144.9 746.4,143.3 746.5,141.9 746.6,139.3 746.8,139.0 746.9,140.7 747.0,140.7 747.1,137.7 747.2,134.9 747.3,136.5 747.4,137.5 747.5,135.1 747.7,136.3 747.8,130.6 747.9,130.6 748.0,131.1 748.4,130.5 748.8,129.3 749.2,129.8 749.4,130.4 749.6,133.0 749.7,133.1 749.9,130.6 750.0,130.9 750.2,133.1 750.3,136.9 750.5,136.4 750.8,134.9 751.0,133.9 751.2,134.9 751.5,134.7 751.8,131.7 752.0,131.9 752.2,132.6 752.5,130.4 752.8,128.1 753.0,128.0 753.4,127.2 753.8,126.8 754.2,127.3 754.4,126.8 754.5,131.3 754.7,133.1 754.8,132.7 754.9,130.3 755.1,130.9 755.2,133.2 755.4,135.2 755.5,135.2 755.8,135.7 756.0,135.7 756.2,135.5 756.5,133.4 756.8,131.4 756.9,133.8 757.1,133.4 757.3,133.8 757.5,135.3 757.6,134.5 757.8,136.9 758.0,136.3 758.2,136.2 758.3,134.8 758.5,133.5 758.6,135.0 758.8,133.2 758.9,133.0 759.1,131.6 759.2,127.2 759.4,126.3 759.6,126.8 759.8,127.0 760.0,128.0 760.1,127.2 760.3,128.9 760.5,125.2 760.6,123.7 760.7,120.5 760.8,118.9 760.9,121.0 761.0,121.1 761.1,122.3 761.2,121.3 761.3,121.0 761.4,119.3 761.5,116.1 761.6,119.8 761.8,118.8 761.9,113.2 762.0,112.4 762.2,112.5 762.3,113.1 762.4,113.0 762.6,108.6 762.7,106.8 762.9,108.3 763.0,107.4 763.2,107.8 763.4,108.2 763.6,108.2 763.8,105.1 763.9,107.0 764.0,107.8 764.2,109.2 764.3,109.9 764.4,109.6 764.6,112.2 764.7,112.3 764.9,113.2 765.0,112.7 765.2,113.2 765.5,111.5 765.8,108.0 766.0,109.4 766.2,108.0 766.6,107.6 766.9,108.6 767.2,107.4 767.5,104.7 767.9,104.3 768.2,104.8 768.3,105.1 768.4,105.6 768.5,109.1 768.6,108.4 768.7,110.3 768.8,112.7 768.9,113.6 769.0,110.2 769.1,109.9 769.2,111.7 769.2,114.4 769.5,116.6 769.8,113.7 770.0,117.1 770.2,116.3 770.5,117.9 770.7,117.4 770.8,119.0 771.0,121.3 771.1,122.5 771.3,120.4 771.4,122.7 771.6,121.2 771.8,123.5 771.9,124.5 772.1,124.5 772.3,124.5 772.5,122.1 772.6,118.0 772.8,118.0 773.0,118.9 773.4,118.4 773.8,117.0 774.2,118.1 774.6,117.5 774.9,118.2 775.2,118.2 775.5,117.6 775.8,115.7 776.0,113.3 776.2,111.3 776.5,110.5 776.8,110.1 777.0,111.5 777.2,112.0 777.5,108.7 777.8,110.1 778.0,107.7 778.2,107.6 778.5,109.8 778.8,108.5 779.0,110.2 779.2,116.3 779.4,115.9 779.6,110.5 779.8,110.5 780.0,111.2 780.1,111.3 780.3,117.0 780.5,116.5 780.8,114.9 781.1,113.6 781.4,114.8 781.8,113.5 781.9,115.9 782.1,113.7 782.3,118.8 782.5,119.4 782.6,119.5 782.8,119.5 783.0,119.3 783.2,119.5 783.5,119.3 783.8,123.2 784.0,122.4 784.2,121.8 784.5,118.6 784.8,119.7 785.0,122.8 785.2,123.0 785.5,118.3 785.8,116.6 786.1,115.5 786.4,115.5 786.8,115.7 787.1,117.6 787.4,117.3 787.7,116.3 788.0,119.2 788.3,119.5 788.6,118.2 788.9,117.9 789.2,115.8 789.7,116.0 790.1,116.8 790.5,116.5 791.1,117.0 791.8,117.2 792.4,118.7 793.0,118.6 793.6,117.3 794.2,119.6 794.4,119.4 794.5,118.2 794.6,119.2 794.8,122.1 794.9,123.4 795.0,128.0 795.1,127.7 795.2,127.1 795.3,126.6 795.4,131.0 795.5,129.7 795.6,130.5 795.7,128.5 795.8,129.2 795.9,131.3 796.0,132.0 796.1,134.4 796.2,133.8 796.7,132.7 797.1,132.9 797.5,132.0 797.9,131.7 798.3,131.8 798.8,132.7 799.1,132.6 799.4,131.2 799.7,132.6 800.0,133.8 800.2,132.4 800.5,130.6 800.8,131.1 801.0,129.3 801.2,130.1 801.6,133.2 801.9,132.9 802.2,133.2 802.5,132.3 802.9,131.9 803.3,132.6 803.8,130.6 804.1,131.8 804.4,130.6 804.7,130.6 805.0,132.0 805.1,133.1 805.3,134.5 805.5,133.8 805.6,135.4 805.8,137.5 805.8,137.8 805.9,135.4 805.9,135.6 806.0,134.6 806.0,134.3 806.1,130.9 806.2,130.6 806.2,130.0 806.3,129.7 806.3,128.7 806.4,130.7 806.5,127.7 806.5,124.2 806.6,123.2 806.6,123.7 806.7,124.3 806.8,124.1 807.2,123.3 807.6,122.9 808.0,122.3 808.4,123.0 808.8,124.3 809.2,124.8 809.6,126.5 809.9,127.0 810.2,127.0 810.5,126.6 810.9,125.6 811.3,124.9 811.8,124.3 812.1,126.5 812.4,126.6 812.7,125.6 813.0,126.7 813.3,127.0 813.6,128.3 813.9,130.7 814.2,133.2 814.6,133.2 814.9,133.2 815.2,133.2 815.5,136.1 815.8,134.7 816.0,136.0 816.2,133.5 816.5,133.8 816.8,135.6 816.9,137.4 817.0,140.4 817.2,142.6 817.3,140.5 817.4,139.8 817.6,140.3 817.7,144.1 817.9,144.4 818.0,143.9 818.2,143.6 818.5,144.4 818.8,144.0 819.0,143.4 819.2,140.3 819.6,136.8 819.9,136.8 820.2,136.8 820.5,137.5 820.8,137.7 821.0,139.8 821.2,140.6 821.5,141.9 821.8,141.4 822.1,141.9 822.4,138.1 822.7,138.7 823.0,138.7 823.2,140.2 823.5,138.5 823.8,140.6 824.0,143.2 824.2,142.2 824.7,141.8 825.1,142.2 825.5,143.3 825.8,140.3 826.0,139.3 826.2,139.3 826.5,141.0 826.8,142.7 827.1,139.9 827.4,138.8 827.7,139.5 828.0,137.3 828.2,138.9 828.5,136.8 828.8,138.7 829.0,140.5 829.2,138.8 829.6,140.6 829.9,140.9 830.2,141.7 830.5,143.4 830.6,140.8 830.8,143.8 830.9,140.9 831.1,141.9 831.2,140.8 831.3,139.5 831.5,137.0 831.6,135.8 831.8,140.5 832.1,136.9 832.4,136.5 832.7,135.5 833.0,134.2 833.3,133.5 833.6,131.7 833.9,130.6 834.2,128.8 834.6,130.5 834.9,130.7 835.2,130.3 835.5,129.2 835.9,128.4 836.3,126.8 836.8,126.8 837.1,130.7 837.4,130.7 837.7,126.8 838.0,129.3 838.2,127.3 838.5,128.5 838.8,127.9 839.0,127.5 839.2,128.5 839.6,126.8 839.9,123.0 840.2,123.0 840.5,123.0 840.9,123.2 841.3,125.7 841.8,125.2 842.0,125.7 842.2,125.7 842.5,123.1 842.8,121.4 843.0,121.1 843.3,121.0 843.6,118.8 843.9,118.0 844.2,118.3 844.7,119.1 845.1,118.9 845.5,116.8 845.9,115.8 846.3,115.5 846.8,115.5 847.1,115.5 847.4,115.5 847.7,115.6 848.0,117.9 848.3,119.5 848.6,119.0 848.9,119.8 849.2,121.6 849.4,124.5 849.6,123.6 849.8,127.0 850.0,126.9 850.1,127.0 850.3,126.9 850.5,127.4 850.8,128.1 851.1,129.4 851.4,129.4 851.8,129.4 852.1,129.4 852.4,128.9 852.7,128.1 853.0,126.6 853.2,127.8 853.3,129.8 853.5,128.9 853.6,129.1 853.8,128.0 853.9,130.2 854.1,131.9 854.2,131.0 854.3,132.9 854.4,136.5 854.4,137.7 854.5,134.6 854.6,135.3 854.6,135.8 854.7,137.3 854.8,136.1 854.8,139.7 854.9,141.2 854.9,143.2 855.0,142.0 855.0,144.3 855.1,146.2 855.1,144.5 855.1,145.2 855.2,144.7 855.2,144.6 855.2,149.7 855.3,152.0 855.3,150.8 855.3,149.6 855.4,149.6 855.4,150.5 855.4,155.7 855.5,155.7 855.5,156.3 855.6,155.2 855.6,155.2 855.7,157.8 855.8,158.9 855.8,158.7 855.9,157.0 855.9,161.3 856.0,161.9 856.1,158.1 856.1,161.1 856.2,163.8 856.2,165.2 856.4,164.4 856.6,161.3 856.7,159.4 856.9,161.3 857.0,158.7 857.2,160.2 857.3,159.7 857.5,159.1 857.7,157.6 857.8,157.5 858.0,155.7 858.1,155.4 858.3,156.2 858.4,157.6 858.6,156.6 858.8,155.8 858.9,153.2 859.1,151.2 859.3,149.7 859.5,150.1 859.6,146.8 859.8,147.8 860.0,147.3 860.3,147.4 860.6,148.4 860.9,149.2 861.2,150.2 861.4,150.7 861.6,150.7 861.7,147.0 861.9,148.3 862.0,146.5 862.2,143.5 862.3,144.2 862.5,144.0 862.8,143.9 863.0,139.3 863.2,140.6 863.5,142.7 863.8,141.1 864.1,139.5 864.4,140.7 864.7,138.4 865.0,137.6 865.2,138.1 865.4,137.4 865.5,140.8 865.7,141.1 865.9,140.6 866.1,139.4 866.2,142.7 866.6,143.2 866.9,140.1 867.2,139.3 867.5,140.0 867.8,140.6 868.0,140.4 868.2,140.5 868.5,143.8 868.8,143.9 868.9,141.7 869.1,141.7 869.3,142.1 869.5,138.4 869.6,139.9 869.8,142.2 870.0,140.1 870.3,138.4 870.6,136.2 870.9,136.2 871.2,134.8 871.4,133.9 871.6,135.9 871.7,134.3 871.9,131.9 872.0,129.4 872.2,129.3 872.3,129.4 872.5,130.3 872.8,128.2 873.0,128.3 873.2,128.4 873.5,129.1 873.8,126.5 874.2,128.2 874.6,127.5 875.0,127.7 875.1,128.0 875.3,127.2 875.4,127.4 875.6,125.8 875.7,123.9 875.8,123.8 876.0,123.9 876.1,122.0 876.2,120.1 876.5,122.6 876.8,122.8 877.0,124.2 877.2,122.8 877.5,123.2 877.8,120.5 878.1,121.1 878.4,121.3 878.8,121.0 879.0,122.9 879.2,124.3 879.5,120.8 879.8,122.2 880.0,124.6 880.3,122.7 880.6,121.8 880.9,121.8 881.2,121.8 881.7,122.9 882.1,123.2 882.5,123.6 882.8,124.3 883.0,124.5 883.2,124.2 883.5,122.9 883.8,120.3 884.2,120.7 884.6,120.7 885.0,121.6 885.4,122.0 885.8,121.7 886.2,119.9 886.5,121.3 886.8,123.0 887.0,122.3 887.2,121.1 887.5,123.6 887.9,124.1 888.3,124.5 888.8,123.6 889.1,125.2 889.4,124.9 889.7,124.0 890.0,124.5 890.4,123.8 890.8,123.0 891.2,123.0 891.6,123.2 891.9,124.6 892.2,125.3 892.5,127.0 892.9,127.0 893.3,127.0 893.8,127.0 894.2,127.0 894.6,127.0 895.0,127.0 895.4,126.6 895.8,124.9 896.2,124.6 896.7,124.4 897.1,125.6 897.5,127.0 897.9,125.6 898.3,125.0 898.8,124.1 899.4,124.6 900.0,124.6 900.4,124.8 900.8,123.3 901.2,124.4 901.7,124.5 902.1,122.9 902.5,123.4 902.7,121.1 902.8,120.9 903.0,122.1 903.1,119.6 903.3,118.8 903.4,119.1 903.6,117.2 903.8,115.6 903.9,114.4 904.1,117.0 904.2,116.7 904.4,113.3 904.5,113.5 904.7,112.5 904.8,111.6 905.0,108.0 905.3,110.7 905.6,110.7 905.9,106.8 906.2,106.8 906.7,106.8 907.1,108.8 907.5,107.7 907.9,107.8 908.3,108.2 908.8,106.8 909.1,108.2 909.4,107.3 909.7,108.1 910.0,109.6 910.3,107.3 910.6,108.4 910.9,107.5 911.2,106.8 911.7,106.3 912.1,107.9 912.5,108.2 912.8,111.3 913.1,108.5 913.4,108.5 913.8,109.5 914.2,109.9 914.6,110.1 915.0,109.7 915.4,110.0 915.8,109.6 916.2,108.6 916.4,109.3 916.6,108.0 916.7,111.2 916.9,112.6 917.0,115.7 917.2,115.0 917.3,114.2 917.5,113.3 917.7,116.8 917.8,117.9 918.0,120.0 918.1,116.1 918.3,116.3 918.4,121.7 918.6,122.0 918.8,121.5 919.0,122.0 919.2,117.3 919.5,117.7 919.8,120.8 920.0,119.5 920.4,117.6 920.8,116.4 921.2,116.1 921.7,117.0 922.1,116.3 922.5,114.3 922.9,114.3 923.3,115.0 923.8,118.9 924.1,119.2 924.4,117.7 924.7,118.2 925.0,118.4 925.3,116.5 925.6,115.5 925.9,115.5 926.2,115.7 926.7,114.9 927.1,114.4 927.5,114.3 927.9,114.3 928.3,115.7 928.8,117.0 929.1,114.8 929.4,114.9 929.7,113.0 930.0,111.8 930.4,112.0 930.8,111.8 931.2,112.9 931.7,112.6 932.1,112.4 932.5,111.3" stroke="#0b8a34" stroke-width="1.5"/>
</g>
<g fill="none" stroke="#137dd3" stroke-width="3.3" stroke-linejoin="miter" stroke-miterlimit="10">
<path d="M479.9,173.7 L494.5,169.8" stroke-linecap="round"/><path d="M484.8,166.1 L494.9,169.6 L487.8,178.2"/>
<path d="M601.9,296.7 L592.6,302.4" stroke-linecap="round"/><path d="M594.0,294.0 L592.1,302.8 L602.2,304.7"/>
</g>
<g fill="#2196f3"><circle cx="7.4" cy="481.3" r="3.15"/><circle cx="12.0" cy="478.25" r="4.15"/><circle cx="19.2" cy="481.25" r="3.45"/><rect x="7.4" y="478.5" width="11.8" height="6.0"/></g>
<path d="M6.0,482.3 L11.6,477.8 L15.6,482.3 L19.7,478.3" stroke="#fff" stroke-width="1.15" fill="none" stroke-linejoin="round" stroke-linecap="round"/>
</svg>
<div class="t b k" style="left:4.34px;top:13.12px;font-size:8.25px;transform:scaleX(1.1159);transform-origin:0 50%;">happykim</div>
<div class="t g" style="left:49.59px;top:13.12px;font-size:8.25px;transform:scaleX(1.1158);transform-origin:0 50%;">published on TradingView.com, October 13, 2020 04:04:17 UTC</div>
<div class="t b k" style="left:4.34px;top:25.96px;font-size:8.2px;transform:scaleX(1.0599);transform-origin:0 50%;">BITSTAMP:BTCUSD, 1D</div>
<div class="t g" style="left:107.33px;top:24.89px;font-size:8.4px;transform:scaleX(1.0952);transform-origin:0 50%;">11473.99</div>
<div class="t g" style="left:157.08px;top:24.89px;font-size:8.4px;transform:scaleX(1.0721);transform-origin:0 50%;">&minus;61.99 (&minus;0.54%)</div>
<div class="t b k" style="left:226.59px;top:25.96px;font-size:8.2px;transform:scaleX(1.1439);transform-origin:0 50%;">O:</div>
<div class="t r" style="left:237.83px;top:24.89px;font-size:8.4px;transform:scaleX(1.1040);transform-origin:0 50%;">11539.42</div>
<div class="t b k" style="left:278.49px;top:25.96px;font-size:8.2px;transform:scaleX(1.0597);transform-origin:0 50%;">H:</div>
<div class="t r" style="left:288.48px;top:24.89px;font-size:8.4px;transform:scaleX(1.1025);transform-origin:0 50%;">11550.51</div>
<div class="t b k" style="left:329.59px;top:25.96px;font-size:8.2px;transform:scaleX(0.9974);transform-origin:0 50%;">L:</div>
<div class="t r" style="left:338.08px;top:24.89px;font-size:8.4px;transform:scaleX(1.1112);transform-origin:0 50%;">11420.00</div>
<div class="t b k" style="left:378.99px;top:25.96px;font-size:8.2px;transform:scaleX(1.0019);transform-origin:0 50%;">C:</div>
<div class="t r" style="left:387.98px;top:24.89px;font-size:8.4px;transform:scaleX(1.1083);transform-origin:0 50%;">11473.99</div>
<svg width="8" height="8" viewBox="0 0 8 8" style="position:absolute;left:147.7px;top:25.3px"><path d="M0.4,0.4H6.8L3.6,6.4Z" fill="#f23838"/></svg>
<div class="t b k" style="left:10.48px;top:46.27px;font-size:8.3px;transform:scaleX(1.0849);transform-origin:0 50%;">Bitcoin / U.S. Dollar, 1D, BITSTAMP</div>
<div class="t g" style="left:10.38px;top:58.00px;font-size:8.5px;transform:scaleX(0.9970);transform-origin:0 50%;">KC1!, ICEUS</div>
<div style="position:absolute;left:935px;top:39px;width:45px;height:406.5px;overflow:hidden;">
<div class="ax" style="left:5.30px;top:-1.74px;">36000.00</div>
<div class="ax" style="left:5.30px;top:23.63px;">24000.00</div>
<div class="ax" style="left:5.30px;top:49.00px;">16000.00</div>
<div class="ax" style="left:5.30px;top:72.44px;">11000.00</div>
<div class="ax" style="left:5.30px;top:100.73px;">7000.00</div>
<div class="ax" style="left:5.30px;top:127.00px;">4600.00</div>
<div class="ax" style="left:5.30px;top:151.69px;">3100.00</div>
<div class="ax" style="left:5.30px;top:176.06px;">2100.00</div>
<div class="ax" style="left:5.30px;top:206.06px;">1300.00</div>
<div class="ax" style="left:5.30px;top:229.07px;">900.00</div>
<div class="ax" style="left:5.30px;top:254.44px;">600.00</div>
<div class="ax" style="left:5.30px;top:279.81px;">400.00</div>
<div class="ax" style="left:5.30px;top:302.13px;">280.00</div>
<div class="ax" style="left:5.30px;top:329.78px;">180.00</div>
<div class="ax" style="left:5.30px;top:355.15px;">120.00</div>
<div class="ax" style="left:5.30px;top:377.46px;">84.00</div>
<div class="ax" style="left:5.30px;top:400.64px;">58.00</div>
</div>
<div class="ax" style="left:987.4px;top:429.03px;">80.00</div>
<div class="ax" style="left:987.4px;top:404.19px;">90.00</div>
<div class="ax" style="left:987.4px;top:379.35px;">100.00</div>
<div class="ax" style="left:987.4px;top:354.51px;">110.00</div>
<div class="ax" style="left:987.4px;top:329.67px;">120.00</div>
<div class="ax" style="left:987.4px;top:304.83px;">130.00</div>
<div class="ax" style="left:987.4px;top:279.99px;">140.00</div>
<div class="ax" style="left:987.4px;top:255.15px;">150.00</div>
<div class="ax" style="left:987.4px;top:230.31px;">160.00</div>
<div class="ax" style="left:987.4px;top:205.47px;">170.00</div>
<div class="ax" style="left:987.4px;top:180.63px;">180.00</div>
<div class="ax" style="left:987.4px;top:155.79px;">190.00</div>
<div class="ax" style="left:987.4px;top:130.95px;">200.00</div>
<div class="ax" style="left:987.4px;top:106.11px;">210.00</div>
<div class="ax" style="left:987.4px;top:81.27px;">220.00</div>
<div class="ax" style="left:987.4px;top:56.43px;">230.00</div>
<div class="ax" style="left:945.7px;top:44.1px;width:22.6px;height:12.3px;border:1px solid #dfe2ea;border-radius:2.5px;background:#fff;box-sizing:border-box;text-align:center;line-height:10.6px;font-size:8.3px;"><span style="display:inline-block;transform:scaleX(0.83);">USD</span></div>
<div class="ax" style="left:990.1px;top:44.1px;width:19.8px;height:12.3px;border:1px solid #dfe2ea;border-radius:2.5px;background:#fff;box-sizing:border-box;text-align:center;line-height:10.6px;font-size:8.3px;"><span style="display:inline-block;transform:scaleX(0.83);">USX</span></div>
<div class="ax" style="left:933.6px;top:106.0px;width:46.8px;height:11.8px;background:#0b8c38;color:#fff;-webkit-text-stroke:0.3px #fff;line-height:11.2px;text-indent:6.6px;font-size:8.4px;">11473.99</div>
<div style="position:absolute;left:934px;top:111.1px;width:3px;height:1px;background:#fff;"></div>
<div class="ax" style="left:938.4px;top:117.8px;width:42px;height:11.9px;background:#0b8c38;color:#fff;-webkit-text-stroke:0.3px #fff;line-height:12.2px;text-indent:3.6px;font-size:8.4px;">19:55:45</div>
<div style="position:absolute;left:933.6px;top:117.3px;width:46.8px;height:1px;background:repeating-linear-gradient(90deg,#cfe9d8 0 2.2px,#3aa35e 2.2px 4.4px);"></div>
<div class="ax" style="left:980.3px;top:354.7px;width:38.7px;height:11.5px;background:#ff7a0a;color:#fff;-webkit-text-stroke:0.3px #fff;line-height:11.5px;text-indent:7.2px;font-size:8.4px;">109.15</div>
<div style="position:absolute;left:980.5px;top:359.9px;width:3px;height:1px;background:#fff;"></div>
<div class="ax b k" style="left:35.75px;width:40px;text-align:center;top:452.6px;font-size:8.6px;">2014</div>
<div class="ax" style="left:99.70px;width:40px;text-align:center;top:452.6px;font-size:8.6px;">Jul</div>
<div class="ax b k" style="left:165.30px;width:40px;text-align:center;top:452.6px;font-size:8.6px;">2015</div>
<div class="ax" style="left:228.00px;width:40px;text-align:center;top:452.6px;font-size:8.6px;">Jul</div>
<div class="ax b k" style="left:293.40px;width:40px;text-align:center;top:452.6px;font-size:8.6px;">2016</div>
<div class="ax" style="left:357.40px;width:40px;text-align:center;top:452.6px;font-size:8.6px;">Jul</div>
<div class="ax b k" style="left:422.20px;width:40px;text-align:center;top:452.6px;font-size:8.6px;">2017</div>
<div class="ax" style="left:486.40px;width:40px;text-align:center;top:452.6px;font-size:8.6px;">Jul</div>
<div class="ax b k" style="left:551.50px;width:40px;text-align:center;top:452.6px;font-size:8.6px;">2018</div>
<div class="ax" style="left:615.90px;width:40px;text-align:center;top:452.6px;font-size:8.6px;">Jul</div>
<div class="ax b k" style="left:681.50px;width:40px;text-align:center;top:452.6px;font-size:8.6px;">2019</div>
<div class="ax" style="left:745.50px;width:40px;text-align:center;top:452.6px;font-size:8.6px;">Jul</div>
<div class="ax b k" style="left:810.60px;width:40px;text-align:center;top:452.6px;font-size:8.6px;">2020</div>
<div class="ax" style="left:874.80px;width:40px;text-align:center;top:452.6px;font-size:8.6px;">Jul</div>
<div class="ax" style="left:950.60px;top:449.30px;width:14px;height:14px;border-radius:7px;background:#f0f3fa;text-align:center;line-height:14px;font-size:8px;">A</div>
<div class="ax" style="left:992.70px;top:449.30px;width:14px;height:14px;border-radius:7px;background:#f0f3fa;text-align:center;line-height:14px;font-size:8px;">B</div>
<div class="t b" id="an1" style="left:456.2px;top:146.3px;font-size:9.1px;color:#1a9bfa;transform:scale(1,1.03);transform-origin:50% 50%;">Bitcoin Price</div>
<div class="t b" id="an2" style="left:578.6px;top:276.2px;font-size:9.3px;color:#1a9bfa;transform:scale(1,1.03);transform-origin:50% 50%;">Coffee Price</div>
<div class="t" id="lg" style="left:23.7px;top:475.6px;font-size:9.15px;color:#454545;">TradingView</div>
</div></body></html>
